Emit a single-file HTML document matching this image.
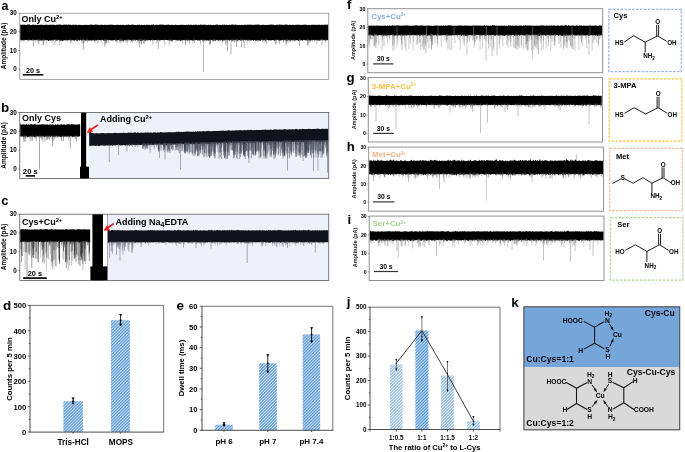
<!DOCTYPE html>
<html lang="en"><head><meta charset="utf-8"><title>Figure</title>
<style>html,body{margin:0;padding:0;background:#fff}body{width:685px;height:452px;overflow:hidden}svg{display:block;font-family:"Liberation Sans", Arial, Helvetica, sans-serif;will-change:transform;transform:translateZ(0)}</style></head><body>
<svg width="685" height="452" viewBox="0 0 685 452">
<defs>
</defs>
<rect width="685" height="452" fill="#fff"/>
<path d="M20.2 24.66 L20.7 24.74 L21.2 24.62 L21.7 24.93 L22.2 24.66 L22.7 24.85 L23.2 24.55 L23.7 25.06 L24.2 24.17 L24.7 24.82 L25.2 25.07 L25.7 24.98 L26.2 25 L26.7 24.71 L27.2 24.46 L27.7 24.59 L28.2 24.57 L28.7 24.82 L29.2 23.91 L29.7 24.8 L30.2 25 L30.7 25.07 L31.2 25.06 L31.7 24.9 L32.2 24.43 L32.7 24.85 L33.2 24.76 L33.7 24.74 L34.2 24.65 L34.7 25.05 L35.2 24.82 L35.7 24.51 L36.2 24.9 L36.7 25 L37.2 25.03 L37.7 24.73 L38.2 24.89 L38.7 24.75 L39.2 24.82 L39.7 25.03 L40.2 24.46 L40.7 24.85 L41.2 25.01 L41.7 24.79 L42.2 24.22 L42.7 25.04 L43.2 25.05 L43.7 25.06 L44.2 24.7 L44.7 25.08 L45.2 24.83 L45.7 24.7 L46.2 24.46 L46.7 25.01 L47.2 24.54 L47.7 25.1 L48.2 25.04 L48.7 24.81 L49.2 24.74 L49.7 24.95 L50.2 24.2 L50.7 25.06 L51.2 25.07 L51.7 24.85 L52.2 24.84 L52.7 24.86 L53.2 24.44 L53.7 24.88 L54.2 24.89 L54.7 24.82 L55.2 24.98 L55.7 24.95 L56.2 24.93 L56.7 24.61 L57.2 24.58 L57.7 24.93 L58.2 25.04 L58.7 24.31 L59.2 24.82 L59.7 24.59 L60.2 24.52 L60.7 24.52 L61.2 24.7 L61.7 25.04 L62.2 25.05 L62.7 24.89 L63.2 24.77 L63.7 24.51 L64.2 24.55 L64.7 24.79 L65.2 24.85 L65.7 24.67 L66.2 24.65 L66.7 24.36 L67.2 25.05 L67.7 25.06 L68.2 24.46 L68.7 24.58 L69.2 24.62 L69.7 24.84 L70.2 24.97 L70.7 24.49 L71.2 25.1 L71.7 24.93 L72.2 25.04 L72.7 24.66 L73.2 24.39 L73.7 24.85 L74.2 24.98 L74.7 24.83 L75.2 24.84 L75.7 24.83 L76.2 24.82 L76.7 24.74 L77.2 24.89 L77.7 25.06 L78.2 24.82 L78.7 25.02 L79.2 24.8 L79.7 24.83 L80.2 24.71 L80.7 25.02 L81.2 25.03 L81.7 24.98 L82.2 24.87 L82.7 24.91 L83.2 25.02 L83.7 24.97 L84.2 25.03 L84.7 24.83 L85.2 24.74 L85.7 24.78 L86.2 25 L86.7 24.88 L87.2 24.69 L87.7 25.05 L88.2 25.05 L88.7 24.96 L89.2 24.64 L89.7 24.6 L90.2 24.97 L90.7 24.57 L91.2 24.83 L91.7 24.54 L92.2 24.77 L92.7 24.63 L93.2 24.72 L93.7 24.96 L94.2 24.98 L94.7 24.74 L95.2 24.92 L95.7 24.12 L96.2 24.48 L96.7 24.76 L97.2 24.89 L97.7 24.76 L98.2 24.51 L98.7 25.01 L99.2 25.05 L99.7 25.03 L100.2 24.78 L100.7 24.97 L101.2 24.53 L101.7 24.81 L102.2 24.7 L102.7 24.96 L103.2 25.02 L103.7 24.95 L104.2 24.82 L104.7 24.84 L105.2 24.97 L105.7 24.66 L106.2 24.92 L106.7 24.67 L107.2 24.88 L107.7 24.68 L108.2 25.03 L108.7 24.67 L109.2 24.58 L109.7 24.71 L110.2 25.05 L110.7 24.74 L111.2 24.31 L111.7 25.05 L112.2 24.83 L112.7 24.79 L113.2 24.79 L113.7 24.92 L114.2 24.93 L114.7 25.09 L115.2 25.01 L115.7 24.98 L116.2 24.79 L116.7 24.64 L117.2 24.79 L117.7 25.1 L118.2 24.72 L118.7 24.84 L119.2 24.89 L119.7 24.96 L120.2 24.81 L120.7 24.81 L121.2 24.94 L121.7 25.06 L122.2 24.84 L122.7 24.78 L123.2 24.84 L123.7 24.95 L124.2 25.06 L124.7 25.09 L125.2 24.91 L125.7 25.05 L126.2 24.65 L126.7 24.86 L127.2 24.77 L127.7 24.93 L128.2 24.49 L128.7 24.55 L129.2 25.05 L129.7 25.02 L130.2 24.69 L130.7 24.92 L131.2 25 L131.7 24.51 L132.2 24.96 L132.7 24.28 L133.2 24.5 L133.7 24.91 L134.2 24.72 L134.7 25.05 L135.2 24.89 L135.7 24.93 L136.2 25.08 L136.7 25.03 L137.2 25.04 L137.7 24.59 L138.2 24.9 L138.7 24.85 L139.2 24.75 L139.7 24.45 L140.2 25.06 L140.7 25.08 L141.2 24.95 L141.7 24.51 L142.2 24.89 L142.7 25.06 L143.2 25.08 L143.7 24.88 L144.2 24.76 L144.7 24.78 L145.2 25 L145.7 24.94 L146.2 24.85 L146.7 24.75 L147.2 24.58 L147.7 24.92 L148.2 25.02 L148.7 24.66 L149.2 25.08 L149.7 24.87 L150.2 24.98 L150.7 25.1 L151.2 24.69 L151.7 24.64 L152.2 24.59 L152.7 25.05 L153.2 24.6 L153.7 24.3 L154.2 24.88 L154.7 24.9 L155.2 25 L155.7 24.75 L156.2 24.62 L156.7 24.9 L157.2 24.84 L157.7 24.98 L158.2 25.08 L158.7 25.1 L159.2 24.77 L159.7 24.51 L160.2 25.1 L160.7 24.24 L161.2 24.4 L161.7 24.73 L162.2 24.83 L162.7 24.26 L163.2 25.03 L163.7 24.44 L164.2 24.96 L164.7 24.82 L165.2 25.07 L165.7 24.92 L166.2 24.6 L166.7 24.83 L167.2 24.77 L167.7 25.02 L168.2 24.21 L168.7 25.07 L169.2 24.53 L169.7 24.99 L170.2 24.92 L170.7 24.92 L171.2 24.67 L171.7 25.1 L172.2 25.09 L172.7 24.46 L173.2 24.98 L173.7 25.05 L174.2 24.98 L174.7 24.97 L175.2 24.64 L175.7 24.62 L176.2 24.81 L176.7 25.02 L177.2 25.08 L177.7 24.94 L178.2 24.92 L178.7 25.07 L179.2 24.85 L179.7 24.97 L180.2 24.48 L180.7 24.89 L181.2 25.08 L181.7 24.79 L182.2 24.5 L182.7 24.97 L183.2 24.72 L183.7 24.98 L184.2 25.08 L184.7 24.98 L185.2 24.83 L185.7 25.01 L186.2 25.06 L186.7 24.74 L187.2 24.98 L187.7 24.98 L188.2 24.36 L188.7 24.77 L189.2 25 L189.7 24.95 L190.2 24.4 L190.7 25.1 L191.2 24.87 L191.7 24.82 L192.2 24.94 L192.7 24.97 L193.2 24.86 L193.7 24.83 L194.2 24.89 L194.7 24.67 L195.2 24.65 L195.7 24.59 L196.2 25.06 L196.7 24.49 L197.2 24.97 L197.7 25.04 L198.2 24.66 L198.7 24.73 L199.2 24.94 L199.7 24.99 L200.2 24.49 L200.7 24.84 L201.2 24.57 L201.7 24.65 L202.2 25 L202.7 24.78 L203.2 24.85 L203.7 24.71 L204.2 24.72 L204.7 24.6 L205.2 24.54 L205.7 24.98 L206.2 24.92 L206.7 25.04 L207.2 24.95 L207.7 24.99 L208.2 24.85 L208.7 24.81 L209.2 24.71 L209.7 25.06 L210.2 24.73 L210.7 24.42 L211.2 24.93 L211.7 25 L212.2 25.05 L212.7 24.89 L213.2 24.98 L213.7 24.82 L214.2 24.93 L214.7 24.93 L215.2 25.05 L215.7 24.82 L216.2 24.24 L216.7 24.85 L217.2 24.27 L217.7 24.99 L218.2 24.67 L218.7 24.93 L219.2 24.95 L219.7 24.69 L220.2 24.66 L220.7 24.99 L221.2 24.98 L221.7 24.98 L222.2 24.8 L222.7 24.36 L223.2 25.05 L223.7 24.74 L224.2 24.43 L224.7 24.72 L225.2 24.85 L225.7 25.07 L226.2 24.7 L226.7 24.64 L227.2 24.91 L227.7 25.01 L228.2 24.96 L228.7 24.99 L229.2 24.68 L229.7 24.73 L230.2 24.98 L230.7 24.83 L231.2 24.54 L231.7 24.75 L232.2 24.82 L232.7 24.19 L233.2 24.85 L233.7 24.75 L234.2 25.03 L234.7 24.73 L235.2 23.99 L235.7 25.03 L236.2 24.88 L236.7 24.78 L237.2 25 L237.7 24.68 L238.2 25.09 L238.7 25.06 L239.2 24.66 L239.7 25.05 L240.2 25.03 L240.7 25 L241.2 24.85 L241.7 24.94 L242.2 24.85 L242.7 24.88 L243.2 25 L243.7 24.98 L244.2 24.77 L244.7 24.58 L245.2 25.03 L245.7 24.86 L246.2 25.05 L246.7 24.65 L247.2 24.47 L247.7 24.84 L248.2 24.78 L248.7 24.81 L249.2 24.82 L249.7 24.47 L250.2 24.87 L250.7 24.77 L251.2 24.73 L251.7 24.85 L252.2 24.74 L252.7 24.67 L253.2 24.95 L253.7 24.82 L254.2 24.93 L254.7 24.87 L255.2 24.61 L255.7 24.7 L256.2 24.84 L256.7 24.41 L257.2 24.59 L257.7 24.66 L258.2 24.84 L258.7 24.16 L259.2 24.9 L259.7 24.62 L260.2 24.92 L260.7 25.07 L261.2 24.99 L261.7 24.96 L262.2 24.88 L262.7 24.25 L263.2 24.93 L263.7 24.82 L264.2 24.75 L264.7 25.08 L265.2 24.97 L265.7 24.88 L266.2 24.9 L266.7 24.82 L267.2 24.81 L267.7 25.04 L268.2 25 L268.7 24.63 L269.2 24.74 L269.7 24.71 L270.2 25.07 L270.7 23.94 L271.2 24.73 L271.7 24.78 L272.2 24.38 L272.7 24.67 L273.2 24.39 L273.7 25.05 L274.2 24.98 L274.7 25.05 L275.2 25.1 L275.7 24.99 L276.2 24.82 L276.7 24.74 L277.2 24.57 L277.7 24.84 L278.2 24.97 L278.7 25.09 L279.2 24.3 L279.7 24.73 L280.2 24.53 L280.7 24.99 L281.2 24.39 L281.7 24.58 L282.2 24.78 L282.7 25.09 L283.2 25.09 L283.7 25.04 L284.2 24.58 L284.7 24.83 L285.2 25.01 L285.7 24.34 L286.2 24.95 L286.7 24.19 L287.2 24.86 L287.7 24.87 L288.2 24.91 L288.7 24.92 L289.2 24.88 L289.7 24.24 L290.2 24.95 L290.7 24.83 L291.2 24.94 L291.7 25.05 L292.2 24.51 L292.7 25.06 L293.2 24.82 L293.7 24.96 L294.2 25.05 L294.7 25.04 L295.2 24.99 L295.7 24.77 L296.2 24.73 L296.7 24.74 L297.2 25.06 L297.7 24.62 L298.2 25.01 L298.7 24.23 L299.2 24.69 L299.7 24.99 L300.2 24.86 L300.7 25.1 L301.2 24.85 L301.7 25.09 L302.2 25.02 L302.7 24.8 L303.2 25.01 L303.7 24.52 L304.2 24.48 L304.7 24.87 L305.2 24.61 L305.7 24.76 L306.2 25.01 L306.7 24.4 L307.2 24.92 L307.7 24.89 L308.2 25.06 L308.7 24.89 L309.2 24.52 L309.7 24.95 L310.2 25.06 L310.7 25.01 L311.2 25 L311.7 24.63 L312.2 24.44 L312.7 25.01 L313.2 24.68 L313.7 24.74 L314.2 25.05 L314.7 24.39 L315.2 24.69 L315.7 25.03 L316.2 24.91 L316.7 24.8 L317.2 24.78 L317.7 25.06 L318.2 24.53 L318.7 24.97 L319.2 24.8 L319.7 24.79 L320.2 24.76 L320.7 24.93 L321.2 25 L321.7 24.49 L322.2 24.9 L322.7 24.53 L323.2 24.84 L323.7 24.95 L324.2 24.86 L324.7 24.97 L325.2 23.93 L325.7 25.05 L326.2 25.07 L326.7 24.85 L327.2 24.29 L327.7 24.89 L328.2 24.61 L328.2 39.89 L327.7 40.17 L327.2 40.1 L326.7 39.93 L326.2 40.21 L325.7 40.68 L325.2 40.18 L324.7 39.9 L324.2 40.08 L323.7 39.99 L323.2 39.9 L322.7 40.05 L322.2 39.83 L321.7 39.86 L321.2 39.83 L320.7 40.08 L320.2 40.01 L319.7 40.63 L319.2 40.5 L318.7 40.16 L318.2 40.33 L317.7 40.52 L317.2 40.25 L316.7 39.92 L316.2 40.17 L315.7 40.18 L315.2 40.08 L314.7 40.32 L314.2 40.76 L313.7 40.03 L313.2 39.87 L312.7 40.08 L312.2 40.28 L311.7 40.29 L311.2 39.8 L310.7 40.5 L310.2 40.42 L309.7 40.73 L309.2 40.14 L308.7 40.05 L308.2 40.12 L307.7 39.9 L307.2 40.4 L306.7 39.84 L306.2 40.44 L305.7 40.41 L305.2 40.07 L304.7 39.8 L304.2 40.62 L303.7 40.01 L303.2 39.81 L302.7 40.86 L302.2 40.47 L301.7 40.21 L301.2 40.03 L300.7 40.77 L300.2 40.06 L299.7 39.83 L299.2 40.04 L298.7 40.63 L298.2 40.56 L297.7 40.16 L297.2 40.25 L296.7 40.28 L296.2 40.37 L295.7 40.62 L295.2 40.16 L294.7 40.15 L294.2 40.26 L293.7 39.87 L293.2 41 L292.7 40.08 L292.2 40.44 L291.7 40.26 L291.2 39.88 L290.7 40.84 L290.2 40.53 L289.7 41.02 L289.2 39.86 L288.7 40.23 L288.2 40.02 L287.7 40.97 L287.2 39.86 L286.7 40.4 L286.2 40.39 L285.7 40.02 L285.2 39.88 L284.7 40.11 L284.2 40.41 L283.7 39.97 L283.2 40.26 L282.7 39.81 L282.2 40.27 L281.7 40.36 L281.2 40.28 L280.7 40.68 L280.2 40.26 L279.7 40.74 L279.2 40.54 L278.7 40 L278.2 40.31 L277.7 39.87 L277.2 40.07 L276.7 39.81 L276.2 40.21 L275.7 39.91 L275.2 40.26 L274.7 40.52 L274.2 40.95 L273.7 39.96 L273.2 40.28 L272.7 39.91 L272.2 40.27 L271.7 40.11 L271.2 40.7 L270.7 39.96 L270.2 40.7 L269.7 40.38 L269.2 39.9 L268.7 39.98 L268.2 40.07 L267.7 39.92 L267.2 40 L266.7 39.85 L266.2 39.94 L265.7 40.22 L265.2 40.38 L264.7 39.89 L264.2 40.29 L263.7 40.58 L263.2 40.19 L262.7 39.9 L262.2 39.87 L261.7 39.86 L261.2 40.1 L260.7 40.5 L260.2 40.92 L259.7 40.5 L259.2 40.47 L258.7 40.71 L258.2 39.96 L257.7 39.99 L257.2 40.68 L256.7 40.82 L256.2 40.26 L255.7 40.89 L255.2 40.19 L254.7 40 L254.2 40.06 L253.7 41.03 L253.2 40.8 L252.7 39.85 L252.2 40.46 L251.7 40.31 L251.2 40.19 L250.7 40.57 L250.2 40.46 L249.7 39.86 L249.2 40.13 L248.7 40.46 L248.2 39.86 L247.7 40.43 L247.2 39.91 L246.7 40.29 L246.2 39.85 L245.7 40.12 L245.2 40.8 L244.7 39.86 L244.2 40.07 L243.7 39.92 L243.2 40.03 L242.7 40.01 L242.2 40.42 L241.7 40.3 L241.2 40.56 L240.7 39.99 L240.2 40.01 L239.7 40.28 L239.2 40.04 L238.7 40.28 L238.2 40.16 L237.7 40.3 L237.2 40.27 L236.7 40.27 L236.2 40.1 L235.7 40.15 L235.2 39.91 L234.7 40.03 L234.2 40.19 L233.7 39.84 L233.2 40.49 L232.7 40.14 L232.2 40.13 L231.7 40.44 L231.2 39.97 L230.7 40.01 L230.2 40.23 L229.7 40.65 L229.2 39.98 L228.7 40.13 L228.2 39.92 L227.7 40.34 L227.2 40.16 L226.7 40 L226.2 39.88 L225.7 40.04 L225.2 40.01 L224.7 40.63 L224.2 39.81 L223.7 40.55 L223.2 40.46 L222.7 41.09 L222.2 40.28 L221.7 40.18 L221.2 40.06 L220.7 40.52 L220.2 40.5 L219.7 39.84 L219.2 40.13 L218.7 41.42 L218.2 39.91 L217.7 40.3 L217.2 40.2 L216.7 39.84 L216.2 40.2 L215.7 40.05 L215.2 40.93 L214.7 40.36 L214.2 40.43 L213.7 40.6 L213.2 40.2 L212.7 40.02 L212.2 40.65 L211.7 40.15 L211.2 39.86 L210.7 40.4 L210.2 40.03 L209.7 40.14 L209.2 40.32 L208.7 39.97 L208.2 41.18 L207.7 40.34 L207.2 40.03 L206.7 41.46 L206.2 39.95 L205.7 40.33 L205.2 39.93 L204.7 40 L204.2 40.78 L203.7 40.58 L203.2 40.51 L202.7 40.08 L202.2 40.63 L201.7 39.83 L201.2 39.96 L200.7 40.1 L200.2 39.92 L199.7 40.7 L199.2 40.13 L198.7 40.5 L198.2 40.19 L197.7 40.95 L197.2 39.91 L196.7 40.08 L196.2 39.99 L195.7 39.96 L195.2 39.99 L194.7 39.89 L194.2 40.1 L193.7 40.62 L193.2 40.39 L192.7 40.44 L192.2 40.45 L191.7 40.13 L191.2 40.18 L190.7 40.31 L190.2 40.26 L189.7 40.3 L189.2 40.24 L188.7 40.1 L188.2 40.43 L187.7 40.48 L187.2 40 L186.7 40.48 L186.2 40.09 L185.7 40.62 L185.2 40.03 L184.7 40.57 L184.2 40.01 L183.7 40.22 L183.2 40.04 L182.7 39.91 L182.2 40.43 L181.7 40.03 L181.2 41.02 L180.7 40.41 L180.2 41.14 L179.7 40.28 L179.2 39.99 L178.7 40.17 L178.2 40.5 L177.7 39.92 L177.2 40.83 L176.7 40.28 L176.2 40.24 L175.7 40.04 L175.2 40.22 L174.7 39.85 L174.2 39.98 L173.7 40.36 L173.2 39.85 L172.7 40.36 L172.2 41.31 L171.7 40.15 L171.2 40.22 L170.7 40.44 L170.2 40.13 L169.7 40.54 L169.2 40.55 L168.7 40.2 L168.2 39.82 L167.7 40.45 L167.2 40.08 L166.7 39.92 L166.2 40.08 L165.7 39.85 L165.2 39.97 L164.7 40.22 L164.2 39.96 L163.7 39.93 L163.2 40.4 L162.7 39.99 L162.2 39.87 L161.7 40.06 L161.2 40.32 L160.7 39.89 L160.2 39.97 L159.7 40.54 L159.2 40.55 L158.7 39.96 L158.2 39.89 L157.7 40.64 L157.2 40.37 L156.7 40.13 L156.2 39.92 L155.7 39.99 L155.2 39.92 L154.7 40.35 L154.2 40.31 L153.7 40.15 L153.2 40.32 L152.7 40 L152.2 39.82 L151.7 39.94 L151.2 40 L150.7 40.97 L150.2 39.97 L149.7 39.91 L149.2 40.35 L148.7 40.39 L148.2 39.81 L147.7 40.67 L147.2 39.8 L146.7 39.91 L146.2 40.39 L145.7 40.22 L145.2 41.09 L144.7 40.38 L144.2 39.83 L143.7 40.31 L143.2 40 L142.7 40.35 L142.2 40.67 L141.7 40.47 L141.2 40.31 L140.7 40.74 L140.2 40.99 L139.7 39.91 L139.2 40.17 L138.7 40.2 L138.2 40.83 L137.7 40.4 L137.2 39.81 L136.7 40.11 L136.2 40.35 L135.7 40.34 L135.2 40.79 L134.7 39.85 L134.2 39.85 L133.7 40.34 L133.2 40.02 L132.7 40.3 L132.2 39.91 L131.7 41.19 L131.2 40.13 L130.7 39.93 L130.2 40.01 L129.7 39.89 L129.2 39.99 L128.7 39.81 L128.2 39.83 L127.7 39.85 L127.2 40.88 L126.7 39.84 L126.2 40.27 L125.7 40.07 L125.2 40.29 L124.7 40.04 L124.2 40.67 L123.7 39.99 L123.2 41.69 L122.7 40.92 L122.2 40.07 L121.7 40.78 L121.2 40.11 L120.7 40.4 L120.2 40.31 L119.7 40.53 L119.2 39.86 L118.7 40.19 L118.2 39.91 L117.7 40.16 L117.2 40.25 L116.7 40.34 L116.2 40.39 L115.7 40.24 L115.2 40.16 L114.7 39.91 L114.2 39.93 L113.7 40.5 L113.2 39.87 L112.7 40.86 L112.2 40.21 L111.7 40.41 L111.2 40.13 L110.7 39.93 L110.2 39.99 L109.7 40.04 L109.2 40.37 L108.7 39.92 L108.2 39.88 L107.7 39.94 L107.2 39.96 L106.7 39.93 L106.2 40.82 L105.7 40.76 L105.2 40.29 L104.7 40.38 L104.2 40.3 L103.7 40.64 L103.2 40.45 L102.7 39.87 L102.2 40.01 L101.7 40.5 L101.2 39.89 L100.7 40.04 L100.2 40.62 L99.7 40.12 L99.2 39.98 L98.7 39.81 L98.2 40.09 L97.7 40.09 L97.2 40.19 L96.7 40.87 L96.2 40.02 L95.7 39.98 L95.2 40.93 L94.7 40.47 L94.2 40.78 L93.7 40.1 L93.2 40.01 L92.7 40.46 L92.2 40.29 L91.7 40.64 L91.2 40.23 L90.7 40.16 L90.2 39.93 L89.7 40.39 L89.2 40.4 L88.7 40.42 L88.2 40.29 L87.7 40.13 L87.2 39.84 L86.7 39.85 L86.2 40.13 L85.7 41.07 L85.2 40.37 L84.7 40.23 L84.2 39.93 L83.7 40.15 L83.2 39.83 L82.7 39.83 L82.2 40.69 L81.7 40.48 L81.2 39.91 L80.7 39.86 L80.2 39.87 L79.7 40.75 L79.2 40.25 L78.7 40.34 L78.2 39.93 L77.7 40.12 L77.2 41.08 L76.7 40.7 L76.2 40.28 L75.7 40.03 L75.2 40.16 L74.7 40.92 L74.2 40.34 L73.7 40.51 L73.2 40.21 L72.7 40.24 L72.2 40.11 L71.7 40.57 L71.2 39.88 L70.7 40.6 L70.2 40.4 L69.7 39.85 L69.2 39.94 L68.7 40.25 L68.2 40.18 L67.7 40.51 L67.2 40.33 L66.7 39.85 L66.2 40.17 L65.7 40.17 L65.2 40.17 L64.7 40.33 L64.2 40.27 L63.7 40.44 L63.2 40.46 L62.7 40.95 L62.2 40.64 L61.7 40.96 L61.2 40.11 L60.7 41.68 L60.2 39.9 L59.7 39.9 L59.2 41.12 L58.7 39.93 L58.2 39.91 L57.7 40.47 L57.2 39.9 L56.7 40.67 L56.2 39.93 L55.7 40.26 L55.2 39.86 L54.7 39.84 L54.2 39.98 L53.7 40.09 L53.2 40.18 L52.7 39.96 L52.2 40.57 L51.7 40.06 L51.2 40.81 L50.7 40.64 L50.2 40.13 L49.7 39.92 L49.2 40.3 L48.7 41.05 L48.2 41.08 L47.7 40.15 L47.2 40.34 L46.7 40.09 L46.2 40.29 L45.7 39.96 L45.2 40.23 L44.7 40.53 L44.2 40.18 L43.7 40 L43.2 40.28 L42.7 40.21 L42.2 40.76 L41.7 40.41 L41.2 40.32 L40.7 40.86 L40.2 39.98 L39.7 40.22 L39.2 40.18 L38.7 40.37 L38.2 40.62 L37.7 40.01 L37.2 40.12 L36.7 39.91 L36.2 40.07 L35.7 40 L35.2 40.05 L34.7 40.22 L34.2 40.14 L33.7 39.87 L33.2 40.13 L32.7 39.8 L32.2 40.07 L31.7 40.24 L31.2 40.34 L30.7 40 L30.2 40.16 L29.7 40.51 L29.2 39.83 L28.7 39.92 L28.2 39.8 L27.7 39.89 L27.2 40.18 L26.7 39.91 L26.2 40.17 L25.7 39.83 L25.2 39.88 L24.7 40.41 L24.2 39.96 L23.7 39.95 L23.2 40.33 L22.7 40.06 L22.2 40.5 L21.7 40.39 L21.2 39.84 L20.7 40.08 L20.2 40Z" fill="#000"/>
<path d="M32.98 38.8V41.26M220.29 38.8V40.8M126.16 38.8V42.61M286.18 38.8V42.01M292.92 38.8V41.45M141.43 38.8V43.74M137.81 38.8V43.23M86.93 38.8V41.12M77.17 38.8V41.81M71.11 38.8V40.88M86.64 38.8V41.47M115.52 38.8V41.4M325.75 38.8V42.51M285.66 38.8V40.89M138.37 38.8V40.81M233.05 38.8V41.16M105.08 38.8V40.8M76.69 38.8V40.96M141.44 38.8V44.49M240.36 38.8V40.97M131.66 38.8V40.84M308.35 38.8V41.15M255.87 38.8V42.8M299.27 38.8V40.8M119.68 38.8V41.21M46.33 38.8V44.09M120.65 38.8V43.15M180.23 38.8V40.8M141.75 38.8V40.92M33.33 38.8V40.84M203.59 38.8V40.8M116.67 38.8V41.33M187.8 38.8V40.83M237.73 38.8V40.96M243.52 38.8V42.43M65.99 38.8V40.89M106.87 38.8V42.73M145.23 38.8V41.22M286.65 38.8V40.91M110.47 38.8V41.11M87.04 38.8V40.8M28.33 38.8V42.22M194.54 38.8V43.45M320.31 38.8V41.02M226.64 38.8V44.44M87.18 38.8V42.57M225.44 38.8V44.81M287.39 38.8V40.92M214.98 38.8V40.81M152.11 38.8V41.23M39.25 38.8V41.21M121.55 38.8V41.58M106.7 38.8V40.85M144.35 38.8V41.5M71.98 38.8V42.42M94.42 38.8V40.81M125.74 38.8V41.32M67.09 38.8V41.97M236.12 38.8V41.82M235.76 38.8V40.8M140.95 38.8V41.16M40.12 38.8V41.27M37.57 38.8V41.58M200.67 38.8V41.48M120.74 38.8V40.95M28.02 38.8V41.12M294.57 38.8V41.88M101.2 38.8V42.44M77.9 38.8V41.48M209.68 38.8V44.81M132.13 38.8V41.93M310.11 38.8V43.15M213.39 38.8V42.17M146.96 38.8V41.3M105.59 38.8V43.62M290.88 38.8V41.21M300.05 38.8V40.8M62.51 38.8V41.62M115.54 38.8V41.15M320.73 38.8V40.84M79.88 38.8V40.91M229.61 38.8V40.92M21.09 38.8V41.78M141.73 38.8V40.93M172.34 38.8V42.33M189.08 38.8V42.19M192.95 38.8V43.63M318.23 38.8V41.09M127.23 38.8V44.13M117 38.8V42.75M234.28 38.8V42.56M316.72 38.8V43.58M69.76 38.8V42.17M171.43 38.8V41.87M134.24 38.8V41M250.73 38.8V41.74M93.57 38.8V40.94M120.57 38.8V40.86M178.52 38.8V40.83M40.21 38.8V40.81M52.18 38.8V42.68M55.42 38.8V41.42M257.84 38.8V41.52M70.71 38.8V43.94M287.84 38.8V40.8M98.75 38.8V41.63M265.31 38.8V41.23M240.6 38.8V40.94M240.53 38.8V41.07M123.29 38.8V43.06M279.51 38.8V43.61M195.01 38.8V41.32M237.83 38.8V42.18M275.92 38.8V43.39M59.24 38.8V41.19M226.29 38.8V40.92M77.49 38.8V40.8M200.56 38.8V44.67M318.72 38.8V40.83M231.89 38.8V41.31M214.66 38.8V41.25M307.35 38.8V45.18M35.75 38.8V42.73M57.15 38.8V40.8M108.61 38.8V42.86M325.84 38.8V40.82M122.13 38.8V40.8M187.37 38.8V41.53M135.44 38.8V41.04M266.55 38.8V43.7M107.91 38.8V41.23M210.45 38.8V43.11M321.96 38.8V41.23M233.87 38.8V41.79M266.45 38.8V40.84M74.55 38.8V40.82M307.4 38.8V40.94M170.7 38.8V40.82M120.16 38.8V40.8M194.54 38.8V40.84M212.76 38.8V40.98M90.66 38.8V41.53M133.11 38.8V40.95M36.53 38.8V40.8M294.84 38.8V41.04M44.87 38.8V40.86M169.22 38.8V45.27M82.88 38.8V43.95M169.47 38.8V41.3M268.55 38.8V41.24M38.5 38.8V41.81M222.46 38.8V42.18M105.87 38.8V44.64M286.23 38.8V45.24M156.86 38.8V43.66M243.36 38.8V40.86M29.02 38.8V40.85M57.26 38.8V40.81M130.99 38.8V43.02M115.97 38.8V41.65M24.02 38.8V40.89M315.29 38.8V40.8M182.67 38.8V43.46M264.03 38.8V42.89M143.38 38.8V43.4M274.89 38.8V43.12M323.48 38.8V40.81M312.57 38.8V41.26M237.32 38.8V40.94M300.06 38.8V40.8M197.88 38.8V40.91M140.04 38.8V41.17M222.49 38.8V43.46M132.76 38.8V42.26M129.49 38.8V40.99M298.68 38.8V41.06M49.7 38.8V41.09M248.48 38.8V40.89M248.96 38.8V41.79M229.63 38.8V40.86M53.29 38.8V40.83M128.35 38.8V41.35M23.7 38.8V41.61M144.63 38.8V41.06M185.7 38.8V44.78M83.64 38.8V44.07M119.31 38.8V43.02M54.07 38.8V45.16M152.84 38.8V44.89M88.23 38.8V41.28M237.56 38.8V40.86M104.72 38.8V42.5M311.74 38.8V41.07M77.12 38.8V41.14M324.57 38.8V40.84M215.66 38.8V41.2M218.47 38.8V40.89M210 38.8V44.14M283.7 38.8V42.21M175.79 38.8V41.89M55.84 38.8V43.69M232.58 38.8V41.42M225.09 38.8V41.31M138.89 38.8V40.91M205.2 38.8V41.92M178.98 38.8V40.8M213.39 38.8V41.4M202.96 38.8V42.03M306.8 38.8V40.84M164.69 38.8V45.22M247.36 38.8V41.05M246.98 38.8V45.18M144.24 38.8V43.95M59.69 38.8V45.19M171.56 38.8V40.92M278.75 38.8V42.33M308.67 38.8V43.62M265.69 38.8V41.64M325.86 38.8V40.8M287.92 38.8V42.72M97.77 38.8V43.43M160.2 38.8V41.75M286.52 38.8V40.88M106.64 38.8V42.3M43.38 38.8V41.83M262.45 38.8V41.56M95.03 38.8V43.38M283.3 38.8V43.15M189.43 38.8V44.31M265.41 38.8V40.84M133.12 38.8V40.81M32.1 38.8V41.12M286.31 38.8V43.66M56.84 38.8V40.86M140.11 38.8V43.79M210.24 38.8V44.28M42.87 38.8V45.16M84.27 38.8V42.21M289.91 38.8V42.83M81.3 38.8V42.44" stroke="#444" stroke-width="0.35" fill="none" opacity="1.0"/>
<path d="M33.4 38.8V46.5M38.7 38.8V44.5M43.5 38.8V45M83.4 38.8V49M104.8 38.8V47M139.3 38.8V47.5M158.3 38.8V49M185.5 38.8V45M203.4 38.8V72M227.5 38.8V51M231 38.8V54.5M236.5 38.8V47M241.5 38.8V47.5M244.3 38.8V48M276 38.8V45M299.5 38.8V46M308 38.8V46M322 38.8V45" stroke="#555" stroke-width="0.45" fill="none" opacity="1.0"/>
<rect x="19.8" y="13.2" width="309" height="66.2" fill="none" stroke="#7a7a7a" stroke-width="0.65"/>
<line x1="18.4" y1="13.2" x2="19.8" y2="13.2" stroke="#333" stroke-width="0.6"/>
<text x="16.8" y="15.47" font-size="6.3" font-weight="bold" text-anchor="end" fill="#000" >30</text>
<line x1="18.4" y1="31.8" x2="19.8" y2="31.8" stroke="#333" stroke-width="0.6"/>
<text x="16.8" y="34.07" font-size="6.3" font-weight="bold" text-anchor="end" fill="#000" >20</text>
<line x1="18.4" y1="50.5" x2="19.8" y2="50.5" stroke="#333" stroke-width="0.6"/>
<text x="16.8" y="52.77" font-size="6.3" font-weight="bold" text-anchor="end" fill="#000" >10</text>
<line x1="18.4" y1="69.2" x2="19.8" y2="69.2" stroke="#333" stroke-width="0.6"/>
<text x="16.8" y="71.47" font-size="6.3" font-weight="bold" text-anchor="end" fill="#000" >0</text>
<text transform="translate(6.2,46) rotate(-90)" font-size="6.5" font-weight="bold" text-anchor="middle" fill="#000">Amplitude (pA)</text>
<text x="1.6" y="9.7" font-size="12.4" font-weight="bold" text-anchor="start" fill="#000" >a</text>
<text x="21.5" y="21.9" font-size="9" font-weight="bold" text-anchor="start" fill="#000" >Only Cu<tspan dy="-2.97" font-size="5.85">2+</tspan></text>
<line x1="22.8" y1="74.8" x2="43.4" y2="74.8" stroke="#000" stroke-width="1.5"/>
<text x="33.1" y="72.6" font-size="7.2" font-weight="bold" text-anchor="middle" fill="#000" >20 s</text>
<rect x="88.3" y="112.5" width="240.5" height="66" fill="#eef1fa"/>
<path d="M20.2 124.61 L20.7 123.51 L21.2 124.73 L21.7 124.61 L22.2 124.6 L22.7 124.49 L23.2 124.13 L23.7 124.48 L24.2 124.77 L24.7 124.45 L25.2 124.71 L25.7 124.52 L26.2 124.23 L26.7 124.35 L27.2 124.64 L27.7 124.75 L28.2 124.56 L28.7 124.3 L29.2 124.38 L29.7 124.69 L30.2 124.38 L30.7 124 L31.2 124.37 L31.7 124.35 L32.2 124.53 L32.7 124.47 L33.2 124.66 L33.7 124.43 L34.2 124.6 L34.7 123.77 L35.2 124.56 L35.7 124.12 L36.2 124.39 L36.7 124.67 L37.2 124.63 L37.7 124.48 L38.2 124.64 L38.7 124.76 L39.2 124.17 L39.7 124.65 L40.2 124.76 L40.7 124.23 L41.2 124.45 L41.7 124.56 L42.2 124.33 L42.7 124.21 L43.2 124.23 L43.7 124.59 L44.2 124.66 L44.7 124.13 L45.2 124.38 L45.7 124.58 L46.2 124.54 L46.7 124.54 L47.2 123.89 L47.7 124.69 L48.2 124.74 L48.7 124.65 L49.2 124.77 L49.7 124.56 L50.2 124.47 L50.7 124.19 L51.2 124.46 L51.7 124.75 L52.2 124.68 L52.7 124.36 L53.2 124.72 L53.7 124.8 L54.2 124.79 L54.7 124.69 L55.2 124.4 L55.7 124.4 L56.2 124.72 L56.7 124.71 L57.2 124.8 L57.7 124.09 L58.2 124.65 L58.7 124.61 L59.2 124.41 L59.7 124.78 L60.2 124.43 L60.7 124.51 L61.2 124.44 L61.7 124.35 L62.2 124.57 L62.7 124.76 L63.2 124.57 L63.7 124.58 L64.2 124.57 L64.7 124.19 L65.2 124.77 L65.7 124.67 L66.2 124.74 L66.7 124.61 L67.2 123.85 L67.7 124.54 L68.2 124.48 L68.7 124.19 L69.2 123.93 L69.7 124.55 L70.2 124.73 L70.7 124.59 L71.2 123.95 L71.7 124.49 L72.2 124.38 L72.7 124.33 L73.2 124.26 L73.7 124.27 L74.2 124.62 L74.7 124.75 L75.2 124.03 L75.7 124.78 L76.2 124.73 L76.7 124.5 L77.2 124.62 L77.7 124.51 L78.2 124.68 L78.7 124.09 L79.2 124.46 L79.7 123.95 L80.2 124.55 L80.2 136.23 L79.7 136.53 L79.2 136.33 L78.7 136.48 L78.2 136.63 L77.7 136.46 L77.2 136.75 L76.7 136.36 L76.2 136.43 L75.7 136.31 L75.2 136.63 L74.7 136.59 L74.2 136.59 L73.7 136.76 L73.2 136.51 L72.7 137.45 L72.2 136.82 L71.7 136.5 L71.2 136.24 L70.7 136.34 L70.2 136.42 L69.7 137.1 L69.2 136.38 L68.7 136.36 L68.2 136.75 L67.7 136.77 L67.2 136.36 L66.7 136.47 L66.2 136.35 L65.7 136.5 L65.2 136.73 L64.7 136.81 L64.2 136.26 L63.7 137.14 L63.2 136.75 L62.7 136.51 L62.2 136.23 L61.7 137 L61.2 136.63 L60.7 137.07 L60.2 136.73 L59.7 136.27 L59.2 137.1 L58.7 136.26 L58.2 136.52 L57.7 137.36 L57.2 136.25 L56.7 136.21 L56.2 136.3 L55.7 136.42 L55.2 136.7 L54.7 136.47 L54.2 136.4 L53.7 136.59 L53.2 136.79 L52.7 136.81 L52.2 136.8 L51.7 136.31 L51.2 136.33 L50.7 136.66 L50.2 136.93 L49.7 136.27 L49.2 136.44 L48.7 136.45 L48.2 136.61 L47.7 136.42 L47.2 136.57 L46.7 136.37 L46.2 136.93 L45.7 136.57 L45.2 136.27 L44.7 137.01 L44.2 137.18 L43.7 136.6 L43.2 136.35 L42.7 136.25 L42.2 136.31 L41.7 136.72 L41.2 136.49 L40.7 136.74 L40.2 136.37 L39.7 136.49 L39.2 136.41 L38.7 136.34 L38.2 136.65 L37.7 136.34 L37.2 136.4 L36.7 136.34 L36.2 136.39 L35.7 136.91 L35.2 136.65 L34.7 137.15 L34.2 136.79 L33.7 136.35 L33.2 136.89 L32.7 136.71 L32.2 136.43 L31.7 136.63 L31.2 136.23 L30.7 136.45 L30.2 136.4 L29.7 136.5 L29.2 136.99 L28.7 136.42 L28.2 137.07 L27.7 137.55 L27.2 136.9 L26.7 136.37 L26.2 136.55 L25.7 136.78 L25.2 136.53 L24.7 136.69 L24.2 136.36 L23.7 137.33 L23.2 136.94 L22.7 136.32 L22.2 136.45 L21.7 136.6 L21.2 136.45 L20.7 136.49 L20.2 136.28Z" fill="#000"/>
<path d="M28.39 135.3V137.51M39.18 135.3V137.36M23.7 135.3V142.24M69.36 135.3V137.34M49.26 135.3V140.37M50.67 135.3V137.31M40.91 135.3V137.9M74.94 135.3V138.82M47.97 135.3V139.11M23.68 135.3V139.48M68.63 135.3V139.38M42.16 135.3V137.62M21.4 135.3V137.32M29.95 135.3V138.18M66.87 135.3V137.47M48.76 135.3V139.15M58.07 135.3V137.3M75.3 135.3V138.84M38.75 135.3V137.52M61.59 135.3V141.59M40.77 135.3V137.96M53.78 135.3V137.41M44.83 135.3V141.44M53.74 135.3V140.56M36.3 135.3V140.97M67.13 135.3V137.49M52.18 135.3V139.45M54.71 135.3V138.94M35.01 135.3V138.66M41.79 135.3V140.34M42.86 135.3V142.08M55.17 135.3V137.49M45.41 135.3V137.35M64.39 135.3V137.31M56.61 135.3V137.67M66.8 135.3V137.35M61.08 135.3V139.68M34.6 135.3V137.36M42.85 135.3V139.23M36.25 135.3V137.3M46.93 135.3V140.43M30.14 135.3V141.67M50.89 135.3V137.39M26.72 135.3V137.86M49 135.3V137.41M25.78 135.3V138.39M35.84 135.3V138.14M47.48 135.3V139.56M54.99 135.3V137.49M31.44 135.3V140.88M23.79 135.3V137.35M24.94 135.3V140.59M52.83 135.3V141.5M57.88 135.3V137.75M46.28 135.3V139.82" stroke="#444" stroke-width="0.35" fill="none" opacity="1.0"/>
<path d="M25 135.3V142M32.5 135.3V141M39.5 135.3V169.5M52.6 135.3V146.5M63.5 135.3V141M70.3 135.3V148.5M76.5 135.3V141.5" stroke="#555" stroke-width="0.5" fill="none" opacity="1.0"/>
<path d="M89.2 132.24 L89.7 132.23 L90.2 132.09 L90.7 132.03 L91.2 132.4 L91.7 132.64 L92.2 133.15 L92.7 132.85 L93.2 133.21 L93.7 133.11 L94.2 133.3 L94.7 133.37 L95.2 133.42 L95.7 133.37 L96.2 132.92 L96.7 133.22 L97.2 133.27 L97.7 133.29 L98.2 133.4 L98.7 133.31 L99.2 133.26 L99.7 133.38 L100.2 133.11 L100.7 133.36 L101.2 133.3 L101.7 133.19 L102.2 132.99 L102.7 132.73 L103.2 133.23 L103.7 133.11 L104.2 133.19 L104.7 133.13 L105.2 133.27 L105.7 133.25 L106.2 133.29 L106.7 133.18 L107.2 133.2 L107.7 133.05 L108.2 132.84 L108.7 133.17 L109.2 133.11 L109.7 133.24 L110.2 132.99 L110.7 133.26 L111.2 133.17 L111.7 133.09 L112.2 133.21 L112.7 133.23 L113.2 133.05 L113.7 132.91 L114.2 133.1 L114.7 132.78 L115.2 132.74 L115.7 133 L116.2 132.87 L116.7 133.04 L117.2 132.97 L117.7 133.15 L118.2 133.13 L118.7 132.96 L119.2 132.83 L119.7 133.15 L120.2 132.78 L120.7 133.02 L121.2 133.09 L121.7 132.95 L122.2 133.03 L122.7 132.63 L123.2 133 L123.7 132.5 L124.2 132.93 L124.7 133.09 L125.2 132.98 L125.7 132.74 L126.2 132.97 L126.7 132.98 L127.2 133 L127.7 132.83 L128.2 132.61 L128.7 132.53 L129.2 132.62 L129.7 133.01 L130.2 131.92 L130.7 132.98 L131.2 132.9 L131.7 132.62 L132.2 132.64 L132.7 132.98 L133.2 132.79 L133.7 132.53 L134.2 132.48 L134.7 132.54 L135.2 132.12 L135.7 132.63 L136.2 132.71 L136.7 132.93 L137.2 132.55 L137.7 132.49 L138.2 132.67 L138.7 132.49 L139.2 132.92 L139.7 132.91 L140.2 132.81 L140.7 132.44 L141.2 132.62 L141.7 132.71 L142.2 132.83 L142.7 132.78 L143.2 132.76 L143.7 132.78 L144.2 132.86 L144.7 132.49 L145.2 132.76 L145.7 132.24 L146.2 132.61 L146.7 132.44 L147.2 132.78 L147.7 132.26 L148.2 132.69 L148.7 132.34 L149.2 132.75 L149.7 132.75 L150.2 132.27 L150.7 132.51 L151.2 132.73 L151.7 132.57 L152.2 132.68 L152.7 132.63 L153.2 132.45 L153.7 132.35 L154.2 132.53 L154.7 132.24 L155.2 132.59 L155.7 132.28 L156.2 132.64 L156.7 132.69 L157.2 132.2 L157.7 132.41 L158.2 132.37 L158.7 132.66 L159.2 132.42 L159.7 132.42 L160.2 132.1 L160.7 132.37 L161.2 132.12 L161.7 132.55 L162.2 132.29 L162.7 132.41 L163.2 132.31 L163.7 132.54 L164.2 132.45 L164.7 132.4 L165.2 132.13 L165.7 132.4 L166.2 132.25 L166.7 132.36 L167.2 132.33 L167.7 132.43 L168.2 132.37 L168.7 132.12 L169.2 132.32 L169.7 132.26 L170.2 131.98 L170.7 132.34 L171.2 132.18 L171.7 132.21 L172.2 132.22 L172.7 132.23 L173.2 132.27 L173.7 132.15 L174.2 132.32 L174.7 132.09 L175.2 132.24 L175.7 131.91 L176.2 132.14 L176.7 131.55 L177.2 131.85 L177.7 131.93 L178.2 132 L178.7 131.58 L179.2 131.95 L179.7 131.76 L180.2 131.76 L180.7 132.14 L181.2 131.84 L181.7 131.76 L182.2 131.92 L182.7 131.92 L183.2 131.69 L183.7 132.01 L184.2 131.46 L184.7 131.95 L185.2 131.53 L185.7 131.73 L186.2 131.71 L186.7 131.68 L187.2 131.06 L187.7 131.63 L188.2 131.77 L188.7 131.4 L189.2 131.63 L189.7 131.71 L190.2 131.44 L190.7 131.69 L191.2 131.63 L191.7 131.65 L192.2 131.73 L192.7 131.67 L193.2 131.67 L193.7 131.52 L194.2 131.67 L194.7 131.63 L195.2 131.75 L195.7 131.32 L196.2 131.62 L196.7 131.7 L197.2 131.31 L197.7 131.32 L198.2 131.38 L198.7 131.62 L199.2 131.22 L199.7 131.27 L200.2 131.46 L200.7 131.15 L201.2 131.42 L201.7 131.16 L202.2 131.48 L202.7 131.08 L203.2 131.37 L203.7 131.06 L204.2 131.01 L204.7 131.39 L205.2 131.21 L205.7 131.45 L206.2 131.28 L206.7 131.03 L207.2 131.09 L207.7 131.26 L208.2 130.85 L208.7 131.05 L209.2 131.2 L209.7 131.31 L210.2 131.28 L210.7 131.06 L211.2 131.25 L211.7 131.18 L212.2 131.27 L212.7 131.08 L213.2 131.11 L213.7 131.08 L214.2 130.99 L214.7 131.12 L215.2 130.88 L215.7 131.1 L216.2 130.67 L216.7 130.95 L217.2 130.93 L217.7 131.11 L218.2 131.08 L218.7 130.81 L219.2 130.86 L219.7 130.94 L220.2 130.72 L220.7 130.81 L221.2 130.69 L221.7 130.76 L222.2 130.79 L222.7 130.62 L223.2 130.81 L223.7 130.61 L224.2 130.92 L224.7 130.71 L225.2 130.78 L225.7 130.61 L226.2 130.78 L226.7 130.86 L227.2 130.74 L227.7 130.38 L228.2 130.07 L228.7 130.6 L229.2 130.45 L229.7 130.55 L230.2 130.77 L230.7 130.52 L231.2 130.73 L231.7 130.6 L232.2 130.5 L232.7 130.51 L233.2 130.44 L233.7 130.61 L234.2 130.63 L234.7 130.54 L235.2 130.11 L235.7 130.38 L236.2 130.17 L236.7 130.4 L237.2 130.55 L237.7 130.13 L238.2 130.29 L238.7 130.22 L239.2 130.14 L239.7 130.37 L240.2 130.09 L240.7 130.35 L241.2 130.1 L241.7 130.35 L242.2 130.31 L242.7 130.4 L243.2 130.15 L243.7 130.15 L244.2 129.97 L244.7 130.08 L245.2 130.14 L245.7 130.35 L246.2 130.21 L246.7 130.16 L247.2 130.31 L247.7 129.78 L248.2 130.24 L248.7 129.8 L249.2 129.89 L249.7 130.21 L250.2 129.99 L250.7 129.75 L251.2 129.85 L251.7 129.97 L252.2 129.91 L252.7 130.2 L253.2 130.13 L253.7 130.2 L254.2 129.99 L254.7 129.89 L255.2 130.2 L255.7 129.91 L256.2 129.76 L256.7 130.03 L257.2 130.07 L257.7 129.91 L258.2 129.89 L258.7 129.91 L259.2 130.04 L259.7 129.98 L260.2 130.04 L260.7 130 L261.2 130.01 L261.7 129.9 L262.2 130.08 L262.7 129.4 L263.2 129.78 L263.7 129.89 L264.2 129.97 L264.7 129.45 L265.2 129.63 L265.7 129.6 L266.2 129.72 L266.7 129.71 L267.2 129.91 L267.7 129.69 L268.2 129.81 L268.7 129.66 L269.2 129.93 L269.7 129.83 L270.2 129.48 L270.7 129.57 L271.2 129.64 L271.7 129.87 L272.2 129.9 L272.7 129.87 L273.2 129.55 L273.7 129.72 L274.2 129.38 L274.7 129.3 L275.2 129.58 L275.7 129.44 L276.2 129.29 L276.7 129.77 L277.2 129.2 L277.7 129.77 L278.2 129.7 L278.7 129.77 L279.2 129.33 L279.7 129.47 L280.2 129.55 L280.7 129.47 L281.2 129.56 L281.7 129.51 L282.2 129.65 L282.7 129.44 L283.2 129.37 L283.7 129.46 L284.2 129.36 L284.7 129.27 L285.2 129.29 L285.7 129.12 L286.2 129.63 L286.7 129.55 L287.2 129.58 L287.7 129.58 L288.2 129.29 L288.7 129.52 L289.2 129.33 L289.7 129.24 L290.2 129.36 L290.7 129.39 L291.2 129.56 L291.7 129.24 L292.2 129.04 L292.7 129.45 L293.2 129.1 L293.7 129.42 L294.2 129.38 L294.7 129.45 L295.2 129.01 L295.7 129.09 L296.2 129.37 L296.7 128.82 L297.2 128.92 L297.7 129.33 L298.2 129.39 L298.7 129.4 L299.2 129.34 L299.7 129.11 L300.2 128.9 L300.7 129.29 L301.2 129.28 L301.7 129.19 L302.2 129.04 L302.7 128.82 L303.2 129.1 L303.7 129.07 L304.2 128.97 L304.7 129.09 L305.2 129.29 L305.7 129.07 L306.2 128.94 L306.7 128.98 L307.2 128.96 L307.7 129.22 L308.2 128.85 L308.7 128.76 L309.2 128.96 L309.7 128.86 L310.2 128.92 L310.7 129.1 L311.2 129.19 L311.7 128.94 L312.2 129.09 L312.7 128.97 L313.2 128.76 L313.7 128.95 L314.2 128.97 L314.7 129.05 L315.2 128.75 L315.7 128.9 L316.2 128.87 L316.7 128.7 L317.2 129.09 L317.7 128.27 L318.2 128.61 L318.7 129 L319.2 128.88 L319.7 128.86 L320.2 128.89 L320.7 129 L321.2 128.63 L321.7 128.8 L322.2 128.77 L322.7 128.72 L323.2 128.98 L323.7 128.64 L324.2 128.88 L324.7 128.82 L325.2 128.71 L325.7 128.64 L326.2 128.9 L326.7 128.67 L327.2 128.93 L327.7 128.86 L328.2 128.3 L328.2 141.39 L327.7 142.07 L327.2 141.18 L326.7 141.27 L326.2 141.75 L325.7 141.57 L325.2 141.73 L324.7 141.38 L324.2 141.43 L323.7 141.19 L323.2 141.33 L322.7 141.79 L322.2 141.29 L321.7 141.46 L321.2 141.46 L320.7 141.76 L320.2 141.8 L319.7 141.35 L319.2 141.69 L318.7 141.57 L318.2 141.33 L317.7 141.91 L317.2 141.31 L316.7 141.44 L316.2 142.17 L315.7 141.55 L315.2 141.49 L314.7 141.85 L314.2 141.78 L313.7 141.74 L313.2 141.73 L312.7 141.53 L312.2 141.55 L311.7 141.68 L311.2 141.43 L310.7 142.22 L310.2 141.46 L309.7 142.34 L309.2 141.58 L308.7 141.58 L308.2 141.71 L307.7 141.81 L307.2 141.46 L306.7 141.67 L306.2 141.75 L305.7 141.7 L305.2 142.5 L304.7 142.6 L304.2 141.84 L303.7 141.91 L303.2 142.3 L302.7 141.85 L302.2 142.1 L301.7 142.4 L301.2 142.41 L300.7 141.63 L300.2 141.71 L299.7 141.75 L299.2 141.83 L298.7 141.67 L298.2 141.63 L297.7 141.67 L297.2 141.76 L296.7 142.5 L296.2 141.92 L295.7 141.66 L295.2 141.83 L294.7 141.79 L294.2 142.26 L293.7 141.65 L293.2 142.13 L292.7 141.69 L292.2 141.7 L291.7 141.9 L291.2 141.69 L290.7 142.5 L290.2 142.17 L289.7 142.04 L289.2 141.95 L288.7 142.09 L288.2 142.26 L287.7 141.97 L287.2 141.83 L286.7 142.16 L286.2 142.17 L285.7 142.53 L285.2 142.68 L284.7 141.83 L284.2 141.89 L283.7 141.79 L283.2 142.37 L282.7 141.86 L282.2 141.82 L281.7 142.12 L281.2 141.83 L280.7 142.43 L280.2 142.21 L279.7 142.39 L279.2 141.86 L278.7 142.41 L278.2 142.13 L277.7 141.92 L277.2 142.05 L276.7 142.57 L276.2 142.31 L275.7 142.21 L275.2 142.13 L274.7 142.26 L274.2 142.36 L273.7 142.64 L273.2 142.36 L272.7 142.07 L272.2 142.07 L271.7 142.1 L271.2 142.46 L270.7 142.02 L270.2 142.15 L269.7 142.14 L269.2 142.95 L268.7 143.43 L268.2 142.27 L267.7 142.4 L267.2 142.4 L266.7 142.45 L266.2 142.09 L265.7 142.04 L265.2 142.78 L264.7 142.51 L264.2 142.34 L263.7 142.32 L263.2 142.19 L262.7 142.11 L262.2 142.18 L261.7 142.43 L261.2 142.3 L260.7 142.24 L260.2 143.31 L259.7 142.19 L259.2 142.8 L258.7 142.56 L258.2 143.1 L257.7 142.32 L257.2 142.37 L256.7 142.41 L256.2 142.49 L255.7 142.58 L255.2 142.19 L254.7 143.04 L254.2 142.43 L253.7 142.6 L253.2 142.59 L252.7 142.93 L252.2 142.88 L251.7 142.87 L251.2 142.5 L250.7 142.36 L250.2 142.77 L249.7 142.7 L249.2 143.04 L248.7 142.54 L248.2 142.49 L247.7 142.64 L247.2 142.38 L246.7 142.34 L246.2 142.46 L245.7 142.48 L245.2 143.05 L244.7 142.37 L244.2 142.61 L243.7 143.16 L243.2 142.89 L242.7 142.7 L242.2 142.92 L241.7 142.67 L241.2 142.73 L240.7 142.85 L240.2 142.54 L239.7 142.49 L239.2 142.54 L238.7 142.61 L238.2 142.87 L237.7 143.25 L237.2 142.66 L236.7 142.64 L236.2 142.98 L235.7 142.87 L235.2 142.61 L234.7 143.34 L234.2 142.81 L233.7 142.61 L233.2 142.91 L232.7 142.71 L232.2 142.8 L231.7 142.7 L231.2 143.08 L230.7 143.07 L230.2 142.66 L229.7 142.86 L229.2 142.74 L228.7 143.52 L228.2 143.2 L227.7 142.79 L227.2 143.4 L226.7 142.83 L226.2 142.92 L225.7 143.48 L225.2 143.42 L224.7 142.84 L224.2 143.2 L223.7 142.84 L223.2 143.33 L222.7 142.87 L222.2 143.53 L221.7 143.28 L221.2 143.17 L220.7 143.56 L220.2 143.16 L219.7 143.1 L219.2 143.18 L218.7 143.36 L218.2 143.23 L217.7 143.74 L217.2 144.07 L216.7 143.6 L216.2 143.19 L215.7 143.83 L215.2 143.16 L214.7 143.55 L214.2 143.06 L213.7 143.76 L213.2 143.88 L212.7 143.2 L212.2 143.16 L211.7 143.56 L211.2 143.38 L210.7 143.2 L210.2 143.62 L209.7 143.94 L209.2 143.68 L208.7 143.39 L208.2 144.32 L207.7 143.39 L207.2 144.51 L206.7 143.93 L206.2 143.35 L205.7 143.79 L205.2 143.32 L204.7 143.78 L204.2 143.55 L203.7 143.5 L203.2 144.27 L202.7 143.43 L202.2 143.45 L201.7 144.11 L201.2 143.38 L200.7 143.44 L200.2 143.95 L199.7 143.97 L199.2 144.32 L198.7 143.72 L198.2 144.41 L197.7 144.19 L197.2 143.77 L196.7 143.98 L196.2 143.55 L195.7 144 L195.2 143.55 L194.7 144.34 L194.2 143.78 L193.7 144.24 L193.2 144.07 L192.7 143.86 L192.2 143.78 L191.7 143.95 L191.2 143.65 L190.7 144.19 L190.2 144.02 L189.7 143.68 L189.2 144.05 L188.7 144.32 L188.2 143.96 L187.7 144.26 L187.2 143.87 L186.7 144.63 L186.2 144.27 L185.7 144.13 L185.2 143.8 L184.7 144.05 L184.2 143.85 L183.7 144.31 L183.2 143.92 L182.7 144.18 L182.2 144.06 L181.7 143.9 L181.2 144.37 L180.7 144.04 L180.2 144.09 L179.7 144.38 L179.2 144.31 L178.7 144.05 L178.2 144.1 L177.7 144.78 L177.2 144.63 L176.7 144.79 L176.2 144.47 L175.7 144.42 L175.2 144.24 L174.7 144.38 L174.2 144.18 L173.7 144.53 L173.2 144.55 L172.7 144.13 L172.2 144.18 L171.7 145.09 L171.2 144.58 L170.7 144.65 L170.2 144.22 L169.7 144.19 L169.2 144.32 L168.7 144.5 L168.2 144.24 L167.7 144.25 L167.2 144.29 L166.7 145.27 L166.2 144.92 L165.7 144.93 L165.2 144.43 L164.7 144.9 L164.2 145.06 L163.7 144.87 L163.2 144.7 L162.7 144.67 L162.2 144.75 L161.7 144.59 L161.2 144.71 L160.7 144.63 L160.2 144.45 L159.7 144.69 L159.2 144.45 L158.7 144.61 L158.2 144.76 L157.7 144.79 L157.2 144.44 L156.7 144.55 L156.2 144.95 L155.7 144.55 L155.2 144.49 L154.7 144.58 L154.2 144.83 L153.7 144.81 L153.2 144.96 L152.7 145.18 L152.2 144.82 L151.7 144.74 L151.2 144.97 L150.7 144.67 L150.2 144.8 L149.7 144.84 L149.2 145.17 L148.7 144.77 L148.2 145.11 L147.7 144.66 L147.2 145.54 L146.7 145.68 L146.2 145.49 L145.7 144.67 L145.2 144.75 L144.7 145.23 L144.2 145.21 L143.7 145.9 L143.2 144.75 L142.7 144.67 L142.2 144.98 L141.7 144.76 L141.2 144.98 L140.7 145.31 L140.2 145.05 L139.7 144.83 L139.2 145.48 L138.7 144.8 L138.2 144.92 L137.7 144.94 L137.2 145.18 L136.7 145.21 L136.2 145.06 L135.7 145.13 L135.2 145.11 L134.7 144.98 L134.2 145.12 L133.7 144.82 L133.2 145.24 L132.7 145.01 L132.2 144.87 L131.7 145.45 L131.2 144.92 L130.7 145.19 L130.2 144.93 L129.7 145.65 L129.2 145.28 L128.7 145.05 L128.2 145.23 L127.7 144.94 L127.2 145.71 L126.7 145.09 L126.2 145.25 L125.7 145.69 L125.2 145.55 L124.7 145.15 L124.2 145.17 L123.7 144.96 L123.2 145.1 L122.7 145.4 L122.2 145.13 L121.7 145.79 L121.2 145.04 L120.7 145.53 L120.2 145.42 L119.7 145.26 L119.2 145.22 L118.7 145.12 L118.2 145.17 L117.7 145.18 L117.2 145.09 L116.7 145.09 L116.2 145.11 L115.7 145.85 L115.2 145.09 L114.7 145.5 L114.2 145.22 L113.7 145.28 L113.2 145.26 L112.7 146.35 L112.2 145.41 L111.7 145.31 L111.2 145.6 L110.7 145.34 L110.2 145.76 L109.7 145.95 L109.2 145.46 L108.7 145.49 L108.2 145.55 L107.7 145.56 L107.2 145.51 L106.7 145.36 L106.2 145.67 L105.7 145.43 L105.2 145.46 L104.7 146.13 L104.2 145.3 L103.7 145.63 L103.2 145.82 L102.7 145.35 L102.2 145.76 L101.7 145.53 L101.2 145.43 L100.7 145.62 L100.2 145.59 L99.7 145.79 L99.2 146 L98.7 146 L98.2 146.16 L97.7 145.39 L97.2 145.45 L96.7 146.21 L96.2 145.61 L95.7 146.07 L95.2 145.68 L94.7 146.05 L94.2 145.79 L93.7 145.72 L93.2 145.57 L92.7 145.76 L92.2 145.52 L91.7 145.87 L91.2 145.72 L90.7 146.3 L90.2 145.99 L89.7 145.57 L89.2 146.36Z" fill="#10131b"/>
<path d="M232.61 141.59V144.95M207.55 142.22V143.98M156.05 143.44V145.2M273.87 140.92V141.94M250.19 141.26V142.27M243.79 141.35V144.4M308.19 140.44V143.21M245.63 141.32V144.22M250.83 141.25V144.2M252.6 141.22V144.91M176.19 143.02V146.71M137.41 143.74V144.36M104.14 144.26V145.16M293.99 140.64V141.76M300.74 140.54V142.7M248.51 141.28V142.48M326.11 140.15V142.17M148.58 143.56V145.37M102.73 144.28V145.31M289.82 140.7V141.82M151.64 143.51V144.53M138.01 143.73V145.34M284.1 140.78V142.78M255.93 141.18V145.17M284.93 140.77V142.51M302.93 140.51V141.75M286.1 140.75V141.82M167.37 143.24V144.13M224.95 141.78V142.89M235.27 141.52V142.72M250.56 141.25V143.39M165.54 143.29V144.21M270.6 140.97V142.22M170.32 143.17V146.54M299.62 140.56V143.64M242.3 141.37V145.03M289.14 140.71V144.31M269.44 140.99V142.84M270.61 140.97V142.76M224.81 141.78V142.79M128.94 143.87V145.45M112.1 144.14V144.61M298.18 140.58V144.52M321.46 140.23V143.62M162.85 143.33V145.34M213.79 142.06V143.13M129.51 143.86V145.3M191.94 142.62V145.01M309.51 140.42V141.47M129.25 143.86V146.28" stroke="#6b7080" stroke-width="0.4" fill="none" opacity="0.9"/>
<path d="M165.39 143.29V146.24M253.25 141.21V145.41M222.02 141.86V145.42M297 140.6V144.52M282.4 140.8V146.68M244.51 141.34V144.51M309.57 140.42V143.43M306.4 140.46V143.48M221.64 141.87V147.6M263.42 141.07V145.27M327.32 140.13V144.95M188.86 142.7V149.77M271.5 140.96V148.46M320.43 140.24V151.43M206.6 142.25V152.72M310.5 140.41V143.51M245.81 141.32V152.29M225.46 141.77V146.52M241.01 141.39V152.01M135.73 143.76V146.57M280.02 140.84V153.14M269.53 140.98V145.19M270.12 140.98V150.03M168.45 143.21V149.16M261.48 141.1V148.4M269.95 140.98V148.6M173.17 143.09V145.35M131.7 143.83V145.27M188.52 142.7V148.4M160.54 143.37V145.22M246.89 141.3V151.12M240.71 141.39V144.49M316.35 140.31V147.26M314.17 140.35V149.67M312.58 140.37V150.66M286.81 140.74V151.68M274.12 140.92V153.49M314.63 140.34V143.9M239.74 141.41V153.55M274.79 140.91V148.55M228.25 141.7V144.88M229.76 141.66V144.66M177.05 142.99V147M233.29 141.57V149.39M259.92 141.12V150.61M255.88 141.18V151.09M144.17 143.63V146.08M318.25 140.28V149.52M300.82 140.54V153.07M175.62 143.03V147.18M309.38 140.42V145.05M246.63 141.31V144.99M154.22 143.47V149.22M284.91 140.77V150.47M311 140.4V147.31M302.27 140.52V150.22M235.69 141.51V147.48M185.5 142.78V147.04M302.6 140.52V143.56M319.39 140.26V144.04M244.5 141.34V145.77M143.72 143.64V146.78M180.3 142.91V146.71M300.97 140.54V146.34M214.37 142.05V145.4M137.84 143.73V147.41M240.92 141.39V145.88M288.52 140.72V147.31M190.81 142.65V152.46M226.91 141.73V146.45M324.75 140.17V145.65M237.55 141.46V151.92M269.77 140.98V145.07M147.79 143.57V144.96M172.19 143.12V149.03M220.17 141.9V148.54M202.75 142.34V145.06M325.52 140.16V148.36M276.73 140.88V148.66M147.93 143.57V148.16M307.04 140.46V144.42M305.03 140.48V152.91M178.41 142.96V151M146.42 143.59V147.62M324.04 140.18V143.62M233.8 141.56V144.58M249.67 141.26V144.36M242.14 141.37V145.06M182.41 142.86V148.83M192.82 142.6V145.42M202.91 142.34V146.88M274.36 140.92V148.11M257.82 141.15V149.72M199.64 142.42V149.67M151.67 143.51V145.04M255.48 141.18V149.19M200.81 142.39V153.51M164.91 143.3V149.22M251.55 141.24V148.6M229.98 141.65V144.77M232.49 141.59V150M285.86 140.75V151.01M205.82 142.27V148.14M166.09 143.27V146.6M228.81 141.68V151.58M159.78 143.38V145.05M265.63 141.04V150.93M154.32 143.47V147.67M173.42 143.09V150.1M267.88 141.01V144.79M220.78 141.89V152.4M319.83 140.25V143.3M231.08 141.63V144.94M322.12 140.21V152.42M228.74 141.69V152.38M195.8 142.52V151.35M180.68 142.9V146.11M248.84 141.28V150.49M238.61 141.44V144.72M142.97 143.65V145.08M202.06 142.36V149.45M181.88 142.87V151.22M269.92 140.98V145.51M256.75 141.16V151.81M196.73 142.5V149.39M268.49 141V151.37M272.2 140.95V144.06M305.97 140.47V144.31M263.27 141.07V144.41M293.51 140.65V151.01M296.5 140.6V149.25M313.88 140.35V147M304.37 140.49V144.8M170.08 143.17V145.65M225.16 141.78V151.47M290.91 140.68V145.16M290.84 140.68V152.09M223.75 141.81V150.32M204 142.31V147.02M185.98 142.77V146.24M156.12 143.44V146.11M294.89 140.63V144.29M187.58 142.73V151.54M215.08 142.03V146.05M177.36 142.99V145.07M307.98 140.44V149.43M322.21 140.21V151.4M265.72 141.04V153.21M195.51 142.53V149.99M297.38 140.59V144.08M315.3 140.33V152.91M188.28 142.71V145.46M163.07 143.33V145.43M213.78 142.06V151.84M189.16 142.69V145.76M275.38 140.9V151.01M132.5 143.81V146.97M275.1 140.91V145.46M237.88 141.45V144.56M232.43 141.59V144.59M286.93 140.74V147.22M178.87 142.95V145.62M258.85 141.13V145.52M289.11 140.71V147.97M290.33 140.69V144.02M185.57 142.78V151.85M282.22 140.81V146.35M327.68 140.12V143.23M262.36 141.09V144.46M207.26 142.23V145.75M223.45 141.82V144.91M179.94 142.92V148.82M177.76 142.98V147.24M323.69 140.19V149.91M161.12 143.36V148.39M258.25 141.14V147.88M295.18 140.62V152.95M217.74 141.96V152.29M185.31 142.79V147.93M309.32 140.42V150.22M214.77 142.04V153.14M258.32 141.14V152.46M295.87 140.61V146.39M215.93 142.01V145.38M309.66 140.42V143.79M156.69 143.43V145.75M170.17 143.17V145.65M278.01 140.86V145.51M304.58 140.49V145.67M306.54 140.46V150.83M197.86 142.47V148.43M274.81 140.91V144.51M143.98 143.63V148.18M136.56 143.75V145.06M169.03 143.2V149.7M270.29 140.97V147.37M243.6 141.35V153.76M186.58 142.75V150.63M203.97 142.31V146.07M277.01 140.88V146.32M257.82 141.15V149.71M149.19 143.55V145.92M225.72 141.76V152.08M292.28 140.66V146.33M224.21 141.8V151.5M284.82 140.77V143.84M297.17 140.59V151.48M202.33 142.35V149.68M239.78 141.41V145.57M151.89 143.51V146.73M283.9 140.78V146.2M268.71 141V144.65M300.47 140.55V149.7M242.77 141.36V144.64M131.17 143.83V145.49M194.79 142.55V145.06M208.67 142.19V153.35M246.88 141.3V149.74M230.71 141.64V146.12M176.68 143V147.75M277.23 140.88V147.4M236.97 141.48V148.78M185.17 142.79V151.73M305.89 140.47V144.01M305.23 140.48V149.22M143.28 143.64V147.56M297.8 140.59V145.03M184.12 142.82V147.34M144.56 143.62V145.07M279.2 140.85V145.96M224.81 141.78V153.39M295.11 140.62V145.04M148.23 143.56V144.93M272.57 140.94V147.82M325.95 140.15V146.86M263.61 141.07V151.02M245.63 141.32V147.59M217.22 141.98V148.22M279.39 140.85V147.01M286.75 140.74V145.84M265.23 141.04V146.51M254.79 141.19V150.78M164 143.32V145.06M188.49 142.7V145.77M172.29 143.12V147.62M235.17 141.52V147.33M290.38 140.69V144.02M315.51 140.32V150.09M196.34 142.51V150.33M304.72 140.49V143.49M214.72 142.04V150.71M212.29 142.1V145.57M202.61 142.35V146.23M282.23 140.81V147.15M215.02 142.03V154.58M213.92 142.06V148.74M312.29 140.38V153.12M229.27 141.67V146.84M264.03 141.06V147.67M251.53 141.24V148.08M183.03 142.84V145.45M254.18 141.2V145.16M236.79 141.48V144.53M216.97 141.98V145.53M241.54 141.38V152.88M178.03 142.97V145.6M212.43 142.1V146.32M159.2 143.39V145.1M274.92 140.91V151.67M134.79 143.78V146.99M294.94 140.63V149.84M287.82 140.73V143.96M204.61 142.3V151.99M246.81 141.3V151M196.32 142.51V151.45M310.92 140.4V143.98M284.33 140.78V153.76M147.88 143.57V145.35M312.82 140.37V149.01M216.95 141.98V145.57M311.97 140.38V143.45M327.2 140.13V143.18M211.86 142.11V148.15M259.17 141.13V151.4M227.72 141.71V153.7M210.29 142.15V146.82M326.41 140.14V144.79M242.67 141.36V144.5M295.44 140.62V147.14M305.4 140.48V148.8M227.88 141.71V144.79M215.27 142.03V148.12M221.48 141.87V147.66M192.78 142.6V145.75M315.08 140.33V150.25M219.27 141.93V152.27M156.55 143.43V147.51M201.03 142.39V146.21M243.77 141.35V148.47M204.61 142.3V145.99M223.31 141.82V152.16M315.09 140.33V151.61M283.86 140.78V153.24M145.54 143.61V148.35M218.45 141.95V144.99M186.39 142.76V150.98M272.51 140.94V144.14M208.84 142.19V153.27M327.04 140.13V152.53M310.61 140.41V152.29M308.86 140.43V146.38M196.32 142.51V148.2M145.08 143.61V146.5M201.16 142.38V145.73M230.65 141.64V149.88M240.62 141.39V144.7M324.41 140.18V144.06M257.91 141.15V151.66M275.37 140.9V146.6M309.64 140.42V143.65M249.98 141.26V144.62M244.24 141.34V145.78M300.76 140.54V146.36M181.11 142.89V145.47M168.03 143.22V147.03M305.63 140.48V152.15M287.61 140.73V143.91M267.57 141.01V145.11M167.85 143.23V145.22M291.02 140.68V143.81" stroke="#5a5e6c" stroke-width="0.45" fill="none" opacity="0.95"/>
<path d="M307.48 140.45V153.01M225.33 141.77V159.09M187.29 142.74V152.22M305.48 140.48V155.75M199.69 142.42V150.5M299.92 140.56V155.72M319.87 140.25V151.27M208.51 142.2V156.15M214.78 142.04V158.77M212.36 142.1V151.5M246.59 141.31V151.13M227.25 141.72V159.27M273.99 140.92V154.46M275.46 140.9V157.65M158.74 143.4V151.54M312.91 140.37V153.75M192.65 142.6V154.49M256.37 141.17V151.36M265.3 141.04V155.27M264.23 141.06V149.81M255.52 141.18V154.88M306.89 140.46V156.38M283.93 140.78V155.53M198.28 142.46V155.83M203.91 142.31V157.26M252.95 141.22V154.58M229.45 141.67V155.57M248.65 141.28V152.01M232.54 141.59V150.67M258.34 141.14V151.35M196.91 142.49V149.35M249.34 141.27V150.18M244.4 141.34V156.82M175.4 143.04V150.67M211.62 142.12V154.57M214.07 142.06V154.15M306.78 140.46V149.1M315.96 140.32V157.65M271.02 140.96V157.22M286.24 140.75V154.22M184.61 142.8V149.72M265.41 141.04V156.67M283.19 140.79V158.68M210.45 142.15V155.65M206.9 142.24V157.09M160.97 143.36V150.56M308.03 140.44V152.08M323.98 140.18V153.6M327.16 140.13V152.48M313.48 140.36V153.24M300.7 140.55V157.93M260.63 141.11V157.25M289.61 140.7V158.04M299.23 140.57V155.81M284.41 140.77V155.65M203.01 142.34V149.57M316.5 140.31V150.55M234.25 141.55V152.63M197.95 142.47V151.15M255.23 141.19V151.51M306.72 140.46V155.51M176.55 143.01V149.89M287.8 140.73V158.47M231.69 141.61V150.28M202.46 142.35V154.61M224.43 141.79V157.81M158.51 143.4V151.59M165.93 143.28V151.28M248.7 141.28V158.36M235.38 141.52V154.42M221.47 141.87V159.19M278.72 140.85V153.66M233.54 141.56V154.58M170.01 143.17V153.01M306.1 140.47V158.15M250.66 141.25V150.55M167.99 143.22V149.39M243.86 141.35V153.74M322.32 140.21V157.45M238.01 141.45V153.93M223.72 141.81V155.4M235.73 141.51V151.48M302.86 140.51V156.41M327.65 140.12V152.38M236.58 141.49V157.92M233.55 141.56V158.78M288.02 140.72V152.92M284.23 140.78V154.43M317.93 140.28V151.76M200.44 142.4V152.56M164.51 143.31V148.55M305.14 140.48V155.01M296.22 140.61V156.88M271 140.96V154.18M308.57 140.43V152.89M311.61 140.39V149.93M266.76 141.02V158.79M253.01 141.22V154.12M243.94 141.34V154.91M184.14 142.82V151.94M192.29 142.61V153.08M254.95 141.19V155.91M281.49 140.82V149.36M164.35 143.31V149.9M164.02 143.32V151.52M283.66 140.79V152.12M255.4 141.18V153.29M220.2 141.9V157.02M245.84 141.32V151.14M158.88 143.4V150.24M304.5 140.49V155.65M253.46 141.21V155.62M248.51 141.28V157.49M255.79 141.18V154.6M204.18 142.31V153.41M243.78 141.35V155.78M158.27 143.41V149.44M317.35 140.29V153.77M291.26 140.68V155.98M323 140.2V154.85M169.74 143.18V151.32M321.05 140.23V158.02M273.57 140.93V153.9M272.57 140.94V150.79M295.92 140.61V157.08M214.89 142.04V157.41M313.7 140.35V157.52M303.96 140.5V156.25M247.62 141.29V155.77M240.15 141.4V153.73M242.79 141.36V151.16M240.55 141.39V157.11M209.43 142.17V157.44M311.54 140.39V157.94M260.84 141.11V158.15M171.51 143.14V149.28M172.48 143.11V150.58M146.6 143.59V148.16M310.56 140.41V154.69M169.04 143.2V151.14M266.77 141.02V156.7M182.06 142.87V150.72M228.12 141.7V156.07M301.13 140.54V154.56M278.2 140.86V155.36M227.66 141.71V151.7M318.33 140.28V157.45M284.54 140.77V155.66M298.87 140.57V151.98M158.71 143.4V149.94M220.19 141.9V152.41M209.55 142.17V158.06M290.58 140.69V149.97M205.01 142.29V156.29M276 140.89V152.7M259.08 141.13V158.38M145.05 143.62V149.64M211.1 142.13V152.42M243.61 141.35V155.29M177.68 142.98V150.28M282.04 140.81V152.9M163.29 143.33V150.16M251.34 141.24V158.19M273.97 140.92V156.34M310.16 140.41V155.51M260.71 141.11V156.2M234.28 141.54V157.82M239.61 141.41V159.05M264.02 141.06V158.48M179.34 142.94V153.1M194.44 142.55V153.48M225.57 141.77V150.62M297.9 140.58V155.47M213.75 142.07V155.93M308.35 140.44V150.58M209.66 142.17V157.19M327.07 140.13V157.17M215.05 142.03V153.32M184.5 142.81V149.64M187.12 142.74V152.58M278.14 140.86V149.05M195.39 142.53V155.3M293.34 140.65V152.71M323.24 140.2V151.51M191.06 142.64V152.31M245.3 141.33V159.08M197.91 142.47V155.98M265.42 141.04V158.38M305.33 140.48V157.98M269.89 140.98V156.32M244.61 141.34V154.24M275.8 140.9V151.39M193.87 142.57V156.07M234.6 141.54V155.27M267.61 141.01V153.63M199.31 142.43V155.29M227.07 141.73V158.93M252.63 141.22V154.01M225.61 141.76V157.13M167.99 143.22V152.57M184.69 142.8V153.47M147.27 143.58V148.96M189.06 142.69V154.11M237.23 141.47V159.2M197.66 142.47V156.41M291.34 140.68V154.19M296.03 140.61V154.2M224.58 141.79V157.9M299.18 140.57V153.95M282.44 140.8V151.37M306.03 140.47V158.08M323.12 140.2V153.47M284.98 140.77V156.49M184.81 142.8V149.56M274.09 140.92V158.77M280.62 140.83V155.7M320.17 140.25V151.44M322.14 140.21V150.29M299.87 140.56V152.3M289.85 140.7V153.97M318.91 140.27V154.72M291.81 140.67V151.26M308.45 140.44V152.57M291.67 140.67V152.39M163.79 143.32V148.62M243.57 141.35V149.64M200.39 142.4V149.9M195.36 142.53V153.39M185.17 142.79V153.44M206.11 142.26V153.6M244.93 141.33V156.34M240.73 141.39V150.85M275.8 140.9V155.12M185.3 142.79V152.99M142.57 143.65V148.51M211.4 142.12V156.18M167.62 143.23V151.34M234.16 141.55V149.63M251.51 141.24V151.35M306 140.47V152.8M189.44 142.68V152.3M271.49 140.96V155.37M282.7 140.8V156.16M326.62 140.14V155.32M218.97 141.93V159.01M241.09 141.38V153.54M143.16 143.64V148.84M264.9 141.05V151.49M319.93 140.25V150.91M263.37 141.07V155.95" stroke="#3a3d49" stroke-width="0.5" fill="none" opacity="0.95"/>
<path d="M109.3 144.18V162M118.5 144.03V155M127 143.9V151.5M150 143.54V152.5M159.5 143.39V158M165 143.3V159.5M180.5 142.91V169.5M287.5 140.73V170.5M313.5 140.36V171M318 140.28V171M327.5 140.12V172.5M249 141.27V163M303 140.51V161" stroke="#5a5f6e" stroke-width="0.5" fill="none" opacity="1.0"/>
<rect x="81" y="112.5" width="5.2" height="66" fill="#000"/>
<rect x="80" y="166.6" width="9" height="11.9" fill="#000"/>
<rect x="19.8" y="112.5" width="309" height="66" fill="none" stroke="#444" stroke-width="0.7"/>
<line x1="18.4" y1="112.6" x2="19.8" y2="112.6" stroke="#333" stroke-width="0.6"/>
<text x="16.8" y="114.87" font-size="6.3" font-weight="bold" text-anchor="end" fill="#000" >30</text>
<line x1="18.4" y1="131.4" x2="19.8" y2="131.4" stroke="#333" stroke-width="0.6"/>
<text x="16.8" y="133.67" font-size="6.3" font-weight="bold" text-anchor="end" fill="#000" >20</text>
<line x1="18.4" y1="150.2" x2="19.8" y2="150.2" stroke="#333" stroke-width="0.6"/>
<text x="16.8" y="152.47" font-size="6.3" font-weight="bold" text-anchor="end" fill="#000" >10</text>
<line x1="18.4" y1="169" x2="19.8" y2="169" stroke="#333" stroke-width="0.6"/>
<text x="16.8" y="171.27" font-size="6.3" font-weight="bold" text-anchor="end" fill="#000" >0</text>
<text transform="translate(6.2,145.5) rotate(-90)" font-size="6.5" font-weight="bold" text-anchor="middle" fill="#000">Amplitude (pA)</text>
<text x="0.9" y="112" font-size="13.4" font-weight="bold" text-anchor="start" fill="#000" >b</text>
<text x="22" y="121.1" font-size="9" font-weight="bold" text-anchor="start" fill="#000" >Only Cys</text>
<text x="100" y="122.3" font-size="9" font-weight="bold" text-anchor="start" fill="#000" >Adding Cu<tspan dy="-2.97" font-size="5.85">2+</tspan></text>
<line x1="25.7" y1="175.9" x2="35" y2="175.9" stroke="#000" stroke-width="1.6"/>
<text x="30.35" y="173.7" font-size="7.7" font-weight="bold" text-anchor="middle" fill="#000" >20 s</text>
<path d="M97.5 125.3L90 130.3" stroke="#e8211d" stroke-width="1.7" fill="none" stroke-linecap="round"/><path d="M87.2 132.6L92.6 131.6L89.9 127.7z" fill="#e8211d" stroke="#e8211d" stroke-width="0.6" stroke-linejoin="round"/>
<rect x="107.5" y="214.2" width="221.3" height="66.2" fill="#eef1fa"/>
<path d="M20.2 229.24 L20.7 229.58 L21.2 229.26 L21.7 229.51 L22.2 229.41 L22.7 228.76 L23.2 229.32 L23.7 229.22 L24.2 229.6 L24.7 229.58 L25.2 229.24 L25.7 229.08 L26.2 229.29 L26.7 229.62 L27.2 228.75 L27.7 229.65 L28.2 229.22 L28.7 229.47 L29.2 229.69 L29.7 229.26 L30.2 229.58 L30.7 229.63 L31.2 228.98 L31.7 229.69 L32.2 229.55 L32.7 229.47 L33.2 229.43 L33.7 229.63 L34.2 229.47 L34.7 229.37 L35.2 229.09 L35.7 229.65 L36.2 229.35 L36.7 229.67 L37.2 229.66 L37.7 229.32 L38.2 229.4 L38.7 229.64 L39.2 229.2 L39.7 229.55 L40.2 229.23 L40.7 229.33 L41.2 229.42 L41.7 229.04 L42.2 229.63 L42.7 229.18 L43.2 229.62 L43.7 229.48 L44.2 229.49 L44.7 229.27 L45.2 229.04 L45.7 229.1 L46.2 229.05 L46.7 229.7 L47.2 229 L47.7 229.29 L48.2 229.68 L48.7 229.64 L49.2 229.49 L49.7 229.37 L50.2 228.96 L50.7 229.64 L51.2 229.16 L51.7 228.85 L52.2 229.01 L52.7 229.62 L53.2 229.63 L53.7 229.58 L54.2 229.68 L54.7 229.27 L55.2 229.66 L55.7 229.11 L56.2 229.67 L56.7 228.98 L57.2 229.46 L57.7 229.48 L58.2 229.48 L58.7 229.47 L59.2 229.49 L59.7 229.59 L60.2 229.54 L60.7 229.56 L61.2 229.2 L61.7 229.69 L62.2 229.41 L62.7 229.52 L63.2 229.46 L63.7 229.31 L64.2 229.48 L64.7 229.66 L65.2 229.5 L65.7 229.37 L66.2 228.99 L66.7 229.15 L67.2 229.38 L67.7 229.44 L68.2 229.58 L68.7 229.61 L69.2 229.6 L69.7 229.53 L70.2 229.47 L70.7 229.1 L71.2 229.58 L71.7 229.28 L72.2 229.65 L72.7 229.08 L73.2 229.36 L73.7 229.2 L74.2 229.56 L74.7 229.49 L75.2 229.39 L75.7 229.53 L76.2 229.69 L76.7 229.41 L77.2 229.04 L77.7 229.56 L78.2 228.91 L78.7 229.34 L79.2 229.35 L79.7 229.41 L80.2 229.27 L80.7 229.53 L81.2 229.42 L81.7 228.93 L82.2 229.68 L82.7 229.46 L83.2 229.48 L83.7 229.04 L84.2 229.62 L84.7 229.06 L85.2 229.69 L85.7 229.12 L86.2 229.59 L86.7 229.39 L87.2 229.42 L87.7 229.47 L88.2 229.21 L88.7 229.45 L89.2 229.52 L89.7 229.22 L90.2 229.63 L90.2 241.69 L89.7 242.3 L89.2 242 L88.7 242.37 L88.2 242.38 L87.7 242.38 L87.2 241.74 L86.7 241.7 L86.2 241.84 L85.7 242.61 L85.2 242.41 L84.7 241.94 L84.2 241.97 L83.7 242.13 L83.2 242.66 L82.7 242.72 L82.2 242.06 L81.7 241.95 L81.2 241.73 L80.7 242.29 L80.2 241.63 L79.7 243.47 L79.2 242.14 L78.7 242.04 L78.2 242.94 L77.7 241.71 L77.2 242.36 L76.7 242.15 L76.2 241.87 L75.7 242.16 L75.2 242.06 L74.7 241.67 L74.2 241.95 L73.7 242.2 L73.2 241.81 L72.7 241.93 L72.2 242.49 L71.7 242.06 L71.2 242.55 L70.7 242.07 L70.2 242.78 L69.7 241.87 L69.2 241.77 L68.7 242.17 L68.2 242.29 L67.7 241.71 L67.2 242.55 L66.7 242.79 L66.2 242.67 L65.7 241.67 L65.2 241.69 L64.7 242.02 L64.2 241.93 L63.7 241.64 L63.2 242.67 L62.7 241.95 L62.2 241.86 L61.7 241.73 L61.2 241.81 L60.7 242.32 L60.2 241.76 L59.7 241.8 L59.2 241.8 L58.7 241.72 L58.2 242.19 L57.7 241.99 L57.2 241.96 L56.7 241.65 L56.2 241.69 L55.7 241.8 L55.2 242.8 L54.7 242.4 L54.2 241.89 L53.7 242.64 L53.2 241.63 L52.7 241.9 L52.2 242.29 L51.7 241.66 L51.2 241.63 L50.7 242.38 L50.2 242.2 L49.7 242.96 L49.2 241.78 L48.7 242.39 L48.2 241.86 L47.7 242.28 L47.2 241.68 L46.7 242.4 L46.2 242.15 L45.7 242.04 L45.2 241.84 L44.7 242.31 L44.2 241.94 L43.7 242.47 L43.2 241.85 L42.7 242.25 L42.2 241.61 L41.7 242.67 L41.2 241.62 L40.7 241.75 L40.2 242.18 L39.7 241.65 L39.2 241.63 L38.7 241.94 L38.2 242.75 L37.7 241.77 L37.2 241.67 L36.7 241.89 L36.2 241.67 L35.7 241.81 L35.2 241.86 L34.7 241.69 L34.2 242.15 L33.7 241.98 L33.2 241.77 L32.7 241.96 L32.2 241.84 L31.7 242.37 L31.2 241.85 L30.7 241.87 L30.2 242.17 L29.7 241.63 L29.2 242.08 L28.7 241.97 L28.2 242.2 L27.7 242.01 L27.2 242.18 L26.7 241.87 L26.2 241.93 L25.7 242.12 L25.2 242.21 L24.7 241.6 L24.2 242.09 L23.7 241.9 L23.2 241.72 L22.7 241.63 L22.2 242.28 L21.7 241.81 L21.2 242.63 L20.7 242.04 L20.2 241.96Z" fill="#000"/>
<path d="M70.33 241V243.97M49.58 241V245.5M83.25 241V246.2M56.05 241V245.74M38.27 241V245.06M24.92 241V243.69M58.78 241V248.03M67.13 241V245.16M89.19 241V244.07M50.56 241V245.6M33.05 241V249.37M70.23 241V244.39M32.88 241V248.46M46.45 241V245.41M41.19 241V245.55M61.47 241V245.47M61.68 241V243.98M57.75 241V247.1M42.79 241V248.81M85.02 241V247.54M49.17 241V244.6M64.02 241V245.33M32.05 241V246.79M34.49 241V247.44M73.32 241V243.67M64.5 241V244.75M43.99 241V247.94M87.59 241V245.48M72.96 241V245.68M85.88 241V244.64M66.75 241V244.1M59.46 241V248.06M83.98 241V248.19M58.74 241V246M64.32 241V247.49" stroke="#333" stroke-width="0.45" fill="none"/>
<path d="M63.02 241V258.17M72.32 241V260.84M63.67 241V260.11M71.98 241V254.16M76.29 241V253.98M78.11 241V260.15M82.84 241V260.52M68.65 241V255.58M40.63 241V257.27M82.55 241V253.9M35.21 241V258.69M83.72 241V252.07M30.25 241V250.95M58.9 241V259.58M37.79 241V259.09M23.82 241V252.11M58.55 241V258.7M54.87 241V257.85M45.55 241V254.13M56.75 241V249.62M34.51 241V253.81M66.15 241V251.96M37.5 241V261.49M65.77 241V254.53M74.94 241V258.18M77.29 241V256.3M63.25 241V250.76M50.35 241V254.31M38.37 241V253.98M82.09 241V252.27M28.49 241V253.62M32.35 241V249.88M83.95 241V256.17M22.44 241V255.97M32.69 241V255.4M86.18 241V261.34M48.19 241V258.99M54.8 241V250.56M48.39 241V259.32M74.58 241V258.28" stroke="#888" stroke-width="0.45" fill="none"/>
<path d="M89.16 241V254.55M69.35 241V260.24M84.75 241V260.92M81.18 241V254.02M46.83 241V257.64M28.92 241V253.6M46.34 241V252.27M33.46 241V258.08M42.09 241V250.34M75.98 241V261.9M36.13 241V258.5M26.38 241V252.47M32.01 241V257.94M59.38 241V260.28M66.38 241V259.42M81.3 241V257.18M36.24 241V251.71M80.05 241V260.27M65.41 241V261.98M76.75 241V254.84M33.5 241V255.15M84.26 241V261.16M21.03 241V249.69M51.6 241V261.43M81.58 241V260.47M25.39 241V252.28M74.31 241V255.33M42.75 241V262.09M21.84 241V255.92M81.83 241V258.71M82.25 241V253.14M59.51 241V262.32M29.79 241V255.19M89.4 241V251.69M74.29 241V259.34M38.49 241V262.47M74.78 241V251.32M89.3 241V261.08M53.87 241V249.98M75.03 241V257.2M72.25 241V250.63M53.89 241V260.1M71.15 241V251.85M43.48 241V255.51M52.47 241V262.46M85.38 241V249.62M63.5 241V251.39M80.6 241V256.46" stroke="#111" stroke-width="0.45" fill="none"/>
<path d="M82.9 241V270.78M85.45 241V264.12M25.05 241V269.56M52.89 241V269.6M51.3 241V266.33M71.55 241V265.92M55.05 241V266.18M67.44 241V263.24M52.69 241V267.82M68.14 241V270.72M46.37 241V271.25M69.38 241V266.05" stroke="#777" stroke-width="0.45" fill="none"/>
<path d="M59.59 241V264.14M65.9 241V261.77M82.88 241V264.12M21.41 241V262.2M44.14 241V263.44M78.73 241V264.23" stroke="#222" stroke-width="0.45" fill="none"/>
<path d="M27 241V277M31.8 241V268M56 241V266M66.3 241V268M80 241V266" stroke="#333" stroke-width="0.5" fill="none" opacity="1.0"/>
<path d="M107.8 230.35 L108.3 230.1 L108.8 230.07 L109.3 230.5 L109.8 230.49 L110.3 230.47 L110.8 230.46 L111.3 230.04 L111.8 230.29 L112.3 230 L112.8 229.8 L113.3 230.2 L113.8 230.55 L114.3 230 L114.8 230.18 L115.3 230.58 L115.8 229.77 L116.3 230.28 L116.8 230.41 L117.3 230.3 L117.8 230.1 L118.3 230.12 L118.8 230.27 L119.3 230.43 L119.8 230.03 L120.3 230.36 L120.8 230.54 L121.3 230.31 L121.8 230.58 L122.3 230.55 L122.8 229.83 L123.3 230.56 L123.8 230.53 L124.3 229.9 L124.8 230.44 L125.3 230.55 L125.8 230.25 L126.3 230.44 L126.8 230.49 L127.3 230.22 L127.8 230.57 L128.3 230.57 L128.8 230.52 L129.3 230.59 L129.8 230.11 L130.3 230.51 L130.8 230.32 L131.3 229.91 L131.8 230.55 L132.3 230.21 L132.8 230.22 L133.3 230.46 L133.8 230.42 L134.3 230.31 L134.8 230.24 L135.3 230.3 L135.8 229.8 L136.3 230.08 L136.8 230.32 L137.3 230.53 L137.8 230.34 L138.3 230.05 L138.8 230.46 L139.3 230.41 L139.8 230.17 L140.3 230.6 L140.8 230.5 L141.3 230.43 L141.8 230.06 L142.3 230.59 L142.8 230.56 L143.3 230.57 L143.8 230.56 L144.3 230.43 L144.8 230.58 L145.3 230.54 L145.8 230.32 L146.3 230.54 L146.8 230.17 L147.3 230.24 L147.8 230.45 L148.3 229.94 L148.8 229.91 L149.3 230.3 L149.8 230.57 L150.3 230.06 L150.8 229.96 L151.3 229.99 L151.8 230.39 L152.3 230.01 L152.8 230.36 L153.3 230.46 L153.8 230.26 L154.3 230.13 L154.8 230.2 L155.3 230.42 L155.8 230.32 L156.3 230.36 L156.8 230.56 L157.3 230.43 L157.8 230.07 L158.3 230.16 L158.8 230.57 L159.3 230.55 L159.8 230.49 L160.3 230.15 L160.8 230.42 L161.3 230.48 L161.8 230.43 L162.3 230.31 L162.8 230.26 L163.3 230.43 L163.8 230.29 L164.3 230.6 L164.8 230.3 L165.3 230.42 L165.8 230.51 L166.3 230.58 L166.8 230.41 L167.3 230.22 L167.8 230.09 L168.3 230.34 L168.8 230.28 L169.3 230.19 L169.8 230.33 L170.3 230.53 L170.8 230.5 L171.3 230.42 L171.8 230.16 L172.3 230.54 L172.8 230.41 L173.3 230.49 L173.8 230.58 L174.3 230.3 L174.8 229.86 L175.3 230.31 L175.8 230.44 L176.3 230.4 L176.8 230.39 L177.3 229.82 L177.8 230.6 L178.3 230.1 L178.8 229.55 L179.3 230.49 L179.8 230.09 L180.3 230.23 L180.8 230.27 L181.3 230.48 L181.8 230.4 L182.3 230.58 L182.8 230.6 L183.3 230.22 L183.8 230.31 L184.3 230.56 L184.8 230.57 L185.3 230.39 L185.8 230.51 L186.3 230.54 L186.8 230.09 L187.3 230.45 L187.8 230 L188.3 230.52 L188.8 230.02 L189.3 230.55 L189.8 230.55 L190.3 230.42 L190.8 230.4 L191.3 230.45 L191.8 230.22 L192.3 230.57 L192.8 230.38 L193.3 230.1 L193.8 229.98 L194.3 230.45 L194.8 230.55 L195.3 230.16 L195.8 229.65 L196.3 230.33 L196.8 230.17 L197.3 230.29 L197.8 230.16 L198.3 230.42 L198.8 230.52 L199.3 230.25 L199.8 230.38 L200.3 229.94 L200.8 230.43 L201.3 230.44 L201.8 230.52 L202.3 230.48 L202.8 230.45 L203.3 230.03 L203.8 230.57 L204.3 230.54 L204.8 230.36 L205.3 230.5 L205.8 230.47 L206.3 230.43 L206.8 230.53 L207.3 230.42 L207.8 230.5 L208.3 230.16 L208.8 229.78 L209.3 229.78 L209.8 230.42 L210.3 230.41 L210.8 229.71 L211.3 230.26 L211.8 229.84 L212.3 230.35 L212.8 230.48 L213.3 230.51 L213.8 230.6 L214.3 230.5 L214.8 229.99 L215.3 230.46 L215.8 230.4 L216.3 230.29 L216.8 230.08 L217.3 229.91 L217.8 230.1 L218.3 230.57 L218.8 230.29 L219.3 230.12 L219.8 230.17 L220.3 230.32 L220.8 230.4 L221.3 230.43 L221.8 230.46 L222.3 230.52 L222.8 229.97 L223.3 230.55 L223.8 230.17 L224.3 230.12 L224.8 230.33 L225.3 230.29 L225.8 230.49 L226.3 230.52 L226.8 230.04 L227.3 230.31 L227.8 230.07 L228.3 230.52 L228.8 230.26 L229.3 229.82 L229.8 230.14 L230.3 230.57 L230.8 230.25 L231.3 229.76 L231.8 230.32 L232.3 230.31 L232.8 230.36 L233.3 230.37 L233.8 230.1 L234.3 230.55 L234.8 230.3 L235.3 230.42 L235.8 229.9 L236.3 230.1 L236.8 230.16 L237.3 230.15 L237.8 229.83 L238.3 230.23 L238.8 229.77 L239.3 230.57 L239.8 229.89 L240.3 230.4 L240.8 230.25 L241.3 230.3 L241.8 230.34 L242.3 230.47 L242.8 230.28 L243.3 230.51 L243.8 230.06 L244.3 230.39 L244.8 230.44 L245.3 230.49 L245.8 230.04 L246.3 230.42 L246.8 230.57 L247.3 230.6 L247.8 230.55 L248.3 230.46 L248.8 229.87 L249.3 230.47 L249.8 230.41 L250.3 230.41 L250.8 230.45 L251.3 230.45 L251.8 230.25 L252.3 230.3 L252.8 230.55 L253.3 230.6 L253.8 230 L254.3 230.38 L254.8 230.38 L255.3 230.55 L255.8 230.21 L256.3 230.34 L256.8 230.35 L257.3 230.46 L257.8 230.23 L258.3 230.45 L258.8 230.37 L259.3 229.84 L259.8 230.25 L260.3 230.3 L260.8 230.24 L261.3 230.5 L261.8 230.58 L262.3 229.95 L262.8 230.26 L263.3 230.21 L263.8 230.59 L264.3 230.26 L264.8 230.58 L265.3 230.49 L265.8 230.43 L266.3 230.57 L266.8 230.18 L267.3 230.42 L267.8 230.49 L268.3 229.83 L268.8 229.96 L269.3 230.24 L269.8 230.44 L270.3 229.79 L270.8 230.48 L271.3 230.5 L271.8 230.39 L272.3 230.56 L272.8 230.1 L273.3 230.1 L273.8 230.42 L274.3 230.57 L274.8 229.93 L275.3 230.49 L275.8 230.05 L276.3 230.53 L276.8 230.3 L277.3 230.55 L277.8 229.99 L278.3 229.76 L278.8 230.32 L279.3 229.89 L279.8 230.27 L280.3 230.23 L280.8 230.11 L281.3 230.4 L281.8 230.29 L282.3 230.33 L282.8 230.56 L283.3 230.42 L283.8 230.53 L284.3 230.42 L284.8 230.5 L285.3 230.31 L285.8 230.58 L286.3 230.58 L286.8 230.55 L287.3 230.49 L287.8 230.44 L288.3 229.96 L288.8 230.56 L289.3 230.53 L289.8 230.55 L290.3 230.28 L290.8 230.4 L291.3 230.54 L291.8 230.11 L292.3 230.58 L292.8 230.24 L293.3 229.74 L293.8 230.27 L294.3 230.58 L294.8 230.35 L295.3 230.12 L295.8 229.79 L296.3 230.15 L296.8 230.45 L297.3 230.6 L297.8 230.37 L298.3 230.21 L298.8 230.49 L299.3 230.2 L299.8 229.77 L300.3 230.44 L300.8 230.58 L301.3 230.47 L301.8 230.07 L302.3 230.36 L302.8 230.57 L303.3 230.36 L303.8 229.67 L304.3 230.42 L304.8 230 L305.3 230.2 L305.8 230.31 L306.3 230.51 L306.8 230.2 L307.3 230.36 L307.8 230.15 L308.3 229.75 L308.8 229.83 L309.3 230.36 L309.8 230.59 L310.3 230.14 L310.8 230.5 L311.3 230.39 L311.8 230.49 L312.3 230.37 L312.8 230.31 L313.3 230.44 L313.8 230.45 L314.3 230.29 L314.8 230.54 L315.3 230.31 L315.8 229.97 L316.3 230.49 L316.8 230.48 L317.3 230.32 L317.8 230.14 L318.3 230.44 L318.8 230.55 L319.3 230.44 L319.8 229.99 L320.3 230.49 L320.8 230.42 L321.3 230.33 L321.8 230.37 L322.3 230.56 L322.8 230.24 L323.3 230.21 L323.8 230.57 L324.3 230.06 L324.8 230.23 L325.3 230.58 L325.8 230.36 L326.3 230.28 L326.8 230.12 L327.3 230.37 L327.8 230.38 L328.3 230.08 L328.3 242.83 L327.8 242.25 L327.3 242.3 L326.8 242.29 L326.3 242.29 L325.8 242.14 L325.3 242.23 L324.8 242.41 L324.3 242.31 L323.8 242.72 L323.3 242.54 L322.8 242.25 L322.3 242.3 L321.8 242.3 L321.3 242.65 L320.8 242.29 L320.3 242.22 L319.8 242.15 L319.3 242.65 L318.8 242.32 L318.3 242.4 L317.8 242.51 L317.3 242.45 L316.8 242.12 L316.3 242.36 L315.8 242.12 L315.3 242.41 L314.8 242.39 L314.3 242.38 L313.8 242.24 L313.3 242.44 L312.8 242.41 L312.3 242.15 L311.8 242.23 L311.3 242.13 L310.8 242.44 L310.3 242.14 L309.8 242.3 L309.3 242.23 L308.8 242.94 L308.3 242.22 L307.8 242.15 L307.3 242.11 L306.8 242.15 L306.3 242.36 L305.8 242.51 L305.3 242.25 L304.8 242.52 L304.3 242.25 L303.8 242.57 L303.3 242.14 L302.8 242.47 L302.3 242.31 L301.8 242.56 L301.3 242.18 L300.8 242.29 L300.3 242.27 L299.8 242.27 L299.3 242.11 L298.8 242.26 L298.3 242.42 L297.8 242.37 L297.3 242.51 L296.8 243.06 L296.3 242.46 L295.8 242.44 L295.3 242.59 L294.8 242.31 L294.3 242.75 L293.8 242.17 L293.3 242.32 L292.8 242.16 L292.3 242.37 L291.8 242.16 L291.3 242.38 L290.8 242.24 L290.3 242.22 L289.8 242.18 L289.3 242.8 L288.8 242.26 L288.3 242.5 L287.8 242.4 L287.3 242.18 L286.8 242.11 L286.3 242.34 L285.8 242.75 L285.3 242.5 L284.8 242.31 L284.3 242.7 L283.8 242.24 L283.3 242.18 L282.8 242.29 L282.3 242.1 L281.8 242.19 L281.3 242.21 L280.8 242.86 L280.3 242.64 L279.8 242.37 L279.3 242.15 L278.8 242.37 L278.3 242.21 L277.8 242.31 L277.3 242.69 L276.8 242.33 L276.3 242.24 L275.8 242.36 L275.3 242.22 L274.8 242.19 L274.3 242.14 L273.8 242.38 L273.3 242.2 L272.8 242.94 L272.3 242.26 L271.8 242.11 L271.3 242.18 L270.8 242.21 L270.3 243.11 L269.8 243.01 L269.3 242.15 L268.8 242.81 L268.3 242.51 L267.8 242.46 L267.3 242.35 L266.8 242.33 L266.3 242.63 L265.8 242.21 L265.3 242.58 L264.8 242.13 L264.3 242.27 L263.8 242.11 L263.3 242.46 L262.8 242.27 L262.3 242.52 L261.8 242.23 L261.3 242.38 L260.8 242.1 L260.3 242.1 L259.8 242.15 L259.3 242.45 L258.8 242.34 L258.3 242.27 L257.8 242.33 L257.3 242.17 L256.8 242.44 L256.3 242.33 L255.8 242.14 L255.3 242.17 L254.8 242.33 L254.3 242.18 L253.8 242.16 L253.3 242.26 L252.8 242.14 L252.3 242.45 L251.8 242.14 L251.3 242.57 L250.8 242.23 L250.3 242.22 L249.8 242.27 L249.3 242.54 L248.8 242.43 L248.3 242.69 L247.8 242.45 L247.3 242.42 L246.8 242.91 L246.3 242.31 L245.8 242.25 L245.3 242.23 L244.8 242.29 L244.3 242.53 L243.8 242.31 L243.3 242.41 L242.8 242.26 L242.3 242.22 L241.8 242.52 L241.3 242.54 L240.8 242.4 L240.3 242.32 L239.8 242.12 L239.3 242.15 L238.8 242.42 L238.3 242.24 L237.8 242.77 L237.3 242.47 L236.8 242.11 L236.3 242.25 L235.8 242.19 L235.3 242.36 L234.8 242.17 L234.3 242.52 L233.8 242.19 L233.3 242.6 L232.8 242.32 L232.3 242.24 L231.8 242.37 L231.3 242.28 L230.8 242.23 L230.3 242.34 L229.8 242.77 L229.3 242.57 L228.8 242.17 L228.3 242.34 L227.8 242.18 L227.3 242.62 L226.8 242.39 L226.3 242.55 L225.8 242.27 L225.3 242.28 L224.8 242.95 L224.3 242.3 L223.8 242.28 L223.3 242.31 L222.8 242.23 L222.3 242.53 L221.8 242.51 L221.3 242.24 L220.8 242.13 L220.3 242.35 L219.8 242.3 L219.3 242.43 L218.8 242.17 L218.3 242.1 L217.8 242.55 L217.3 242.48 L216.8 242.14 L216.3 242.18 L215.8 242.28 L215.3 242.5 L214.8 242.27 L214.3 242.15 L213.8 242.15 L213.3 242.13 L212.8 242.41 L212.3 242.8 L211.8 242.59 L211.3 242.29 L210.8 242.13 L210.3 242.26 L209.8 242.51 L209.3 242.21 L208.8 242.23 L208.3 242.12 L207.8 242.23 L207.3 242.66 L206.8 242.17 L206.3 242.3 L205.8 242.4 L205.3 242.78 L204.8 242.63 L204.3 242.3 L203.8 242.15 L203.3 242.2 L202.8 242.59 L202.3 242.28 L201.8 242.33 L201.3 242.49 L200.8 242.47 L200.3 242.44 L199.8 242.3 L199.3 242.44 L198.8 242.24 L198.3 242.43 L197.8 242.47 L197.3 242.29 L196.8 242.58 L196.3 242.13 L195.8 242.33 L195.3 242.17 L194.8 242.21 L194.3 242.29 L193.8 242.31 L193.3 242.15 L192.8 242.14 L192.3 242.26 L191.8 242.43 L191.3 242.18 L190.8 242.35 L190.3 242.32 L189.8 242.31 L189.3 242.78 L188.8 242.79 L188.3 242.45 L187.8 242.15 L187.3 242.37 L186.8 242.1 L186.3 242.41 L185.8 242.35 L185.3 242.32 L184.8 242.27 L184.3 242.61 L183.8 242.25 L183.3 242.27 L182.8 242.43 L182.3 242.27 L181.8 242.24 L181.3 242.12 L180.8 242.11 L180.3 242.34 L179.8 242.15 L179.3 242.47 L178.8 242.41 L178.3 242.16 L177.8 242.13 L177.3 242.39 L176.8 242.19 L176.3 242.39 L175.8 242.32 L175.3 242.63 L174.8 242.19 L174.3 242.4 L173.8 242.22 L173.3 242.57 L172.8 242.33 L172.3 242.13 L171.8 242.62 L171.3 242.39 L170.8 242.32 L170.3 242.7 L169.8 242.48 L169.3 242.25 L168.8 242.58 L168.3 242.59 L167.8 242.13 L167.3 242.19 L166.8 242.34 L166.3 242.1 L165.8 242.32 L165.3 242.13 L164.8 242.57 L164.3 242.54 L163.8 242.18 L163.3 242.63 L162.8 242.22 L162.3 242.98 L161.8 242.4 L161.3 242.45 L160.8 242.21 L160.3 242.32 L159.8 242.26 L159.3 242.16 L158.8 242.78 L158.3 242.29 L157.8 242.1 L157.3 242.51 L156.8 242.11 L156.3 242.17 L155.8 242.11 L155.3 242.2 L154.8 242.37 L154.3 242.23 L153.8 242.28 L153.3 242.41 L152.8 242.3 L152.3 242.62 L151.8 242.24 L151.3 242.26 L150.8 242.45 L150.3 242.43 L149.8 242.47 L149.3 242.14 L148.8 242.31 L148.3 242.23 L147.8 242.45 L147.3 242.67 L146.8 242.28 L146.3 242.15 L145.8 242.51 L145.3 242.66 L144.8 242.16 L144.3 242.3 L143.8 242.18 L143.3 242.37 L142.8 242.36 L142.3 242.35 L141.8 242.22 L141.3 242.78 L140.8 242.78 L140.3 242.18 L139.8 242.57 L139.3 242.17 L138.8 242.41 L138.3 242.39 L137.8 242.12 L137.3 242.51 L136.8 242.56 L136.3 242.21 L135.8 242.51 L135.3 242.63 L134.8 242.72 L134.3 242.15 L133.8 242.19 L133.3 242.32 L132.8 242.17 L132.3 242.13 L131.8 242.53 L131.3 242.26 L130.8 242.28 L130.3 242.21 L129.8 242.22 L129.3 242.43 L128.8 242.27 L128.3 242.11 L127.8 242.21 L127.3 242.28 L126.8 242.34 L126.3 242.55 L125.8 242.41 L125.3 242.66 L124.8 242.5 L124.3 242.65 L123.8 242.49 L123.3 242.29 L122.8 242.24 L122.3 242.33 L121.8 242.5 L121.3 242.3 L120.8 242.38 L120.3 242.24 L119.8 242.41 L119.3 242.19 L118.8 242.18 L118.3 242.34 L117.8 242.41 L117.3 242.21 L116.8 242.79 L116.3 242.18 L115.8 242.29 L115.3 242.59 L114.8 242.46 L114.3 242.2 L113.8 242.39 L113.3 242.46 L112.8 242.13 L112.3 242.44 L111.8 242.57 L111.3 242.87 L110.8 242.33 L110.3 242.18 L109.8 242.36 L109.3 242.17 L108.8 242.65 L108.3 242.71 L107.8 242.22Z" fill="#10131b"/>
<path d="M114.8 241.5V244.58M109.5 241.5V245.77M123.89 241.5V245.72M123.21 241.5V248.76M123 241.5V254.43M128.18 241.5V244.1M132.61 241.5V249.75M128.76 241.5V251.97M130.95 241.5V244.79M118.85 241.5V248.93M122.05 241.5V250.52M119.74 241.5V249.49M118.05 241.5V245.49M125.16 241.5V246.47M117.86 241.5V246.37M118.36 241.5V245.42M118.25 241.5V247.73M111.76 241.5V245.78M125.69 241.5V245.73M129.36 241.5V245.11M120.43 241.5V246.54M116.94 241.5V247.01M132.32 241.5V253.17M111.13 241.5V251.07M125.01 241.5V247.02M113.54 241.5V244.98M119.9 241.5V244.29M131.58 241.5V252.52M134.34 241.5V244.1M112.35 241.5V253.86" stroke="#5a5f6e" stroke-width="0.4" fill="none" opacity="1.0"/>
<path d="M246.2 241.5V243.41M274.85 241.5V244.17M274.77 241.5V245.63M180.87 241.5V243.44M262.62 241.5V246.22M237.92 241.5V244.23M230.28 241.5V243.3M307.39 241.5V243.96M173.18 241.5V243.31M219.83 241.5V245.22M295.61 241.5V245.19M319.91 241.5V244.44M188.05 241.5V243.36M244.95 241.5V243.8M176.54 241.5V246.12M147.66 241.5V243.35M172.5 241.5V243.9M273.8 241.5V243.37M175.74 241.5V244.7M309.48 241.5V243.82M309.61 241.5V244.19M227.79 241.5V243.42M180.03 241.5V243.57M311.76 241.5V244.45M279.66 241.5V245.65M298.29 241.5V243.49M170.24 241.5V243.3M263.41 241.5V243.33M285.51 241.5V245.33M165.86 241.5V245.33M196.06 241.5V243.91M298.5 241.5V243.3M178.6 241.5V243.41M295.96 241.5V245.75M221.92 241.5V243.31M294.12 241.5V243.45M252.41 241.5V246.21M282.34 241.5V244.32M252.58 241.5V243.91M238.36 241.5V243.72M272.54 241.5V245.89M140.34 241.5V243.38M262.27 241.5V245.38M245.08 241.5V243.67M180.71 241.5V244.34M145 241.5V243.4M292.69 241.5V243.95M251.03 241.5V243.34M148.62 241.5V245.29M159.04 241.5V243.9M248.58 241.5V243.65M199.7 241.5V244.09M245.74 241.5V243.31M200.62 241.5V244.61M250.28 241.5V243.42M236.74 241.5V243.69M150.42 241.5V243.33M286.74 241.5V244.42M192.07 241.5V243.63M177.15 241.5V243.3M188.09 241.5V243.54M212.22 241.5V243.31M287.32 241.5V243.73M137.68 241.5V244.4M156.13 241.5V244.51M220.91 241.5V243.95M204.18 241.5V245.48M191.88 241.5V243.32M241.06 241.5V244.61M179.26 241.5V243.94M273.97 241.5V243.31M298.06 241.5V243.51M231.73 241.5V243.44M286.27 241.5V244.23M214.32 241.5V243.52M284.42 241.5V243.48M179.84 241.5V243.3M302.98 241.5V245.54M289.77 241.5V246.42M217.83 241.5V245.77M255.51 241.5V243.41M203.33 241.5V243.49M197.35 241.5V243.42M201.4 241.5V246.01M145.39 241.5V243.76M281.99 241.5V245.09M141.75 241.5V245.23M195.94 241.5V244.35M248.87 241.5V245.29M311.65 241.5V244.88M164.74 241.5V243.45M190.5 241.5V243.31M183.25 241.5V243.37M323.24 241.5V244.25M303.75 241.5V246.17M300.68 241.5V244.77M203.43 241.5V243.48M215.06 241.5V245.42M192.89 241.5V243.89M286.66 241.5V243.31M261.01 241.5V243.3M184.13 241.5V244.48M265.84 241.5V246.27M261.41 241.5V245.64M288.05 241.5V243.38M322.53 241.5V243.3M278.02 241.5V243.64M180.63 241.5V243.49M276.25 241.5V245.81M225.97 241.5V245.6" stroke="#5a5f6e" stroke-width="0.35" fill="none" opacity="1.0"/>
<path d="M109.5 241.5V258M112 241.5V252M116.5 241.5V255M120 241.5V260.5M124.5 241.5V251M128 241.5V249.5M133 241.5V247.5M141 241.5V247M183.5 241.5V247.5M196 241.5V248M211 241.5V248.5M247.2 241.5V263M277 241.5V247.5M283 241.5V247M287.5 241.5V248M315.3 241.5V252.5" stroke="#5a5f6e" stroke-width="0.5" fill="none" opacity="1.0"/>
<rect x="92.4" y="214.2" width="10.6" height="66.2" fill="#000"/>
<rect x="90.4" y="266.4" width="17" height="14" fill="#000"/>
<line x1="107.5" y1="214.2" x2="107.5" y2="280.4" stroke="#555" stroke-width="0.5"/>
<rect x="19.8" y="214.2" width="309" height="66.2" fill="none" stroke="#444" stroke-width="0.7"/>
<line x1="18.4" y1="214.2" x2="19.8" y2="214.2" stroke="#333" stroke-width="0.6"/>
<text x="16.8" y="216.47" font-size="6.3" font-weight="bold" text-anchor="end" fill="#000" >30</text>
<line x1="18.4" y1="232.9" x2="19.8" y2="232.9" stroke="#333" stroke-width="0.6"/>
<text x="16.8" y="235.17" font-size="6.3" font-weight="bold" text-anchor="end" fill="#000" >20</text>
<line x1="18.4" y1="251.7" x2="19.8" y2="251.7" stroke="#333" stroke-width="0.6"/>
<text x="16.8" y="253.97" font-size="6.3" font-weight="bold" text-anchor="end" fill="#000" >10</text>
<line x1="18.4" y1="270.5" x2="19.8" y2="270.5" stroke="#333" stroke-width="0.6"/>
<text x="16.8" y="272.77" font-size="6.3" font-weight="bold" text-anchor="end" fill="#000" >0</text>
<text transform="translate(6.2,247) rotate(-90)" font-size="6.5" font-weight="bold" text-anchor="middle" fill="#000">Amplitude (pA)</text>
<text x="1.2" y="204.9" font-size="13" font-weight="bold" text-anchor="start" fill="#000" >c</text>
<text x="22" y="225" font-size="9" font-weight="bold" text-anchor="start" fill="#000" >Cys+Cu<tspan dy="-2.97" font-size="5.85">2+</tspan></text>
<text x="115.5" y="224.8" font-size="9" font-weight="bold" text-anchor="start" fill="#000" >Adding Na<tspan dy="1.9" font-size="7">4</tspan><tspan dy="-1.9">EDTA</tspan></text>
<line x1="23.2" y1="278.1" x2="46.7" y2="278.1" stroke="#000" stroke-width="1.7"/>
<text x="34.95" y="275.8" font-size="7.4" font-weight="bold" text-anchor="middle" fill="#000" >20 s</text>
<path d="M113.2 224L107.2 228.2" stroke="#e8211d" stroke-width="1.7" fill="none" stroke-linecap="round"/><path d="M104 230.6L109.6 229.8L106.9 225.8z" fill="#e8211d" stroke="#e8211d" stroke-width="0.6" stroke-linejoin="round"/>
<path d="M368.2 25.44 L368.7 25.78 L369.2 25.66 L369.7 25.56 L370.2 25.63 L370.7 25.65 L371.2 25.47 L371.7 25.68 L372.2 25.72 L372.7 25.86 L373.2 25.64 L373.7 25.36 L374.2 25.45 L374.7 25.74 L375.2 25.84 L375.7 25.74 L376.2 25.58 L376.7 25.55 L377.2 25.14 L377.7 25.75 L378.2 25.83 L378.7 25.8 L379.2 25.83 L379.7 25.52 L380.2 25.74 L380.7 25.77 L381.2 25.7 L381.7 25.65 L382.2 25.57 L382.7 25.8 L383.2 25.72 L383.7 25.83 L384.2 25.66 L384.7 25.21 L385.2 25.74 L385.7 25.69 L386.2 25.88 L386.7 25.72 L387.2 25.56 L387.7 25.62 L388.2 25.9 L388.7 25.73 L389.2 25.18 L389.7 25.77 L390.2 25.73 L390.7 25.77 L391.2 25.76 L391.7 25.85 L392.2 25.09 L392.7 25.35 L393.2 25.83 L393.7 25.79 L394.2 25.61 L394.7 25.46 L395.2 25.84 L395.7 25.59 L396.2 25.59 L396.7 25.27 L397.2 25.77 L397.7 25.07 L398.2 25.61 L398.7 25.47 L399.2 25.61 L399.7 25.4 L400.2 25.7 L400.7 25.7 L401.2 25.55 L401.7 25.58 L402.2 25.82 L402.7 25.83 L403.2 25.47 L403.7 25.58 L404.2 25.61 L404.7 25.72 L405.2 25.62 L405.7 25.39 L406.2 25.56 L406.7 25.55 L407.2 25.25 L407.7 25.5 L408.2 25.62 L408.7 25.69 L409.2 25.6 L409.7 25.66 L410.2 25.43 L410.7 25.9 L411.2 25.68 L411.7 25.7 L412.2 25.44 L412.7 25.66 L413.2 25.79 L413.7 25.61 L414.2 25.68 L414.7 25.63 L415.2 25.59 L415.7 24.96 L416.2 25.28 L416.7 25.15 L417.2 25.59 L417.7 25.58 L418.2 25.83 L418.7 25.83 L419.2 25.8 L419.7 25.53 L420.2 25.47 L420.7 25.69 L421.2 24.65 L421.7 25.46 L422.2 25.83 L422.7 25.48 L423.2 25.66 L423.7 25.54 L424.2 25.73 L424.7 25.85 L425.2 25.73 L425.7 25.86 L426.2 25.89 L426.7 25.73 L427.2 25.77 L427.7 25.3 L428.2 25.68 L428.7 25.21 L429.2 25.79 L429.7 25.44 L430.2 25.43 L430.7 25.9 L431.2 25.66 L431.7 25.69 L432.2 25.65 L432.7 25.9 L433.2 25.74 L433.7 25.72 L434.2 25.9 L434.7 25.82 L435.2 25.65 L435.7 25.4 L436.2 25.56 L436.7 25.45 L437.2 25.87 L437.7 25.5 L438.2 25.79 L438.7 25.46 L439.2 25.84 L439.7 25.81 L440.2 25.52 L440.7 25.81 L441.2 25.81 L441.7 25.49 L442.2 25.89 L442.7 25.78 L443.2 25.04 L443.7 25.69 L444.2 25.67 L444.7 25.84 L445.2 25.14 L445.7 25.72 L446.2 25.5 L446.7 25.48 L447.2 25.89 L447.7 25.39 L448.2 25.32 L448.7 25.43 L449.2 24.72 L449.7 25.74 L450.2 24.99 L450.7 25.85 L451.2 24.99 L451.7 25.7 L452.2 25.66 L452.7 25.85 L453.2 25.89 L453.7 25.77 L454.2 25.56 L454.7 25.76 L455.2 25.85 L455.7 25.65 L456.2 25.89 L456.7 25.6 L457.2 25.35 L457.7 25.63 L458.2 25.86 L458.7 25.64 L459.2 25.08 L459.7 25.86 L460.2 25.69 L460.7 25.25 L461.2 25.61 L461.7 25.56 L462.2 25.65 L462.7 25.78 L463.2 25.41 L463.7 25.63 L464.2 25.61 L464.7 25.27 L465.2 25.86 L465.7 25.63 L466.2 25.34 L466.7 25.9 L467.2 25.49 L467.7 25.71 L468.2 25.75 L468.7 25.59 L469.2 25.74 L469.7 25.67 L470.2 25.54 L470.7 25.63 L471.2 25.66 L471.7 25.86 L472.2 25.78 L472.7 25.86 L473.2 25.49 L473.7 25.61 L474.2 25.14 L474.7 25.67 L475.2 25.54 L475.7 25.73 L476.2 25.43 L476.7 25.49 L477.2 25.68 L477.7 25.6 L478.2 25.85 L478.7 25.19 L479.2 25.7 L479.7 25.41 L480.2 25.76 L480.7 25.54 L481.2 25.72 L481.7 25.76 L482.2 25.78 L482.7 25.72 L483.2 25.63 L483.7 25.48 L484.2 25.03 L484.7 25.6 L485.2 25.9 L485.7 25.8 L486.2 25.86 L486.7 25.36 L487.2 25.7 L487.7 25.7 L488.2 25.87 L488.7 25.71 L489.2 25.8 L489.7 25.79 L490.2 25.64 L490.7 25.27 L491.2 25.85 L491.7 25.73 L492.2 25.59 L492.7 25.12 L493.2 25.07 L493.7 25.84 L494.2 25.26 L494.7 25.04 L495.2 25.77 L495.7 25.83 L496.2 25.24 L496.7 25.88 L497.2 25.66 L497.7 25.81 L498.2 25.66 L498.7 25.79 L499.2 25.36 L499.7 25.89 L500.2 25.68 L500.7 25.39 L501.2 25.73 L501.7 25.76 L502.2 25.39 L502.7 25.77 L503.2 25.39 L503.7 25.9 L504.2 25.81 L504.7 25.52 L505.2 25.81 L505.7 25.88 L506.2 25.86 L506.7 25.33 L507.2 25.88 L507.7 25.73 L508.2 25.87 L508.7 25.32 L509.2 25.36 L509.7 25.41 L510.2 25.67 L510.7 25.22 L511.2 25.86 L511.7 25.75 L512.2 25.78 L512.7 25.42 L513.2 25.72 L513.7 25.53 L514.2 25.77 L514.7 25.88 L515.2 25.47 L515.7 25.56 L516.2 25.54 L516.7 25.47 L517.2 25.75 L517.7 25.73 L518.2 25.67 L518.7 25.81 L519.2 25.72 L519.7 25.61 L520.2 25.46 L520.7 25.51 L521.2 25.5 L521.7 25.83 L522.2 25.72 L522.7 25.9 L523.2 25.4 L523.7 25.39 L524.2 25.79 L524.7 25.56 L525.2 25.42 L525.7 25.25 L526.2 25.34 L526.7 25.8 L527.2 25.86 L527.7 25.31 L528.2 25.39 L528.7 25.54 L529.2 25.82 L529.7 25.31 L530.2 25.66 L530.7 25.61 L531.2 25.54 L531.7 25.76 L532.2 25.65 L532.7 25.69 L533.2 25.87 L533.7 25.78 L534.2 25.76 L534.7 25.78 L535.2 25.67 L535.7 25.75 L536.2 25.82 L536.7 25.49 L537.2 25.63 L537.7 25.71 L538.2 25.7 L538.7 25.67 L539.2 25.61 L539.7 25.63 L540.2 25.64 L540.7 25.74 L541.2 25.08 L541.7 25.52 L542.2 25.2 L542.7 25.75 L543.2 25.24 L543.7 25.48 L544.2 25.74 L544.7 25.87 L545.2 25.82 L545.7 25.83 L546.2 25.57 L546.7 25.29 L547.2 25.82 L547.7 25.73 L548.2 25.35 L548.7 25.84 L549.2 25.16 L549.7 25.67 L550.2 25.87 L550.7 25.76 L551.2 25.25 L551.7 25.49 L552.2 25.87 L552.7 25.61 L553.2 25.24 L553.7 25.46 L554.2 25.21 L554.7 25.74 L555.2 25.83 L555.7 25.65 L556.2 25.75 L556.7 25.64 L557.2 25.31 L557.7 25.56 L558.2 25.49 L558.7 25.66 L559.2 25.44 L559.7 25.9 L560.2 25.44 L560.7 25.53 L561.2 25.25 L561.7 25.71 L562.2 25.39 L562.7 25.25 L563.2 25.74 L563.7 25.81 L564.2 25.61 L564.7 25.54 L565.2 24.84 L565.7 25.55 L566.2 24.72 L566.7 25.46 L567.2 25.88 L567.7 25.85 L568.2 25.57 L568.7 25.02 L569.2 25.66 L569.7 25.38 L570.2 25.53 L570.7 25.87 L571.2 25.68 L571.7 25.76 L572.2 25.55 L572.7 25.49 L573.2 25.47 L573.7 25.56 L574.2 25.9 L574.7 25.69 L575.2 25.69 L575.7 25.57 L576.2 25.56 L576.7 25.52 L577.2 25.48 L577.7 25.7 L578.2 25.84 L578.7 25.88 L579.2 25.65 L579.7 25.62 L580.2 25.78 L580.7 25.59 L581.2 25.03 L581.7 25.78 L582.2 25.83 L582.7 25.89 L583.2 25.78 L583.7 25.23 L584.2 25.84 L584.7 25.55 L585.2 25.8 L585.7 25.67 L586.2 25.82 L586.7 25.81 L587.2 25.86 L587.7 25.54 L588.2 25.9 L588.7 25.75 L589.2 25.52 L589.7 25.46 L590.2 25.59 L590.7 25.42 L591.2 25.78 L591.7 25.65 L592.2 25.49 L592.7 25.46 L593.2 25.8 L593.7 25.81 L594.2 25.69 L594.7 25.58 L595.2 25.37 L595.7 25.81 L596.2 25.81 L596.7 25.6 L597.2 25.89 L597.7 25.87 L598.2 25.87 L598.7 25.68 L599.2 25.78 L599.7 25.19 L600.2 25.41 L600.7 25.71 L601.2 25.72 L601.7 25.58 L602.2 25.71 L602.2 35.66 L601.7 35.14 L601.2 35.1 L600.7 35.59 L600.2 35.18 L599.7 36.01 L599.2 35.21 L598.7 35 L598.2 35.94 L597.7 35.41 L597.2 36.15 L596.7 35.47 L596.2 35.3 L595.7 35.8 L595.2 35.38 L594.7 35.22 L594.2 35.17 L593.7 35.33 L593.2 35.47 L592.7 35.34 L592.2 35.41 L591.7 35.18 L591.2 35.12 L590.7 35.32 L590.2 35.44 L589.7 35.13 L589.2 35.92 L588.7 36.08 L588.2 35.21 L587.7 35.34 L587.2 35.39 L586.7 35.29 L586.2 35.55 L585.7 35.92 L585.2 35.32 L584.7 35.51 L584.2 35.18 L583.7 35.18 L583.2 35.81 L582.7 35.28 L582.2 35.32 L581.7 35.4 L581.2 35.53 L580.7 35.23 L580.2 35.38 L579.7 35.49 L579.2 35.21 L578.7 35.08 L578.2 35.71 L577.7 35.03 L577.2 35.52 L576.7 35.39 L576.2 35.46 L575.7 35.6 L575.2 35.56 L574.7 35.59 L574.2 35.37 L573.7 35.05 L573.2 35.23 L572.7 35.42 L572.2 35.35 L571.7 35.09 L571.2 35.13 L570.7 35.84 L570.2 35.18 L569.7 35.02 L569.2 35.72 L568.7 35.3 L568.2 35.79 L567.7 35.16 L567.2 35.6 L566.7 35.3 L566.2 35.87 L565.7 35.37 L565.2 36.07 L564.7 35.83 L564.2 35.27 L563.7 35.8 L563.2 35.01 L562.7 35.93 L562.2 35.76 L561.7 35.74 L561.2 35.65 L560.7 35.17 L560.2 35.15 L559.7 35.34 L559.2 35.07 L558.7 35.71 L558.2 35.99 L557.7 35.01 L557.2 35.08 L556.7 35.11 L556.2 35.18 L555.7 35.18 L555.2 35.67 L554.7 35.18 L554.2 35.1 L553.7 35.38 L553.2 35.29 L552.7 35.01 L552.2 35.75 L551.7 35.49 L551.2 35.07 L550.7 36.03 L550.2 35.23 L549.7 35.45 L549.2 35.16 L548.7 35.05 L548.2 35.28 L547.7 35.07 L547.2 35.22 L546.7 35.22 L546.2 35.63 L545.7 35.51 L545.2 35.67 L544.7 35.15 L544.2 35.17 L543.7 35.02 L543.2 35.58 L542.7 35.16 L542.2 35.49 L541.7 35.14 L541.2 35.52 L540.7 35.18 L540.2 35.12 L539.7 35.88 L539.2 35.63 L538.7 35.91 L538.2 35.62 L537.7 35.54 L537.2 35.27 L536.7 35.5 L536.2 35.3 L535.7 35.09 L535.2 35.53 L534.7 35.13 L534.2 35.3 L533.7 35.29 L533.2 35.31 L532.7 35.06 L532.2 35.08 L531.7 35.31 L531.2 35.26 L530.7 35.64 L530.2 35.35 L529.7 35.11 L529.2 35.53 L528.7 35.01 L528.2 35.14 L527.7 35.47 L527.2 35.41 L526.7 35.12 L526.2 35.56 L525.7 35.14 L525.2 35.45 L524.7 35.25 L524.2 35.95 L523.7 35.05 L523.2 35.45 L522.7 35.48 L522.2 35.09 L521.7 35.12 L521.2 35.26 L520.7 35.17 L520.2 35.27 L519.7 35.95 L519.2 35.26 L518.7 35.11 L518.2 35.07 L517.7 35.52 L517.2 35.61 L516.7 35.39 L516.2 35.47 L515.7 35.6 L515.2 35.03 L514.7 35.95 L514.2 35.61 L513.7 35.35 L513.2 35.12 L512.7 35.06 L512.2 35.1 L511.7 35.37 L511.2 35.39 L510.7 35.75 L510.2 35.12 L509.7 35.48 L509.2 35.15 L508.7 35.56 L508.2 35.62 L507.7 35.86 L507.2 35.26 L506.7 35.05 L506.2 35.15 L505.7 35.62 L505.2 35.59 L504.7 36.17 L504.2 35.66 L503.7 35.87 L503.2 35.35 L502.7 35.57 L502.2 35.63 L501.7 35.28 L501.2 35.17 L500.7 35.52 L500.2 35.1 L499.7 35.47 L499.2 35.76 L498.7 35.33 L498.2 35.72 L497.7 35.48 L497.2 35.12 L496.7 35.3 L496.2 35.04 L495.7 35.8 L495.2 35.45 L494.7 35.79 L494.2 35.56 L493.7 35.05 L493.2 35.13 L492.7 35.14 L492.2 35.05 L491.7 35.04 L491.2 35.48 L490.7 35.57 L490.2 35.02 L489.7 35.17 L489.2 35 L488.7 35.48 L488.2 35.49 L487.7 35.11 L487.2 35.21 L486.7 35.51 L486.2 35.12 L485.7 35.73 L485.2 35.57 L484.7 35.77 L484.2 35.04 L483.7 35.1 L483.2 35.4 L482.7 35.19 L482.2 35.32 L481.7 35.44 L481.2 35.4 L480.7 35.61 L480.2 35.33 L479.7 35 L479.2 35.9 L478.7 35.03 L478.2 35.02 L477.7 35.12 L477.2 35.03 L476.7 35.05 L476.2 35.06 L475.7 35.2 L475.2 35.4 L474.7 35.17 L474.2 35.98 L473.7 35.16 L473.2 35.21 L472.7 35.31 L472.2 35.16 L471.7 35.47 L471.2 35.03 L470.7 35.22 L470.2 35.01 L469.7 35.11 L469.2 35.17 L468.7 35.33 L468.2 35.52 L467.7 35.13 L467.2 36.17 L466.7 35.46 L466.2 36.37 L465.7 36.03 L465.2 35.25 L464.7 35.62 L464.2 35.35 L463.7 35.98 L463.2 35.11 L462.7 35.06 L462.2 35.15 L461.7 35.97 L461.2 35.63 L460.7 35.17 L460.2 35.34 L459.7 35.02 L459.2 35.08 L458.7 35.05 L458.2 35.13 L457.7 35.62 L457.2 35.53 L456.7 35.32 L456.2 35.27 L455.7 35.04 L455.2 35.36 L454.7 35.18 L454.2 35.2 L453.7 35.84 L453.2 35.01 L452.7 35.26 L452.2 35.01 L451.7 36.07 L451.2 35.01 L450.7 35.03 L450.2 36.11 L449.7 35.21 L449.2 35.49 L448.7 35.63 L448.2 35.29 L447.7 35.37 L447.2 36.05 L446.7 35.3 L446.2 35.17 L445.7 35.4 L445.2 35.28 L444.7 35.16 L444.2 35.1 L443.7 35.24 L443.2 35.42 L442.7 35.11 L442.2 35.41 L441.7 35.32 L441.2 35.46 L440.7 35.75 L440.2 35.09 L439.7 35.61 L439.2 35.82 L438.7 35.11 L438.2 35.43 L437.7 35.23 L437.2 35.1 L436.7 35.79 L436.2 35.51 L435.7 35.06 L435.2 35.27 L434.7 35.15 L434.2 35.45 L433.7 35.27 L433.2 35.16 L432.7 35.22 L432.2 35.04 L431.7 35.87 L431.2 35.96 L430.7 35.9 L430.2 35.28 L429.7 35.5 L429.2 35.22 L428.7 35.45 L428.2 35.19 L427.7 36.18 L427.2 35.54 L426.7 35.54 L426.2 35.33 L425.7 35.14 L425.2 35.01 L424.7 35.11 L424.2 35.61 L423.7 35.49 L423.2 35.14 L422.7 36.02 L422.2 35.03 L421.7 35.18 L421.2 35.28 L420.7 35.21 L420.2 35.63 L419.7 36.16 L419.2 35.15 L418.7 35.29 L418.2 35.06 L417.7 35.23 L417.2 35.16 L416.7 35.51 L416.2 35.26 L415.7 35.5 L415.2 35.08 L414.7 35.32 L414.2 35.36 L413.7 35.09 L413.2 35.08 L412.7 35.02 L412.2 35.24 L411.7 35.58 L411.2 35 L410.7 35.04 L410.2 35.56 L409.7 35.27 L409.2 35.51 L408.7 35.09 L408.2 35.09 L407.7 35.21 L407.2 35.26 L406.7 35.67 L406.2 35.28 L405.7 35.45 L405.2 35.1 L404.7 35.85 L404.2 35.02 L403.7 35.5 L403.2 35.43 L402.7 35.81 L402.2 35.55 L401.7 35.37 L401.2 35.17 L400.7 35.14 L400.2 35.69 L399.7 35.09 L399.2 35.54 L398.7 35.7 L398.2 35.07 L397.7 35.25 L397.2 35.96 L396.7 35.31 L396.2 35.14 L395.7 35.51 L395.2 35.24 L394.7 35.94 L394.2 35.43 L393.7 35.07 L393.2 35.58 L392.7 35.4 L392.2 35.23 L391.7 35.34 L391.2 35 L390.7 35.18 L390.2 35.16 L389.7 35.11 L389.2 35.72 L388.7 35.16 L388.2 35.23 L387.7 35.03 L387.2 35.2 L386.7 35.89 L386.2 35.35 L385.7 35.59 L385.2 35.84 L384.7 35.3 L384.2 35.43 L383.7 36.13 L383.2 35.15 L382.7 35.44 L382.2 35.12 L381.7 35.36 L381.2 35.64 L380.7 35.14 L380.2 35.15 L379.7 35.04 L379.2 35.08 L378.7 35.66 L378.2 35.14 L377.7 35.11 L377.2 36.4 L376.7 35.04 L376.2 35.16 L375.7 35.14 L375.2 35.36 L374.7 35.22 L374.2 35.55 L373.7 36.12 L373.2 36.3 L372.7 35.4 L372.2 35.11 L371.7 35.33 L371.2 35.45 L370.7 35.59 L370.2 35.24 L369.7 35.04 L369.2 35.67 L368.7 35.39 L368.2 35.02Z" fill="#000"/>
<path d="M554.02 34V41.36M425.2 34V43.82M571.01 34V45.88M594.13 34V39.96M426.36 34V38.56M463.9 34V43.09M499.07 34V44.29M531.5 34V50.57M394.25 34V48.99M474.11 34V47.96M459.21 34V40.39M516.27 34V49.55M389.17 34V38.53M581.51 34V43.2M368.92 34V44.18M588.57 34V43.52M510.03 34V38.99M526.16 34V44.29M529.24 34V38.19M401.66 34V43.56M490.29 34V46.7M413.77 34V42.11M586.64 34V48.19M432.61 34V44.95M393.89 34V44.64M528 34V49.46M526.91 34V40.93M547.18 34V38.38M578.97 34V49.63M568.7 34V40.09M531.37 34V40.07M424.46 34V49.98M373.05 34V39.01M554.24 34V46.14M543.36 34V40.83M460.16 34V49.8M523.67 34V48.96M393.87 34V39.54M464.35 34V46.33M566.83 34V47.45M400.84 34V39.59M566.86 34V48.5M546.19 34V48.19M431.04 34V39.32M397.77 34V43.36M479.77 34V40.94M507.73 34V47.35M572.74 34V38.39M446.4 34V42.98M598.38 34V46.55M488.41 34V44.2M430.4 34V39M482.57 34V48.58M382.14 34V50.48M370.65 34V38.72M404.93 34V47.17M422.25 34V47.04M580.55 34V39.27M480.41 34V38.57M541.37 34V50.15M404.33 34V39.51M501 34V39.66M378.82 34V45.32M370.42 34V39.28M457.39 34V38.27M462.7 34V39.28M572.27 34V46.83M543.51 34V48.88M473.18 34V40.66M374.19 34V45.4M552 34V41.68M566.51 34V41.36M525.85 34V47.7M420.67 34V50.21M441.22 34V46.96M474.52 34V44.52M472.87 34V39.76M567.24 34V42.64M563.93 34V42.6M564.89 34V45.52M550.78 34V50.78M425.81 34V46M434.89 34V42.97M431.51 34V42.11M376.55 34V42.58M397.15 34V38.33M437.69 34V46.36M480.07 34V49.57M554.99 34V45.35M369.71 34V47.31M405.89 34V50.86M374.92 34V46.23M570.59 34V45.89M537.41 34V49.8M548.42 34V42.33M431.97 34V40.1M517 34V45.03M534.4 34V46.11M592.13 34V50.94M416.94 34V45.35M563.54 34V49.5M593.17 34V43.07M413.08 34V50.51M386.57 34V38.04M389.64 34V39.71M533.85 34V49.96M527.69 34V41.67M529.16 34V41.49M428.88 34V48.09M518.28 34V46.69M476.65 34V39.44M596.8 34V42.75M437.29 34V39.43M536.81 34V39.03M449.93 34V50.11M493.79 34V50.64M535.28 34V38.21M507.65 34V39.93M517.68 34V49.69M491.67 34V39.69M554.97 34V41.17M369.04 34V42.34M564.89 34V38.18M418.96 34V42.54M423.35 34V50.2M574.68 34V39.12M600.95 34V38.41M475.84 34V40.73M475.06 34V42.92M374.15 34V46.95M408.87 34V48.96M519.33 34V48.13M510.98 34V42.05M401.84 34V45.25M430.47 34V41.24M582.28 34V46.39M510.67 34V46.93M534.72 34V44.6M423.6 34V44.47M558.98 34V44.01M526 34V38.37M410.37 34V43.85M499.67 34V48.44M484.62 34V39.53M506.71 34V44.28M550.66 34V38.59M382.61 34V38.08M540.96 34V42.77M427.51 34V42.57M569.72 34V41.69M397.03 34V47.54M515.06 34V48.18M574.91 34V50.76M444.87 34V40.03M437.18 34V43.93M467.64 34V41.28M585.58 34V39.26M467.7 34V38.36M508.94 34V41.61M537.8 34V40.28M540.81 34V38.01M431.46 34V48.78M489.84 34V38.51M382.53 34V40.31M599.52 34V38.97M484.75 34V38.54M451.73 34V50.28M446.38 34V40.56M371.99 34V39.85M594.92 34V39.76M513.38 34V47.5M560.16 34V41.62M526.54 34V44.13M432.53 34V44.29M548.25 34V46.47M560.86 34V47.67M535.58 34V47.04M526.78 34V50.82M477.28 34V38.85M447.14 34V39.94M387.48 34V42.83M536.99 34V44.08M521.31 34V45.59M515.3 34V47.95M488.46 34V48.68M417.41 34V43.87M573.17 34V49.1M392.47 34V45.56M454.96 34V43.29M486.24 34V40.84M541.23 34V39.06M419.71 34V42.71M502.89 34V45.79M598.82 34V44.2M469.29 34V42.15M563.92 34V47.5M409.51 34V38.05M531.44 34V38.49M527.83 34V50.53M581.84 34V41.42M521.59 34V47.96M517.89 34V40.63M375.64 34V43.58M536.33 34V48.44M370.63 34V39.52M538.95 34V40.15M493.41 34V47.55M578.1 34V38.27M479.42 34V38.54M470.56 34V38.25" stroke="#5c5c5c" stroke-width="0.32" fill="none" opacity="1.0"/>
<path d="M376 34V48M384 34V46M393 34V51M402 34V50M426 34V53.5M431.5 34V50M448 34V49M467 34V55M486 34V60.5M492 34V56M497 34V55.5M532.5 34V57.5M538.5 34V54M589 34V55M572 34V49" stroke="#707070" stroke-width="0.42" fill="none" opacity="1.0"/>
<path d="M397 26.5V35M426.5 26.5V35M438 26.5V35M454 26.5V35M473.5 26.5V35M486.5 26.5V35M497 26.5V35M532.7 26.5V35M572 26.5V35M590 26.5V35" stroke="#bbb" stroke-width="0.4" fill="none"/>
<rect x="367.8" y="8.7" width="234.9" height="64" fill="none" stroke="#8c8c8c" stroke-width="0.95"/>
<line x1="366.5" y1="9.1" x2="367.8" y2="9.1" stroke="#666" stroke-width="0.6"/>
<text x="365.3" y="10.97" font-size="5.2" font-weight="bold" text-anchor="end" fill="#000" >30</text>
<line x1="366.5" y1="27.4" x2="367.8" y2="27.4" stroke="#666" stroke-width="0.6"/>
<text x="365.3" y="29.27" font-size="5.2" font-weight="bold" text-anchor="end" fill="#000" >20</text>
<line x1="366.5" y1="45.7" x2="367.8" y2="45.7" stroke="#666" stroke-width="0.6"/>
<text x="365.3" y="47.57" font-size="5.2" font-weight="bold" text-anchor="end" fill="#000" >10</text>
<line x1="366.5" y1="64.1" x2="367.8" y2="64.1" stroke="#666" stroke-width="0.6"/>
<text x="365.3" y="65.97" font-size="5.2" font-weight="bold" text-anchor="end" fill="#000" >0</text>
<text transform="translate(355.4,40.3) rotate(-90)" font-size="5.5" font-weight="bold" text-anchor="middle" fill="#222">Amplitude (pA)</text>
<text x="347" y="9.4" font-size="13.2" font-weight="bold" text-anchor="start" fill="#000" >f</text>
<text x="371.2" y="18.5" font-size="7.9" font-weight="bold" text-anchor="start" fill="#8faadc" >Cys+Cu<tspan dy="-2.61" font-size="4.58">2+</tspan></text>
<line x1="373.1" y1="63.9" x2="393.5" y2="63.9" stroke="#333" stroke-width="1.2"/>
<text x="383.3" y="61.3" font-size="6.8" font-weight="bold" text-anchor="middle" fill="#000" >30 s</text>
<path d="M368.7 95.9 L369.2 95.84 L369.7 95.35 L370.2 95.84 L370.7 95.62 L371.2 95.88 L371.7 95.81 L372.2 95.48 L372.7 95.84 L373.2 95.97 L373.7 95.7 L374.2 95.64 L374.7 95.82 L375.2 95.88 L375.7 95.81 L376.2 96 L376.7 95.99 L377.2 95.83 L377.7 95.68 L378.2 95.83 L378.7 95.82 L379.2 95.2 L379.7 95.9 L380.2 95.4 L380.7 95.9 L381.2 96.03 L381.7 95.76 L382.2 95.91 L382.7 96.05 L383.2 95.99 L383.7 95.98 L384.2 95.78 L384.7 95.99 L385.2 95.66 L385.7 96.03 L386.2 95.16 L386.7 95.32 L387.2 95.48 L387.7 95.99 L388.2 95.38 L388.7 96.08 L389.2 96.04 L389.7 95.78 L390.2 95.74 L390.7 96.02 L391.2 96.04 L391.7 96.04 L392.2 96 L392.7 96.06 L393.2 95.94 L393.7 95.97 L394.2 95.18 L394.7 95.82 L395.2 95.79 L395.7 95.89 L396.2 95.75 L396.7 95.69 L397.2 95.89 L397.7 96.03 L398.2 95.96 L398.7 95.91 L399.2 96.02 L399.7 95.75 L400.2 95.77 L400.7 95.72 L401.2 95.65 L401.7 95.49 L402.2 95.68 L402.7 96.06 L403.2 96.07 L403.7 96.09 L404.2 95.85 L404.7 95.87 L405.2 95.95 L405.7 96.09 L406.2 95.83 L406.7 95.79 L407.2 96.06 L407.7 95.76 L408.2 95.73 L408.7 95.94 L409.2 95.84 L409.7 95.65 L410.2 94.77 L410.7 96.04 L411.2 95.69 L411.7 95.79 L412.2 95.56 L412.7 96.09 L413.2 95.93 L413.7 95.69 L414.2 95.9 L414.7 96.08 L415.2 95.78 L415.7 96.01 L416.2 95.95 L416.7 95.86 L417.2 95.91 L417.7 96.03 L418.2 95.82 L418.7 96.03 L419.2 95.79 L419.7 95.98 L420.2 96.05 L420.7 95.63 L421.2 96.04 L421.7 96.04 L422.2 95.86 L422.7 95.61 L423.2 95.7 L423.7 95.96 L424.2 95.87 L424.7 96.03 L425.2 96.02 L425.7 95.97 L426.2 96.05 L426.7 95.82 L427.2 95.95 L427.7 95.92 L428.2 95.93 L428.7 95.87 L429.2 95.92 L429.7 95.82 L430.2 95.96 L430.7 95.73 L431.2 95.47 L431.7 95.76 L432.2 95.85 L432.7 95.89 L433.2 95.75 L433.7 96.09 L434.2 95.97 L434.7 95.73 L435.2 95.73 L435.7 95.8 L436.2 96.01 L436.7 96.1 L437.2 96.08 L437.7 95.88 L438.2 95.66 L438.7 95.75 L439.2 95.83 L439.7 95.36 L440.2 95.72 L440.7 95.56 L441.2 95.51 L441.7 95.83 L442.2 96.05 L442.7 95.77 L443.2 96.08 L443.7 96.06 L444.2 95.77 L444.7 95.9 L445.2 95.66 L445.7 96.07 L446.2 95.53 L446.7 96 L447.2 95.55 L447.7 95.59 L448.2 95.94 L448.7 95.85 L449.2 95.82 L449.7 95.81 L450.2 95.44 L450.7 95.74 L451.2 96 L451.7 96 L452.2 95.98 L452.7 96.1 L453.2 96 L453.7 96 L454.2 96.01 L454.7 95.98 L455.2 95.68 L455.7 95.43 L456.2 96.04 L456.7 95.93 L457.2 95.93 L457.7 95.65 L458.2 96.07 L458.7 95.83 L459.2 95.92 L459.7 95.92 L460.2 95.98 L460.7 96.07 L461.2 95.48 L461.7 95.66 L462.2 95.43 L462.7 95.99 L463.2 95.93 L463.7 95.93 L464.2 95.89 L464.7 95.51 L465.2 95.84 L465.7 96.09 L466.2 95.98 L466.7 95.86 L467.2 95.77 L467.7 95.99 L468.2 95.3 L468.7 95.88 L469.2 96.02 L469.7 95.94 L470.2 95.34 L470.7 95.97 L471.2 96.07 L471.7 95.94 L472.2 96.06 L472.7 96.07 L473.2 95.78 L473.7 95.93 L474.2 95.75 L474.7 96 L475.2 95.69 L475.7 95.91 L476.2 95.86 L476.7 95.3 L477.2 96.09 L477.7 96 L478.2 95.98 L478.7 95.83 L479.2 95.97 L479.7 96.09 L480.2 95.86 L480.7 96 L481.2 95.82 L481.7 95.37 L482.2 95.56 L482.7 95.85 L483.2 95.87 L483.7 95.87 L484.2 95.91 L484.7 95.73 L485.2 96.03 L485.7 95.81 L486.2 95.39 L486.7 95.87 L487.2 95.83 L487.7 96 L488.2 95.12 L488.7 95.94 L489.2 95.96 L489.7 95.94 L490.2 96 L490.7 95.91 L491.2 96.04 L491.7 95.51 L492.2 95.8 L492.7 95.72 L493.2 95.27 L493.7 96.05 L494.2 95.57 L494.7 95.48 L495.2 95.66 L495.7 96.05 L496.2 95.88 L496.7 95.91 L497.2 95.97 L497.7 96.03 L498.2 95.92 L498.7 96.08 L499.2 95.91 L499.7 95.78 L500.2 95.95 L500.7 95.59 L501.2 95.78 L501.7 96.04 L502.2 95.86 L502.7 95.88 L503.2 96.04 L503.7 95.1 L504.2 96 L504.7 95.62 L505.2 95.89 L505.7 95.96 L506.2 96.02 L506.7 96.02 L507.2 96.03 L507.7 95.33 L508.2 95.6 L508.7 95.99 L509.2 95.81 L509.7 96.01 L510.2 95.81 L510.7 96.03 L511.2 96.07 L511.7 95.82 L512.2 96.02 L512.7 95.99 L513.2 95.65 L513.7 95.77 L514.2 95.95 L514.7 95.85 L515.2 95.94 L515.7 95.94 L516.2 95.73 L516.7 95.83 L517.2 95.83 L517.7 95.96 L518.2 95.92 L518.7 95.76 L519.2 95.65 L519.7 95.22 L520.2 95.46 L520.7 95.9 L521.2 95.32 L521.7 95.64 L522.2 95.23 L522.7 95.96 L523.2 95.96 L523.7 95.68 L524.2 96.01 L524.7 96.01 L525.2 96 L525.7 95.98 L526.2 95.94 L526.7 95.55 L527.2 96.04 L527.7 95.99 L528.2 96.07 L528.7 95.9 L529.2 95.73 L529.7 96.06 L530.2 96.04 L530.7 95.58 L531.2 95.68 L531.7 96.01 L532.2 95.62 L532.7 96.08 L533.2 95.5 L533.7 95.19 L534.2 95.78 L534.7 95.98 L535.2 95.91 L535.7 95.7 L536.2 96.09 L536.7 95.98 L537.2 96.02 L537.7 95.58 L538.2 96 L538.7 95.99 L539.2 95.47 L539.7 95.97 L540.2 95.66 L540.7 95.92 L541.2 95.43 L541.7 95.75 L542.2 95.77 L542.7 95.59 L543.2 96.06 L543.7 95.71 L544.2 95.99 L544.7 95.67 L545.2 96 L545.7 96.05 L546.2 96.05 L546.7 95.69 L547.2 95.71 L547.7 95.93 L548.2 96.06 L548.7 95.83 L549.2 95.93 L549.7 95.8 L550.2 95.93 L550.7 95.46 L551.2 96.08 L551.7 95.87 L552.2 95.42 L552.7 95.89 L553.2 96.04 L553.7 96.01 L554.2 96.02 L554.7 95.98 L555.2 95.84 L555.7 95.87 L556.2 95.8 L556.7 95.3 L557.2 95.83 L557.7 96.03 L558.2 95.92 L558.7 95.57 L559.2 95.9 L559.7 95.92 L560.2 95.92 L560.7 95.62 L561.2 95.92 L561.7 95.56 L562.2 95.85 L562.7 95.98 L563.2 95.39 L563.7 95.9 L564.2 95.5 L564.7 95.9 L565.2 95.95 L565.7 95.93 L566.2 95.48 L566.7 95.66 L567.2 95.58 L567.7 95.63 L568.2 95.79 L568.7 95.69 L569.2 95.93 L569.7 95.8 L570.2 95.6 L570.7 96 L571.2 95.74 L571.7 95.97 L572.2 95.96 L572.7 96.04 L573.2 95.72 L573.7 95.99 L574.2 95.72 L574.7 95.8 L575.2 95.64 L575.7 95.82 L576.2 95.88 L576.7 95.88 L577.2 95.71 L577.7 96.02 L578.2 95.71 L578.7 95.63 L579.2 95.32 L579.7 95.94 L580.2 95.54 L580.7 95.84 L581.2 96.03 L581.7 95.94 L582.2 95.62 L582.7 95.69 L583.2 95.53 L583.7 96.01 L584.2 95.48 L584.7 95.54 L585.2 96.02 L585.7 95.71 L586.2 95.86 L586.7 95.54 L587.2 95.75 L587.7 95.15 L588.2 96.05 L588.7 95.68 L589.2 95.96 L589.7 95.98 L590.2 96.07 L590.7 95.8 L591.2 96.03 L591.7 95.78 L592.2 96.1 L592.7 95.76 L593.2 95.29 L593.7 95.46 L594.2 95.6 L594.7 95.53 L595.2 95.57 L595.7 95.51 L596.2 96.02 L596.7 95.55 L597.2 96.02 L597.7 95.92 L598.2 95.55 L598.7 95.42 L599.2 95.69 L599.7 96.09 L600.2 95.75 L600.7 95.8 L601.2 95.97 L601.7 95.78 L601.7 105.39 L601.2 105.31 L600.7 105.36 L600.2 105.29 L599.7 104.89 L599.2 104.8 L598.7 105.04 L598.2 105.11 L597.7 104.96 L597.2 104.96 L596.7 105.28 L596.2 105.19 L595.7 104.7 L595.2 104.76 L594.7 105.31 L594.2 105.03 L593.7 104.7 L593.2 105.19 L592.7 104.96 L592.2 104.89 L591.7 105.01 L591.2 104.64 L590.7 104.84 L590.2 105.03 L589.7 105.22 L589.2 104.85 L588.7 104.67 L588.2 104.83 L587.7 104.84 L587.2 104.84 L586.7 105.37 L586.2 105.41 L585.7 105.04 L585.2 105.14 L584.7 104.82 L584.2 104.73 L583.7 105.59 L583.2 105.84 L582.7 105.1 L582.2 105.72 L581.7 104.65 L581.2 105.49 L580.7 105.28 L580.2 105.05 L579.7 105.15 L579.2 104.9 L578.7 105.15 L578.2 105.77 L577.7 105.07 L577.2 104.91 L576.7 104.96 L576.2 104.79 L575.7 105.54 L575.2 105.54 L574.7 105.04 L574.2 105.56 L573.7 104.6 L573.2 104.99 L572.7 105.29 L572.2 104.71 L571.7 104.87 L571.2 105.1 L570.7 104.61 L570.2 104.87 L569.7 105.03 L569.2 105.6 L568.7 104.72 L568.2 104.84 L567.7 104.99 L567.2 104.88 L566.7 105.14 L566.2 104.86 L565.7 104.71 L565.2 105.62 L564.7 105.5 L564.2 104.7 L563.7 104.62 L563.2 104.75 L562.7 105.21 L562.2 105.25 L561.7 104.6 L561.2 105.44 L560.7 105.09 L560.2 104.84 L559.7 105.75 L559.2 104.82 L558.7 104.72 L558.2 105.51 L557.7 104.66 L557.2 105.68 L556.7 104.95 L556.2 105.16 L555.7 104.65 L555.2 104.78 L554.7 104.66 L554.2 104.86 L553.7 104.93 L553.2 104.84 L552.7 104.84 L552.2 104.96 L551.7 104.66 L551.2 104.64 L550.7 105.54 L550.2 104.81 L549.7 105.27 L549.2 104.77 L548.7 104.88 L548.2 104.97 L547.7 104.81 L547.2 105.08 L546.7 104.91 L546.2 104.96 L545.7 105.08 L545.2 105.3 L544.7 104.95 L544.2 105.11 L543.7 104.93 L543.2 105 L542.7 105 L542.2 104.8 L541.7 105.08 L541.2 105.52 L540.7 105.22 L540.2 105.24 L539.7 104.76 L539.2 104.89 L538.7 104.82 L538.2 105.63 L537.7 104.7 L537.2 104.69 L536.7 104.62 L536.2 105.14 L535.7 105.25 L535.2 104.7 L534.7 104.93 L534.2 105.03 L533.7 104.74 L533.2 105.01 L532.7 104.94 L532.2 105.32 L531.7 104.72 L531.2 104.62 L530.7 105.11 L530.2 104.76 L529.7 104.88 L529.2 105.34 L528.7 105.69 L528.2 104.63 L527.7 104.97 L527.2 105.43 L526.7 105.06 L526.2 105.18 L525.7 104.9 L525.2 105.71 L524.7 105.26 L524.2 105 L523.7 104.65 L523.2 105.01 L522.7 104.93 L522.2 105.09 L521.7 104.96 L521.2 105.32 L520.7 104.86 L520.2 104.75 L519.7 104.73 L519.2 104.92 L518.7 104.97 L518.2 105 L517.7 105.07 L517.2 105.11 L516.7 104.77 L516.2 104.9 L515.7 104.62 L515.2 104.82 L514.7 104.9 L514.2 104.78 L513.7 105.24 L513.2 104.88 L512.7 104.67 L512.2 104.95 L511.7 105.38 L511.2 104.9 L510.7 104.95 L510.2 104.95 L509.7 104.8 L509.2 104.98 L508.7 104.79 L508.2 105.18 L507.7 105.18 L507.2 104.93 L506.7 104.94 L506.2 105.42 L505.7 104.82 L505.2 104.96 L504.7 104.61 L504.2 104.79 L503.7 104.67 L503.2 104.98 L502.7 104.81 L502.2 104.88 L501.7 105.52 L501.2 104.92 L500.7 105.38 L500.2 104.65 L499.7 104.75 L499.2 104.9 L498.7 104.75 L498.2 104.7 L497.7 105.9 L497.2 105.3 L496.7 104.66 L496.2 105.12 L495.7 105.3 L495.2 105.22 L494.7 104.66 L494.2 104.77 L493.7 104.7 L493.2 104.7 L492.7 105.07 L492.2 105.24 L491.7 104.69 L491.2 104.64 L490.7 104.91 L490.2 105.28 L489.7 105.24 L489.2 104.6 L488.7 105.27 L488.2 104.64 L487.7 105.57 L487.2 104.63 L486.7 104.72 L486.2 104.63 L485.7 104.86 L485.2 105.27 L484.7 104.63 L484.2 104.61 L483.7 104.71 L483.2 104.61 L482.7 105.47 L482.2 104.8 L481.7 106.12 L481.2 104.75 L480.7 104.9 L480.2 105.21 L479.7 104.76 L479.2 105.19 L478.7 105.36 L478.2 104.84 L477.7 105.24 L477.2 105.32 L476.7 104.6 L476.2 105.56 L475.7 104.73 L475.2 104.86 L474.7 104.87 L474.2 105.74 L473.7 104.87 L473.2 104.67 L472.7 104.8 L472.2 105.64 L471.7 104.85 L471.2 105.08 L470.7 105.29 L470.2 104.61 L469.7 105.06 L469.2 104.69 L468.7 104.66 L468.2 104.63 L467.7 105.1 L467.2 105.23 L466.7 104.89 L466.2 105.43 L465.7 104.66 L465.2 104.78 L464.7 105.2 L464.2 105.83 L463.7 104.6 L463.2 105.81 L462.7 105.15 L462.2 105.48 L461.7 104.63 L461.2 104.95 L460.7 105.11 L460.2 104.7 L459.7 105.7 L459.2 104.85 L458.7 104.61 L458.2 104.77 L457.7 104.71 L457.2 104.89 L456.7 104.75 L456.2 104.99 L455.7 105.25 L455.2 104.69 L454.7 104.95 L454.2 104.85 L453.7 104.78 L453.2 105.93 L452.7 104.78 L452.2 105.38 L451.7 104.72 L451.2 105.36 L450.7 104.83 L450.2 104.64 L449.7 104.98 L449.2 104.7 L448.7 104.92 L448.2 104.91 L447.7 105.14 L447.2 105.64 L446.7 105.42 L446.2 104.73 L445.7 104.73 L445.2 105.13 L444.7 104.7 L444.2 104.81 L443.7 104.77 L443.2 104.84 L442.7 104.67 L442.2 105.04 L441.7 104.83 L441.2 104.73 L440.7 104.68 L440.2 105.41 L439.7 104.87 L439.2 105.09 L438.7 105.09 L438.2 104.9 L437.7 105.1 L437.2 104.64 L436.7 105.52 L436.2 105.03 L435.7 105.22 L435.2 104.63 L434.7 105.16 L434.2 105.2 L433.7 104.8 L433.2 104.64 L432.7 105.01 L432.2 104.87 L431.7 104.77 L431.2 104.66 L430.7 105.04 L430.2 104.73 L429.7 104.65 L429.2 105.33 L428.7 104.81 L428.2 104.96 L427.7 104.8 L427.2 104.6 L426.7 105.75 L426.2 104.75 L425.7 105.24 L425.2 104.94 L424.7 104.92 L424.2 104.89 L423.7 105.06 L423.2 105.01 L422.7 104.81 L422.2 104.68 L421.7 105.69 L421.2 105.02 L420.7 104.62 L420.2 104.69 L419.7 105.29 L419.2 105.05 L418.7 105.55 L418.2 105.45 L417.7 104.74 L417.2 104.8 L416.7 105.7 L416.2 104.62 L415.7 104.77 L415.2 104.61 L414.7 105 L414.2 104.84 L413.7 104.74 L413.2 104.97 L412.7 105.09 L412.2 104.75 L411.7 104.62 L411.2 104.81 L410.7 104.72 L410.2 105.13 L409.7 105.05 L409.2 104.65 L408.7 104.7 L408.2 105.18 L407.7 104.61 L407.2 104.85 L406.7 104.7 L406.2 104.81 L405.7 105.02 L405.2 104.86 L404.7 104.76 L404.2 105.21 L403.7 104.77 L403.2 105.33 L402.7 105.4 L402.2 105.08 L401.7 105.09 L401.2 104.82 L400.7 104.93 L400.2 104.65 L399.7 105.18 L399.2 105.03 L398.7 104.65 L398.2 105.38 L397.7 104.61 L397.2 105.05 L396.7 104.71 L396.2 105.15 L395.7 104.64 L395.2 104.77 L394.7 104.63 L394.2 104.72 L393.7 104.74 L393.2 105.34 L392.7 104.72 L392.2 105.24 L391.7 104.77 L391.2 104.69 L390.7 105.14 L390.2 104.71 L389.7 105.37 L389.2 105.35 L388.7 105.07 L388.2 105.09 L387.7 104.7 L387.2 104.99 L386.7 105.08 L386.2 104.67 L385.7 106.08 L385.2 104.98 L384.7 104.81 L384.2 104.69 L383.7 104.9 L383.2 104.79 L382.7 104.65 L382.2 105.12 L381.7 104.67 L381.2 105.03 L380.7 105 L380.2 105.01 L379.7 104.98 L379.2 105.41 L378.7 104.87 L378.2 104.63 L377.7 104.89 L377.2 105.29 L376.7 104.96 L376.2 105.09 L375.7 104.74 L375.2 105.05 L374.7 104.76 L374.2 104.86 L373.7 104.89 L373.2 104.88 L372.7 105.14 L372.2 104.7 L371.7 104.98 L371.2 104.63 L370.7 105.64 L370.2 105.05 L369.7 104.83 L369.2 104.66 L368.7 104.73Z" fill="#000"/>
<path d="M438.85 103.6V105.4M565.96 103.6V105.65M475.56 103.6V105.54M589.55 103.6V105.84M539.44 103.6V105.41M474.36 103.6V106.1M590.18 103.6V105.59M573.93 103.6V107.43M520.94 103.6V106.92M519.77 103.6V107.27M398.88 103.6V107.45M496.98 103.6V107.22M404.54 103.6V105.46M466 103.6V107.7M597.02 103.6V105.44M411.59 103.6V107.63M533.72 103.6V106.48M431.67 103.6V105.42M417.54 103.6V107.74M595.1 103.6V106.3M517.34 103.6V106.29M411.19 103.6V108.18M471.09 103.6V108.78M480.48 103.6V105.4M392.39 103.6V105.46M434.57 103.6V107.97M414.22 103.6V106.91M522.37 103.6V105.52M540.46 103.6V105.53M569.56 103.6V105.9M501.15 103.6V107.88M475.6 103.6V105.61M426.18 103.6V108.12M532.33 103.6V105.47M440.71 103.6V105.4M430.91 103.6V105.74M385.64 103.6V105.49M379.77 103.6V106.88M570.23 103.6V105.4M555.21 103.6V106.16M584.05 103.6V105.41M433.86 103.6V108.79M453.29 103.6V106.81M438.75 103.6V108.3M507.73 103.6V106.35M586.85 103.6V107.23M528.89 103.6V108.41M596.92 103.6V105.4M552.07 103.6V105.4M427.72 103.6V105.48M401.67 103.6V105.61M539.76 103.6V107.21M472.43 103.6V107.71M462.78 103.6V108.48M468.65 103.6V106.46M471.29 103.6V105.4M417.85 103.6V105.4M569.4 103.6V105.56M455.3 103.6V106.84M539.61 103.6V106.83M389.26 103.6V107.72M543.67 103.6V106.78M441.22 103.6V106.07M516.47 103.6V105.6M485.63 103.6V105.4M585.54 103.6V106.09M454.92 103.6V107.64M395.45 103.6V106.68M528.99 103.6V107.12M395.78 103.6V106.44M405.72 103.6V108.72M582.26 103.6V108.09M532.75 103.6V107.9M419.59 103.6V105.4M582.71 103.6V105.41M370.84 103.6V105.51M601.14 103.6V107.12M370.86 103.6V107.05M515.32 103.6V106.18M439.6 103.6V107.98M597.89 103.6V105.4M393.11 103.6V107.85M399.11 103.6V105.61M460.86 103.6V107.94M544.18 103.6V105.62M498 103.6V105.4M457.59 103.6V105.74M437.92 103.6V106.65M554.91 103.6V106.27M574.74 103.6V105.42M374.81 103.6V106.81M558.22 103.6V108.74M413.37 103.6V108.01M538.64 103.6V105.47M425.78 103.6V105.42M452.92 103.6V108.05M444.91 103.6V105.85M554.58 103.6V106.93M459.31 103.6V108.04M557.88 103.6V105.5M387.21 103.6V106.83M534.95 103.6V106.81M558.59 103.6V105.45M590.06 103.6V106.49M559.14 103.6V106.27M391.99 103.6V105.42M509.76 103.6V105.58M446.92 103.6V105.56M463.78 103.6V105.81M494.93 103.6V107.45M581.74 103.6V105.75M371.55 103.6V107.56M470.8 103.6V106.86M460.12 103.6V106.86M561.34 103.6V105.86M591.96 103.6V106.03M455.62 103.6V107.45M580.26 103.6V105.96M426.55 103.6V105.57M558.91 103.6V105.88M530.81 103.6V107.72M517.95 103.6V105.83M414.51 103.6V105.9M466.37 103.6V105.49M561.55 103.6V106.31M469.98 103.6V105.96M598.38 103.6V105.91M451.25 103.6V105.88M478.72 103.6V107.24M600.61 103.6V105.47M499.9 103.6V105.41M534.39 103.6V106.31M506.71 103.6V107.98M470 103.6V105.5M550.09 103.6V105.73M526.12 103.6V107.03M584.8 103.6V105.43M486.45 103.6V106.11M432.84 103.6V105.68M465.44 103.6V107.65M594.78 103.6V107.3M600.38 103.6V107.74M473.78 103.6V105.71M502.4 103.6V107.57M494.54 103.6V108.18M495.34 103.6V105.52M596.09 103.6V106.81M388.75 103.6V108.34M566.52 103.6V105.41M528.38 103.6V107.18" stroke="#555" stroke-width="0.35" fill="none" opacity="1.0"/>
<path d="M376 103.6V121.5M396 103.6V129M409 103.6V108.5M450 103.6V112.5M472.5 103.6V111.5M480.5 103.6V133M487.5 103.6V123M505 103.6V112M507.5 103.6V110M518 103.6V116M589 103.6V124.5M545 103.6V110M560 103.6V111" stroke="#707070" stroke-width="0.42" fill="none" opacity="1.0"/>
<rect x="368.3" y="77.6" width="234.2" height="64.4" fill="none" stroke="#8c8c8c" stroke-width="0.95"/>
<line x1="367" y1="78" x2="368.3" y2="78" stroke="#666" stroke-width="0.6"/>
<text x="365.8" y="79.87" font-size="5.2" font-weight="bold" text-anchor="end" fill="#000" >30</text>
<line x1="367" y1="96.5" x2="368.3" y2="96.5" stroke="#666" stroke-width="0.6"/>
<text x="365.8" y="98.37" font-size="5.2" font-weight="bold" text-anchor="end" fill="#000" >20</text>
<line x1="367" y1="115.1" x2="368.3" y2="115.1" stroke="#666" stroke-width="0.6"/>
<text x="365.8" y="116.97" font-size="5.2" font-weight="bold" text-anchor="end" fill="#000" >10</text>
<line x1="367" y1="133.6" x2="368.3" y2="133.6" stroke="#666" stroke-width="0.6"/>
<text x="365.8" y="135.47" font-size="5.2" font-weight="bold" text-anchor="end" fill="#000" >0</text>
<text transform="translate(355.9,109.5) rotate(-90)" font-size="5.5" font-weight="bold" text-anchor="middle" fill="#222">Amplitude (pA)</text>
<text x="346.6" y="82.4" font-size="13.2" font-weight="bold" text-anchor="start" fill="#000" >g</text>
<text x="371.7" y="88.9" font-size="7.9" font-weight="bold" text-anchor="start" fill="#f6c142" >3-MPA+Cu<tspan dy="-2.61" font-size="4.58">2+</tspan></text>
<line x1="373.1" y1="133.4" x2="393.8" y2="133.4" stroke="#333" stroke-width="1.2"/>
<text x="383.45" y="130.8" font-size="6.8" font-weight="bold" text-anchor="middle" fill="#000" >30 s</text>
<path d="M369.1 160.59 L369.6 160.44 L370.1 160.09 L370.6 160.73 L371.1 160.22 L371.6 160.61 L372.1 160.94 L372.6 160.72 L373.1 161.03 L373.6 159.5 L374.1 160.32 L374.6 161.05 L375.1 160.2 L375.6 160.67 L376.1 161.03 L376.6 160.82 L377.1 160.82 L377.6 159.55 L378.1 159.83 L378.6 160.54 L379.1 160.69 L379.6 161.02 L380.1 159.94 L380.6 160.78 L381.1 161.03 L381.6 159.78 L382.1 159.96 L382.6 160.98 L383.1 160.67 L383.6 160.67 L384.1 161.09 L384.6 160.64 L385.1 161.07 L385.6 160.88 L386.1 160.41 L386.6 160.86 L387.1 160.84 L387.6 160.61 L388.1 160.45 L388.6 160.97 L389.1 161.09 L389.6 160.44 L390.1 159.42 L390.6 159.41 L391.1 160.37 L391.6 160.56 L392.1 160.71 L392.6 160.64 L393.1 159.33 L393.6 159.66 L394.1 160.98 L394.6 160.44 L395.1 161.02 L395.6 160.65 L396.1 159.94 L396.6 160.95 L397.1 161.12 L397.6 160.74 L398.1 160.71 L398.6 160.9 L399.1 161 L399.6 161.17 L400.1 161.03 L400.6 160.12 L401.1 160.15 L401.6 160.4 L402.1 160.75 L402.6 161.13 L403.1 161.02 L403.6 160.91 L404.1 160.75 L404.6 160.43 L405.1 160.03 L405.6 160.95 L406.1 160.67 L406.6 161.08 L407.1 161.15 L407.6 160.99 L408.1 161.16 L408.6 161.12 L409.1 161 L409.6 161.1 L410.1 160.35 L410.6 160.88 L411.1 159.76 L411.6 160.09 L412.1 160.67 L412.6 160.97 L413.1 160.61 L413.6 160.21 L414.1 161.15 L414.6 160.26 L415.1 160.53 L415.6 160.99 L416.1 160.77 L416.6 160.82 L417.1 161.12 L417.6 160.26 L418.1 161.11 L418.6 160.54 L419.1 160.72 L419.6 160.82 L420.1 160.6 L420.6 159.74 L421.1 160.6 L421.6 161.09 L422.1 160.23 L422.6 160.52 L423.1 160.56 L423.6 160.22 L424.1 160.2 L424.6 160.74 L425.1 160.95 L425.6 159.75 L426.1 161.19 L426.6 160.59 L427.1 160.83 L427.6 161.14 L428.1 161.12 L428.6 160.38 L429.1 161.15 L429.6 160.76 L430.1 159.45 L430.6 160.26 L431.1 160.1 L431.6 160.07 L432.1 160.92 L432.6 160.34 L433.1 160.28 L433.6 161.07 L434.1 160.02 L434.6 160.09 L435.1 159.8 L435.6 160.36 L436.1 161.15 L436.6 160.11 L437.1 160.09 L437.6 160.9 L438.1 161.15 L438.6 160.9 L439.1 161.05 L439.6 160.1 L440.1 160.94 L440.6 160.93 L441.1 160.69 L441.6 160.84 L442.1 160.65 L442.6 160.52 L443.1 160.67 L443.6 161.01 L444.1 161.14 L444.6 160.18 L445.1 161.17 L445.6 160.53 L446.1 161.02 L446.6 160.83 L447.1 160.67 L447.6 160.52 L448.1 159.56 L448.6 160.34 L449.1 160.63 L449.6 160.76 L450.1 160.52 L450.6 159.89 L451.1 161.01 L451.6 161.08 L452.1 160.36 L452.6 160.86 L453.1 160.52 L453.6 160.22 L454.1 160.37 L454.6 159.7 L455.1 160.09 L455.6 161.11 L456.1 160.23 L456.6 161.18 L457.1 161.03 L457.6 160.28 L458.1 160.61 L458.6 160.21 L459.1 161.1 L459.6 160.26 L460.1 161.2 L460.6 161.19 L461.1 159.34 L461.6 160.71 L462.1 160.52 L462.6 160.86 L463.1 161.03 L463.6 160.12 L464.1 160.55 L464.6 160.95 L465.1 161.14 L465.6 160.58 L466.1 161.15 L466.6 161.03 L467.1 160.82 L467.6 161.11 L468.1 160.44 L468.6 160.56 L469.1 160.85 L469.6 160.89 L470.1 159.39 L470.6 159.93 L471.1 161.08 L471.6 160.87 L472.1 161.01 L472.6 160.93 L473.1 160.55 L473.6 161.08 L474.1 160.28 L474.6 160.35 L475.1 160.48 L475.6 160.24 L476.1 160.08 L476.6 161.11 L477.1 161.01 L477.6 161.11 L478.1 160.95 L478.6 160.38 L479.1 160.76 L479.6 159.58 L480.1 160.97 L480.6 160.75 L481.1 160.15 L481.6 159.9 L482.1 160.51 L482.6 160.45 L483.1 160.03 L483.6 160.9 L484.1 160.42 L484.6 160.01 L485.1 160.92 L485.6 161.19 L486.1 160.21 L486.6 160.32 L487.1 160.04 L487.6 160.35 L488.1 159.93 L488.6 160.38 L489.1 161.13 L489.6 160.08 L490.1 160.33 L490.6 160.5 L491.1 160.6 L491.6 160.67 L492.1 160.16 L492.6 160.62 L493.1 160.53 L493.6 161.18 L494.1 160.87 L494.6 160.87 L495.1 159.44 L495.6 160.57 L496.1 159.49 L496.6 159.31 L497.1 161.06 L497.6 160.78 L498.1 161.05 L498.6 160.98 L499.1 160.84 L499.6 159.87 L500.1 160.51 L500.6 160.47 L501.1 160.05 L501.6 160.89 L502.1 161.12 L502.6 160.09 L503.1 160.23 L503.6 160.88 L504.1 161.18 L504.6 161.15 L505.1 160.62 L505.6 161 L506.1 160.58 L506.6 161.15 L507.1 160.74 L507.6 160.8 L508.1 161.17 L508.6 161.14 L509.1 160.81 L509.6 161.01 L510.1 160.3 L510.6 160.5 L511.1 160 L511.6 161.17 L512.1 160.28 L512.6 160.84 L513.1 160.63 L513.6 160.49 L514.1 160.09 L514.6 159.61 L515.1 160.98 L515.6 159.92 L516.1 161.05 L516.6 160.45 L517.1 161.18 L517.6 160.51 L518.1 161.14 L518.6 160.02 L519.1 160.86 L519.6 160.79 L520.1 160 L520.6 160.05 L521.1 160.32 L521.6 161.1 L522.1 160.44 L522.6 159.66 L523.1 160.29 L523.6 160.75 L524.1 160.97 L524.6 160.26 L525.1 159.97 L525.6 160.67 L526.1 160 L526.6 160.56 L527.1 161.01 L527.6 161.11 L528.1 160.71 L528.6 160.23 L529.1 160.16 L529.6 160.83 L530.1 160.03 L530.6 158.68 L531.1 161 L531.6 160.91 L532.1 160.89 L532.6 160.66 L533.1 160.03 L533.6 160.14 L534.1 161.12 L534.6 160.93 L535.1 160.27 L535.6 159.91 L536.1 160.14 L536.6 161 L537.1 160.91 L537.6 159.87 L538.1 160.92 L538.6 161.1 L539.1 160.95 L539.6 159.29 L540.1 159.62 L540.6 160.78 L541.1 161.15 L541.6 160.74 L542.1 160.17 L542.6 160.16 L543.1 161.1 L543.6 160.76 L544.1 160.77 L544.6 160.15 L545.1 160.66 L545.6 160.06 L546.1 160.5 L546.6 160 L547.1 161.13 L547.6 160.22 L548.1 160.94 L548.6 160.97 L549.1 161.19 L549.6 161.2 L550.1 159.96 L550.6 160.69 L551.1 160.1 L551.6 160.96 L552.1 160.69 L552.6 160.45 L553.1 161.06 L553.6 161.19 L554.1 161.05 L554.6 160.34 L555.1 160.92 L555.6 160.09 L556.1 160.41 L556.6 161.17 L557.1 160.99 L557.6 160.85 L558.1 160.06 L558.6 160.95 L559.1 160.48 L559.6 161.06 L560.1 159.88 L560.6 161.12 L561.1 160.62 L561.6 160.57 L562.1 161.06 L562.6 160.41 L563.1 160.82 L563.6 160.15 L564.1 160.55 L564.6 159.8 L565.1 160.75 L565.6 160.66 L566.1 159.72 L566.6 158.57 L567.1 159.8 L567.6 160.14 L568.1 159.97 L568.6 160.98 L569.1 160.7 L569.6 161.15 L570.1 160.5 L570.6 160.35 L571.1 158.81 L571.6 160.98 L572.1 160.16 L572.6 160.57 L573.1 160 L573.6 160.89 L574.1 161.16 L574.6 160.62 L575.1 160.11 L575.6 159.13 L576.1 160.57 L576.6 160.38 L577.1 160.81 L577.6 161.18 L578.1 160.97 L578.6 160.79 L579.1 160.49 L579.6 160.29 L580.1 161 L580.6 160.91 L581.1 160.89 L581.6 160.86 L582.1 161.2 L582.6 160.33 L583.1 159.73 L583.6 161.16 L584.1 160.14 L584.6 161.14 L585.1 160.56 L585.6 160.23 L586.1 160.9 L586.6 161.05 L587.1 161.07 L587.6 159.94 L588.1 160.55 L588.6 160.08 L589.1 160.02 L589.6 160.69 L590.1 160.66 L590.6 160.49 L591.1 160.43 L591.6 161.16 L592.1 160.09 L592.6 161.13 L593.1 160.93 L593.6 161.04 L594.1 161.03 L594.6 160.42 L595.1 160.54 L595.6 160.21 L596.1 160.11 L596.6 160.45 L597.1 160.67 L597.6 160.55 L598.1 160.84 L598.6 161.03 L599.1 161.14 L599.6 160.48 L600.1 160.21 L600.6 161.12 L601.1 160.82 L601.6 160.89 L602.1 161.13 L602.6 160.67 L603.1 160.32 L603.1 173.94 L602.6 173.99 L602.1 174.38 L601.6 174.06 L601.1 173.81 L600.6 174.01 L600.1 173.86 L599.6 175.02 L599.1 174.11 L598.6 174.63 L598.1 174.03 L597.6 174.91 L597.1 174.06 L596.6 174.29 L596.1 174.51 L595.6 174.62 L595.1 173.89 L594.6 173.9 L594.1 174.35 L593.6 174.47 L593.1 174.39 L592.6 175.03 L592.1 174.3 L591.6 173.86 L591.1 173.91 L590.6 174.57 L590.1 174.04 L589.6 174.15 L589.1 173.96 L588.6 174.12 L588.1 173.87 L587.6 174.34 L587.1 174.43 L586.6 174.08 L586.1 174.25 L585.6 174.06 L585.1 174.07 L584.6 174.86 L584.1 174.58 L583.6 175.39 L583.1 174.83 L582.6 174.54 L582.1 174.1 L581.6 174.01 L581.1 174.35 L580.6 174.52 L580.1 173.91 L579.6 174.12 L579.1 175.14 L578.6 174.07 L578.1 174.57 L577.6 174.08 L577.1 174.08 L576.6 174.09 L576.1 174.59 L575.6 174.09 L575.1 174.68 L574.6 174.38 L574.1 174.11 L573.6 174.33 L573.1 174.09 L572.6 174.09 L572.1 173.89 L571.6 174.33 L571.1 174.69 L570.6 174.31 L570.1 174.01 L569.6 173.83 L569.1 173.88 L568.6 174.55 L568.1 174.85 L567.6 174.42 L567.1 174.25 L566.6 174.03 L566.1 174.61 L565.6 174.86 L565.1 173.98 L564.6 174.48 L564.1 174.15 L563.6 174.57 L563.1 173.96 L562.6 175.19 L562.1 174.73 L561.6 174.36 L561.1 174.11 L560.6 174.13 L560.1 175.16 L559.6 174.03 L559.1 174 L558.6 175.85 L558.1 174.39 L557.6 174.2 L557.1 174.24 L556.6 174.55 L556.1 173.85 L555.6 173.91 L555.1 175.14 L554.6 174.76 L554.1 174.34 L553.6 174.19 L553.1 174.44 L552.6 174.75 L552.1 174.08 L551.6 173.96 L551.1 174.3 L550.6 174.72 L550.1 174.53 L549.6 173.84 L549.1 174.46 L548.6 175.04 L548.1 174.41 L547.6 174.19 L547.1 173.91 L546.6 174.41 L546.1 174.98 L545.6 174.54 L545.1 174.34 L544.6 174.18 L544.1 174.26 L543.6 174.55 L543.1 173.96 L542.6 173.86 L542.1 174.62 L541.6 174 L541.1 174.25 L540.6 174.09 L540.1 174.19 L539.6 174.43 L539.1 174.86 L538.6 173.82 L538.1 173.81 L537.6 174.41 L537.1 174.4 L536.6 174.25 L536.1 174.32 L535.6 175 L535.1 174.13 L534.6 174.8 L534.1 174.98 L533.6 174.7 L533.1 173.96 L532.6 174.01 L532.1 174.55 L531.6 174.2 L531.1 174.76 L530.6 174.52 L530.1 174.81 L529.6 175.99 L529.1 173.86 L528.6 175.01 L528.1 173.83 L527.6 173.95 L527.1 173.89 L526.6 174.1 L526.1 174.88 L525.6 174.84 L525.1 174.04 L524.6 175.23 L524.1 173.89 L523.6 174.22 L523.1 174.33 L522.6 174.34 L522.1 174.57 L521.6 173.92 L521.1 175.87 L520.6 174.07 L520.1 174.1 L519.6 174.05 L519.1 174.82 L518.6 173.84 L518.1 174.31 L517.6 174.31 L517.1 174.11 L516.6 174.31 L516.1 174.08 L515.6 174.16 L515.1 175.8 L514.6 174.24 L514.1 174.08 L513.6 174.83 L513.1 174.02 L512.6 174.88 L512.1 175.5 L511.6 174.27 L511.1 174.16 L510.6 174.22 L510.1 174.31 L509.6 174.55 L509.1 174.34 L508.6 175.32 L508.1 174.22 L507.6 174.91 L507.1 173.92 L506.6 175.53 L506.1 174.14 L505.6 174.09 L505.1 174.02 L504.6 174.07 L504.1 174.2 L503.6 173.97 L503.1 174.05 L502.6 174.77 L502.1 173.87 L501.6 174.33 L501.1 175.01 L500.6 173.81 L500.1 174.79 L499.6 174 L499.1 174.26 L498.6 174.07 L498.1 174.87 L497.6 173.91 L497.1 174.27 L496.6 174.23 L496.1 174.46 L495.6 174.53 L495.1 174.64 L494.6 173.87 L494.1 174.21 L493.6 174.26 L493.1 174.07 L492.6 173.97 L492.1 173.8 L491.6 174.69 L491.1 174.06 L490.6 174.91 L490.1 174.42 L489.6 174.14 L489.1 174.41 L488.6 173.92 L488.1 174.39 L487.6 173.82 L487.1 174.06 L486.6 173.96 L486.1 175.52 L485.6 174.23 L485.1 174.04 L484.6 174.8 L484.1 174.95 L483.6 174.49 L483.1 174.07 L482.6 174.23 L482.1 174.06 L481.6 173.85 L481.1 174.24 L480.6 173.81 L480.1 174.17 L479.6 174.68 L479.1 174.47 L478.6 174.06 L478.1 174.41 L477.6 174.41 L477.1 173.82 L476.6 174.38 L476.1 174.56 L475.6 174.2 L475.1 175.28 L474.6 175.16 L474.1 174.21 L473.6 174.43 L473.1 175.56 L472.6 174.26 L472.1 174.33 L471.6 174.09 L471.1 174.43 L470.6 174.27 L470.1 173.89 L469.6 174.54 L469.1 174.92 L468.6 174.07 L468.1 175.02 L467.6 173.91 L467.1 174.36 L466.6 173.88 L466.1 174.51 L465.6 174.67 L465.1 173.87 L464.6 174.52 L464.1 175.03 L463.6 175.28 L463.1 174.18 L462.6 174.62 L462.1 173.94 L461.6 174.66 L461.1 174.19 L460.6 174.51 L460.1 175.11 L459.6 174.39 L459.1 174.01 L458.6 173.93 L458.1 174.75 L457.6 174.13 L457.1 173.9 L456.6 175.45 L456.1 175.18 L455.6 174.29 L455.1 174.49 L454.6 174.72 L454.1 175.27 L453.6 174.74 L453.1 174.29 L452.6 175.01 L452.1 174.7 L451.6 174.14 L451.1 174.22 L450.6 174.83 L450.1 174.08 L449.6 174.64 L449.1 174.37 L448.6 174.03 L448.1 173.85 L447.6 174.06 L447.1 175.16 L446.6 174.19 L446.1 173.96 L445.6 174.32 L445.1 174.48 L444.6 174.11 L444.1 174.39 L443.6 174.37 L443.1 173.99 L442.6 173.88 L442.1 174.14 L441.6 173.98 L441.1 174.57 L440.6 174.06 L440.1 174.18 L439.6 174.99 L439.1 174.62 L438.6 174.5 L438.1 173.91 L437.6 173.93 L437.1 173.97 L436.6 174.23 L436.1 174.52 L435.6 174.49 L435.1 174.08 L434.6 174.48 L434.1 174.52 L433.6 174.2 L433.1 174.34 L432.6 173.83 L432.1 173.85 L431.6 174.38 L431.1 173.88 L430.6 175.01 L430.1 174.59 L429.6 173.94 L429.1 173.9 L428.6 174.22 L428.1 174.14 L427.6 173.86 L427.1 173.88 L426.6 174.3 L426.1 174.37 L425.6 174.83 L425.1 174.66 L424.6 174.43 L424.1 174.31 L423.6 175.52 L423.1 174.41 L422.6 174.15 L422.1 174.28 L421.6 174.27 L421.1 174.72 L420.6 173.9 L420.1 173.95 L419.6 174.35 L419.1 174.33 L418.6 174.77 L418.1 174.15 L417.6 174.2 L417.1 175.57 L416.6 173.82 L416.1 174.5 L415.6 174.16 L415.1 173.92 L414.6 174.36 L414.1 174.78 L413.6 174.29 L413.1 174.07 L412.6 174.03 L412.1 174.15 L411.6 174.37 L411.1 174.02 L410.6 174.72 L410.1 173.94 L409.6 174.62 L409.1 174.54 L408.6 174.15 L408.1 174.46 L407.6 174.32 L407.1 174.02 L406.6 174.37 L406.1 174.64 L405.6 174.32 L405.1 174.38 L404.6 174.07 L404.1 174.05 L403.6 174.4 L403.1 174.81 L402.6 174.1 L402.1 175.06 L401.6 174.48 L401.1 173.99 L400.6 173.83 L400.1 174.57 L399.6 174.54 L399.1 174.11 L398.6 173.87 L398.1 174.41 L397.6 174.11 L397.1 173.89 L396.6 174.49 L396.1 173.93 L395.6 174.34 L395.1 174.63 L394.6 174.02 L394.1 173.93 L393.6 174.6 L393.1 174.83 L392.6 174.61 L392.1 173.85 L391.6 174.69 L391.1 173.91 L390.6 175.36 L390.1 174.79 L389.6 173.98 L389.1 173.86 L388.6 175.03 L388.1 174.24 L387.6 173.83 L387.1 175.01 L386.6 174.45 L386.1 173.97 L385.6 174.59 L385.1 174.16 L384.6 174.35 L384.1 174.15 L383.6 174.55 L383.1 174.35 L382.6 173.85 L382.1 174.13 L381.6 174.07 L381.1 174.29 L380.6 174.6 L380.1 173.91 L379.6 174.03 L379.1 174.3 L378.6 174.28 L378.1 174.86 L377.6 174.61 L377.1 173.88 L376.6 174.34 L376.1 173.92 L375.6 173.84 L375.1 174.25 L374.6 174.78 L374.1 174.6 L373.6 174.07 L373.1 174.87 L372.6 174.26 L372.1 175.17 L371.6 174.63 L371.1 174.25 L370.6 174.02 L370.1 174.42 L369.6 174.25 L369.1 174Z" fill="#000"/>
<path d="M549.09 172.8V174.66M433.11 172.8V176.72M582.61 172.8V174.67M466.31 172.8V175.01M574.81 172.8V175.9M372.33 172.8V175.62M434.24 172.8V175.86M542.33 172.8V174.61M559.26 172.8V174.96M532.06 172.8V176.86M573.15 172.8V175.08M524 172.8V174.6M589.95 172.8V176.3M463.84 172.8V177.1M488.16 172.8V177.72M473.89 172.8V176.17M429.13 172.8V175.98M377.71 172.8V175.61M480.67 172.8V174.64M443.31 172.8V178.49M552.23 172.8V175.6M460.15 172.8V174.6M543.9 172.8V174.6M416.06 172.8V174.61M504.13 172.8V174.65M601.96 172.8V177.32M481.64 172.8V176.11M375.86 172.8V174.71M421.81 172.8V175.56M533.74 172.8V174.61M379.37 172.8V175.06M545.58 172.8V175.64M518.37 172.8V175.91M584.61 172.8V175.54M379.83 172.8V177.87M505.22 172.8V174.6M559.94 172.8V174.6M550.65 172.8V178.71M403.56 172.8V175.79M514.46 172.8V175.09M418.77 172.8V174.78M496.36 172.8V175.78M574.17 172.8V178.7M582.98 172.8V176.65M522.2 172.8V174.76M428.47 172.8V175.07M393.4 172.8V175.23M514.4 172.8V176.02M508.3 172.8V177.47M390.48 172.8V175.04M545.41 172.8V175.21M456.36 172.8V176.23M562.61 172.8V174.61M373.09 172.8V174.61M496.84 172.8V174.74M466.06 172.8V178.21M471.65 172.8V174.88M463.55 172.8V175.57M417.72 172.8V174.65M384.17 172.8V175.21M464.42 172.8V175.42M470.26 172.8V177.97M529.74 172.8V177.24M470.02 172.8V175.19M530.93 172.8V176.13M478.19 172.8V177.76M519.19 172.8V174.6M578.94 172.8V175.33M566.13 172.8V174.91M418.24 172.8V177.56M428.24 172.8V174.8M414.11 172.8V176.81M510.73 172.8V177.34M591.49 172.8V177.98M399.1 172.8V176.75M563.76 172.8V174.69M589.28 172.8V174.65M415.86 172.8V177.55M435.63 172.8V175.24M405.87 172.8V176.67M420.43 172.8V174.65M500.18 172.8V174.83M438.02 172.8V174.84M402.42 172.8V177.28M579.07 172.8V177.29M501.89 172.8V175.66M549.44 172.8V175.13M512.36 172.8V175.6M508.31 172.8V176.57M451.78 172.8V174.6M452.38 172.8V174.66M477.52 172.8V174.6M550.2 172.8V174.63M575.06 172.8V174.61M460.37 172.8V175.07M525.82 172.8V174.66M601.25 172.8V176.06M502.77 172.8V175.96M442.75 172.8V174.73M510.39 172.8V178.54M537.92 172.8V175.53M437.03 172.8V177.65M417.86 172.8V175.4M499.28 172.8V174.76M403.33 172.8V175.4M426.31 172.8V175.94M385.56 172.8V174.65M582.5 172.8V175.88M594.81 172.8V175.15M408.97 172.8V178.34M452.99 172.8V175.18M411.66 172.8V176.07M384.25 172.8V176.58M530.36 172.8V175.05M565.42 172.8V178.19M562.77 172.8V176.52M521.43 172.8V175.16M593.72 172.8V174.65M541.7 172.8V177.73M552.11 172.8V178.63M433.25 172.8V175.49M542.89 172.8V176.33M385.06 172.8V176.79M384.43 172.8V176.87M513.71 172.8V175.56M374.26 172.8V177.32M549.33 172.8V178.3M526.87 172.8V174.6M569.72 172.8V175.67M496.68 172.8V174.97M432.92 172.8V178.18M407.63 172.8V177.12M587.63 172.8V174.83M427.38 172.8V178.33M502.68 172.8V175.43M554.74 172.8V176.7M451.96 172.8V176.56M543.17 172.8V175.36M462.72 172.8V174.76M522.05 172.8V174.62M564.01 172.8V174.6M432.55 172.8V176.32M521.05 172.8V175.04M580.54 172.8V176.04M568.52 172.8V177.27M417.99 172.8V175.32M474.24 172.8V174.91M415.88 172.8V177.86M459.3 172.8V176.96M568.75 172.8V177.05M503.31 172.8V174.9M595.8 172.8V176.27M473.16 172.8V174.6M474.88 172.8V177.83M564.21 172.8V175.12M436.33 172.8V176.86M384.7 172.8V177.59M580.75 172.8V178.77M393.68 172.8V176.95M508.2 172.8V175.02M563.12 172.8V174.72M524.65 172.8V174.9M596.15 172.8V176.46M401.1 172.8V174.69M523.23 172.8V175.1M458.22 172.8V174.62M397.94 172.8V174.6M443.61 172.8V174.72M563.34 172.8V178.5M525.85 172.8V174.61M429.97 172.8V174.6M409.93 172.8V175.02M459.26 172.8V174.62M500.41 172.8V175.68M597.03 172.8V177.04M476.45 172.8V174.6M488.26 172.8V176.77M460.11 172.8V175.08M475.69 172.8V176.37M535.15 172.8V174.66M463.11 172.8V175.69M502.5 172.8V178.77M575.07 172.8V174.76M449.02 172.8V177.82M432.09 172.8V175.29M446.29 172.8V177.35M569.35 172.8V174.97M563.51 172.8V178.23M439.15 172.8V177.12M395.01 172.8V175.43M469.8 172.8V177.82M477.17 172.8V176.25M578.15 172.8V175M498.25 172.8V174.91M393.78 172.8V175.75M461.19 172.8V174.6M427.51 172.8V175.72M467.97 172.8V176.82M421.86 172.8V175.06M472.4 172.8V176.99" stroke="#555" stroke-width="0.35" fill="none" opacity="1.0"/>
<path d="M373.5 172.8V181M408.5 172.8V182M439.5 172.8V189M444 172.8V183M486.3 172.8V200.5M415 172.8V179.5M470 172.8V179M532 172.8V182M546 172.8V179" stroke="#707070" stroke-width="0.42" fill="none" opacity="1.0"/>
<rect x="368.7" y="147.1" width="234.8" height="64.1" fill="none" stroke="#8c8c8c" stroke-width="0.95"/>
<line x1="367.4" y1="147.5" x2="368.7" y2="147.5" stroke="#666" stroke-width="0.6"/>
<text x="366.2" y="149.37" font-size="5.2" font-weight="bold" text-anchor="end" fill="#000" >30</text>
<line x1="367.4" y1="165.7" x2="368.7" y2="165.7" stroke="#666" stroke-width="0.6"/>
<text x="366.2" y="167.57" font-size="5.2" font-weight="bold" text-anchor="end" fill="#000" >20</text>
<line x1="367.4" y1="183.9" x2="368.7" y2="183.9" stroke="#666" stroke-width="0.6"/>
<text x="366.2" y="185.77" font-size="5.2" font-weight="bold" text-anchor="end" fill="#000" >10</text>
<line x1="367.4" y1="202.1" x2="368.7" y2="202.1" stroke="#666" stroke-width="0.6"/>
<text x="366.2" y="203.97" font-size="5.2" font-weight="bold" text-anchor="end" fill="#000" >0</text>
<text transform="translate(356.3,178.8) rotate(-90)" font-size="5.5" font-weight="bold" text-anchor="middle" fill="#222">Amplitude (pA)</text>
<text x="346.7" y="151.2" font-size="13.2" font-weight="bold" text-anchor="start" fill="#000" >h</text>
<text x="372.1" y="157.3" font-size="7.9" font-weight="bold" text-anchor="start" fill="#f4b183" >Met+Cu<tspan dy="-2.61" font-size="4.58">2+</tspan></text>
<line x1="373.1" y1="201.9" x2="394.4" y2="201.9" stroke="#333" stroke-width="1.2"/>
<text x="383.75" y="199.3" font-size="6.8" font-weight="bold" text-anchor="middle" fill="#000" >30 s</text>
<path d="M576.3 161V154.5" stroke="#777" stroke-width="0.5"/>
<path d="M369.6 231.2 L370.1 231.03 L370.6 230.64 L371.1 231.52 L371.6 231.62 L372.1 231.48 L372.6 231.27 L373.1 231.16 L373.6 231.23 L374.1 231.57 L374.6 231.61 L375.1 231.49 L375.6 231.48 L376.1 231.66 L376.6 231.57 L377.1 231.38 L377.6 231.58 L378.1 231.47 L378.6 231.3 L379.1 231.67 L379.6 231.6 L380.1 231.66 L380.6 231.59 L381.1 231.23 L381.6 231.54 L382.1 231.46 L382.6 231.19 L383.1 231.51 L383.6 231.66 L384.1 231.59 L384.6 231.6 L385.1 231.64 L385.6 231.08 L386.1 231.49 L386.6 231.47 L387.1 231.22 L387.6 231.17 L388.1 231.52 L388.6 231.12 L389.1 231.18 L389.6 231.33 L390.1 231.12 L390.6 231.45 L391.1 231.57 L391.6 231.42 L392.1 231.45 L392.6 231.34 L393.1 231.43 L393.6 231.21 L394.1 231.64 L394.6 231.24 L395.1 231.44 L395.6 230.64 L396.1 231.36 L396.6 231.69 L397.1 230.69 L397.6 231.59 L398.1 231.61 L398.6 231.13 L399.1 230.92 L399.6 231.4 L400.1 231.54 L400.6 231.64 L401.1 231.43 L401.6 231.69 L402.1 231.67 L402.6 231.63 L403.1 231.6 L403.6 231.45 L404.1 231.47 L404.6 230.92 L405.1 231.41 L405.6 231.31 L406.1 231.05 L406.6 231.58 L407.1 231.63 L407.6 231.51 L408.1 231.66 L408.6 231.68 L409.1 231.43 L409.6 231.56 L410.1 231.36 L410.6 231.46 L411.1 231.48 L411.6 230.92 L412.1 231.12 L412.6 231.39 L413.1 231.67 L413.6 231.7 L414.1 231.57 L414.6 231.36 L415.1 231.28 L415.6 231.36 L416.1 231.32 L416.6 231.35 L417.1 231.67 L417.6 231.46 L418.1 231.68 L418.6 231.5 L419.1 231.15 L419.6 231.25 L420.1 231.23 L420.6 231.14 L421.1 231.65 L421.6 231.69 L422.1 231.23 L422.6 231.14 L423.1 231.51 L423.6 231.58 L424.1 231.34 L424.6 231.59 L425.1 231.53 L425.6 231.39 L426.1 231.57 L426.6 231.18 L427.1 230.72 L427.6 231.29 L428.1 231.24 L428.6 231.55 L429.1 231.47 L429.6 230.91 L430.1 231.09 L430.6 231.62 L431.1 231.29 L431.6 231.32 L432.1 231.19 L432.6 231.56 L433.1 231.01 L433.6 231.4 L434.1 231.45 L434.6 231.53 L435.1 231.5 L435.6 231.11 L436.1 231.63 L436.6 231.34 L437.1 231.38 L437.6 231.28 L438.1 231.52 L438.6 231.27 L439.1 231.58 L439.6 231.39 L440.1 231.53 L440.6 231.19 L441.1 231.21 L441.6 231.53 L442.1 230.71 L442.6 231.16 L443.1 231.36 L443.6 231.21 L444.1 231.19 L444.6 231.66 L445.1 231.53 L445.6 231.7 L446.1 231.5 L446.6 231.55 L447.1 230.76 L447.6 231.49 L448.1 231.13 L448.6 231.06 L449.1 231.65 L449.6 231.59 L450.1 231.66 L450.6 231.7 L451.1 231.69 L451.6 231.65 L452.1 231.59 L452.6 231.55 L453.1 231.41 L453.6 231.55 L454.1 231.62 L454.6 231.66 L455.1 230.81 L455.6 231.11 L456.1 231.09 L456.6 231.53 L457.1 231.67 L457.6 230.9 L458.1 231.64 L458.6 231.67 L459.1 230.97 L459.6 231.65 L460.1 231.12 L460.6 231.52 L461.1 231.43 L461.6 231.44 L462.1 231.67 L462.6 230.63 L463.1 231.57 L463.6 231.2 L464.1 231.16 L464.6 231.26 L465.1 231.33 L465.6 231.55 L466.1 231.56 L466.6 231.49 L467.1 231.64 L467.6 231.33 L468.1 231.3 L468.6 231.22 L469.1 231.45 L469.6 231.63 L470.1 231.55 L470.6 231.58 L471.1 231.5 L471.6 231.43 L472.1 231.36 L472.6 231.57 L473.1 230.86 L473.6 231.62 L474.1 231.57 L474.6 231.37 L475.1 231.58 L475.6 231.63 L476.1 231.34 L476.6 231.27 L477.1 231.5 L477.6 231.14 L478.1 231.21 L478.6 231.16 L479.1 231.17 L479.6 231.39 L480.1 231.45 L480.6 231.38 L481.1 231.42 L481.6 231.32 L482.1 231.52 L482.6 231.42 L483.1 231.12 L483.6 231.63 L484.1 231.05 L484.6 231.34 L485.1 231.46 L485.6 231.55 L486.1 231.1 L486.6 231.57 L487.1 231.39 L487.6 231.1 L488.1 231.38 L488.6 231.66 L489.1 231.43 L489.6 231.57 L490.1 230.97 L490.6 231.17 L491.1 231.28 L491.6 231.67 L492.1 231.46 L492.6 231.64 L493.1 231.63 L493.6 230.99 L494.1 231.41 L494.6 231.46 L495.1 231.43 L495.6 231.14 L496.1 231.49 L496.6 231.37 L497.1 231.17 L497.6 231.56 L498.1 231.2 L498.6 231.18 L499.1 231.53 L499.6 231.53 L500.1 231.42 L500.6 231.27 L501.1 231.4 L501.6 231.29 L502.1 231.62 L502.6 231.4 L503.1 231.31 L503.6 231.53 L504.1 231.11 L504.6 231.45 L505.1 231.56 L505.6 231.64 L506.1 231.61 L506.6 231.45 L507.1 231.28 L507.6 231.28 L508.1 231.4 L508.6 231.68 L509.1 231.56 L509.6 231.61 L510.1 231.3 L510.6 231.16 L511.1 231.3 L511.6 231.64 L512.1 231.44 L512.6 231.35 L513.1 231.26 L513.6 231.6 L514.1 231.37 L514.6 231.46 L515.1 231.39 L515.6 231.52 L516.1 231.4 L516.6 231.64 L517.1 231.32 L517.6 231.41 L518.1 231.61 L518.6 231.51 L519.1 231.08 L519.6 231.13 L520.1 231.62 L520.6 231.06 L521.1 231.55 L521.6 231.64 L522.1 231.27 L522.6 231.68 L523.1 231.31 L523.6 231.38 L524.1 231.61 L524.6 231.65 L525.1 231.44 L525.6 231.32 L526.1 230.9 L526.6 231.11 L527.1 231.63 L527.6 231.29 L528.1 231.4 L528.6 231.61 L529.1 230.82 L529.6 231.49 L530.1 231.08 L530.6 231.57 L531.1 231.67 L531.6 231.4 L532.1 231.48 L532.6 231.06 L533.1 231.03 L533.6 231.67 L534.1 231.43 L534.6 231.64 L535.1 231.3 L535.6 231.44 L536.1 231.36 L536.6 231.58 L537.1 231.51 L537.6 231.21 L538.1 231.57 L538.6 231.65 L539.1 231.23 L539.6 231.4 L540.1 231.26 L540.6 231.47 L541.1 231.02 L541.6 231.59 L542.1 231.26 L542.6 231.65 L543.1 231.6 L543.6 231.64 L544.1 231.46 L544.6 231.69 L545.1 231.25 L545.6 231.29 L546.1 231.4 L546.6 231.21 L547.1 231.49 L547.6 231.34 L548.1 231.68 L548.6 231.48 L549.1 231.6 L549.6 231.65 L550.1 231.65 L550.6 230.92 L551.1 231.22 L551.6 230.89 L552.1 231.23 L552.6 231.4 L553.1 231.65 L553.6 231.65 L554.1 231.68 L554.6 231.45 L555.1 231.08 L555.6 231.56 L556.1 231.09 L556.6 231.62 L557.1 231.44 L557.6 231.32 L558.1 231.49 L558.6 231.31 L559.1 231.61 L559.6 231.67 L560.1 231.41 L560.6 231.14 L561.1 231.55 L561.6 231.38 L562.1 231.62 L562.6 231.43 L563.1 231.39 L563.6 231.68 L564.1 231.48 L564.6 231.02 L565.1 231.64 L565.6 231.38 L566.1 231.4 L566.6 231.14 L567.1 231.07 L567.6 230.85 L568.1 230.59 L568.6 231.09 L569.1 231.38 L569.6 231.44 L570.1 231.42 L570.6 231.66 L571.1 231.08 L571.6 231.59 L572.1 231.65 L572.6 231.34 L573.1 231.28 L573.6 231.4 L574.1 231.14 L574.6 231.68 L575.1 231.63 L575.6 230.69 L576.1 230.99 L576.6 231.62 L577.1 231.38 L577.6 230.88 L578.1 231.4 L578.6 231.54 L579.1 231.54 L579.6 230.99 L580.1 231.69 L580.6 231.37 L581.1 231.24 L581.6 231.47 L582.1 231.66 L582.6 231.39 L583.1 231.57 L583.6 231.55 L584.1 231.28 L584.6 231.7 L585.1 231.46 L585.6 231.57 L586.1 231.67 L586.6 230.79 L587.1 231.47 L587.6 231.31 L588.1 231.27 L588.6 231.28 L589.1 231.36 L589.6 231.4 L590.1 231.66 L590.6 231 L591.1 231.09 L591.6 231.47 L592.1 231.4 L592.6 231.69 L593.1 231.68 L593.6 231.15 L594.1 231.57 L594.6 230.81 L595.1 231.38 L595.6 231.19 L596.1 231.37 L596.6 230.98 L597.1 231.4 L597.6 231.22 L598.1 231.64 L598.6 231.34 L599.1 231.3 L599.6 231.63 L600.1 231.55 L600.6 231.68 L601.1 231.64 L601.6 231.26 L602.1 231.48 L602.6 231.41 L603.1 231.53 L603.6 231.55 L603.6 240.93 L603.1 240.11 L602.6 240.15 L602.1 240.36 L601.6 240.25 L601.1 240.44 L600.6 240.45 L600.1 240.37 L599.6 240.02 L599.1 240.38 L598.6 240.13 L598.1 240.17 L597.6 240.27 L597.1 240.43 L596.6 240.32 L596.1 240.45 L595.6 240.11 L595.1 240.6 L594.6 240.08 L594.1 240.04 L593.6 240.71 L593.1 240.01 L592.6 240.04 L592.1 240.15 L591.6 240.13 L591.1 240.18 L590.6 240.16 L590.1 240.77 L589.6 240.57 L589.1 241.46 L588.6 240.13 L588.1 240.14 L587.6 240.66 L587.1 240.24 L586.6 240.04 L586.1 240.27 L585.6 240.8 L585.1 240.32 L584.6 240.23 L584.1 240.28 L583.6 240.19 L583.1 240.01 L582.6 240.63 L582.1 240.32 L581.6 240.74 L581.1 240.3 L580.6 240.03 L580.1 240.2 L579.6 240.47 L579.1 241.2 L578.6 240.6 L578.1 240.7 L577.6 240.32 L577.1 240.08 L576.6 240.18 L576.1 240.17 L575.6 240.24 L575.1 240.53 L574.6 240.2 L574.1 240.05 L573.6 240.24 L573.1 241.02 L572.6 241.28 L572.1 240.18 L571.6 240.38 L571.1 240.56 L570.6 240.23 L570.1 240.81 L569.6 240.67 L569.1 240.08 L568.6 240.14 L568.1 240.16 L567.6 241.23 L567.1 240.32 L566.6 240.55 L566.1 240.5 L565.6 240.77 L565.1 240.21 L564.6 240.08 L564.1 240.65 L563.6 240.36 L563.1 240.53 L562.6 240.4 L562.1 241.1 L561.6 240.46 L561.1 240.92 L560.6 240.04 L560.1 240.45 L559.6 240.37 L559.1 240.65 L558.6 240.24 L558.1 240.47 L557.6 240.02 L557.1 240.21 L556.6 240.2 L556.1 240.72 L555.6 240.51 L555.1 240.14 L554.6 240.21 L554.1 240.89 L553.6 240.06 L553.1 240.11 L552.6 240.76 L552.1 240.38 L551.6 240.61 L551.1 241.08 L550.6 240.23 L550.1 240.47 L549.6 240 L549.1 241.29 L548.6 240.37 L548.1 240.2 L547.6 240.29 L547.1 240.46 L546.6 240.24 L546.1 240.84 L545.6 240.11 L545.1 240.2 L544.6 240.81 L544.1 240.15 L543.6 240.71 L543.1 240.37 L542.6 240.1 L542.1 240.36 L541.6 240.26 L541.1 240.91 L540.6 240.56 L540.1 240.24 L539.6 240.3 L539.1 240.34 L538.6 240.4 L538.1 240.58 L537.6 240.17 L537.1 240.03 L536.6 240.73 L536.1 240.56 L535.6 240.49 L535.1 240.33 L534.6 240.06 L534.1 241.75 L533.6 240.61 L533.1 240.28 L532.6 240.44 L532.1 240.08 L531.6 240.35 L531.1 240.22 L530.6 240.58 L530.1 240.77 L529.6 240.49 L529.1 240.25 L528.6 240.33 L528.1 240.32 L527.6 240.62 L527.1 240.54 L526.6 240.7 L526.1 240.25 L525.6 240.05 L525.1 240.48 L524.6 240.33 L524.1 240.05 L523.6 240.32 L523.1 240.47 L522.6 240.15 L522.1 240.35 L521.6 241.11 L521.1 240.33 L520.6 240.07 L520.1 240.14 L519.6 240.41 L519.1 240.48 L518.6 240.16 L518.1 240.52 L517.6 240.53 L517.1 240.17 L516.6 240.52 L516.1 240.07 L515.6 240.17 L515.1 240.07 L514.6 240.03 L514.1 240.54 L513.6 240.33 L513.1 240.12 L512.6 240.33 L512.1 240.68 L511.6 240.2 L511.1 240.03 L510.6 240.88 L510.1 241.1 L509.6 240.19 L509.1 240.14 L508.6 240.71 L508.1 240.19 L507.6 240.37 L507.1 240.37 L506.6 240.42 L506.1 240.27 L505.6 240.52 L505.1 240.14 L504.6 240.63 L504.1 240.04 L503.6 240.63 L503.1 240.57 L502.6 240.75 L502.1 240.17 L501.6 240.11 L501.1 240.17 L500.6 240.14 L500.1 240.01 L499.6 240.07 L499.1 240.6 L498.6 240.32 L498.1 240.16 L497.6 240.15 L497.1 240.6 L496.6 240.38 L496.1 240.2 L495.6 240.13 L495.1 240.33 L494.6 240.15 L494.1 240.88 L493.6 240.3 L493.1 240.65 L492.6 240.07 L492.1 240.29 L491.6 240.27 L491.1 240.1 L490.6 240.35 L490.1 240.31 L489.6 240.45 L489.1 240.2 L488.6 240.57 L488.1 240.18 L487.6 240.72 L487.1 240.28 L486.6 240.34 L486.1 240.07 L485.6 241.23 L485.1 240.36 L484.6 240.17 L484.1 240.25 L483.6 240.1 L483.1 240.42 L482.6 240.1 L482.1 240.48 L481.6 240.65 L481.1 240.49 L480.6 240.04 L480.1 240.94 L479.6 240.2 L479.1 240.26 L478.6 240.2 L478.1 240.28 L477.6 240.66 L477.1 240.13 L476.6 240.23 L476.1 240 L475.6 240.09 L475.1 240.23 L474.6 240.52 L474.1 240.04 L473.6 240.45 L473.1 240.03 L472.6 240.96 L472.1 240.12 L471.6 240.61 L471.1 240.04 L470.6 240.22 L470.1 240.04 L469.6 240.13 L469.1 240.12 L468.6 240.65 L468.1 241.38 L467.6 240.56 L467.1 240.25 L466.6 240.44 L466.1 240.01 L465.6 240.17 L465.1 240.04 L464.6 240.19 L464.1 240.31 L463.6 240.62 L463.1 240.25 L462.6 240.02 L462.1 240.07 L461.6 240.65 L461.1 240.24 L460.6 240.55 L460.1 240.16 L459.6 240.68 L459.1 240.09 L458.6 240.24 L458.1 240.14 L457.6 240.39 L457.1 240.3 L456.6 240.02 L456.1 240.33 L455.6 240.42 L455.1 240.01 L454.6 240.61 L454.1 240.22 L453.6 240.08 L453.1 240.27 L452.6 240.18 L452.1 240.42 L451.6 240.54 L451.1 240.86 L450.6 240.63 L450.1 240.58 L449.6 240.06 L449.1 240.13 L448.6 240.37 L448.1 240.22 L447.6 241.65 L447.1 240.17 L446.6 241.21 L446.1 240.35 L445.6 240.33 L445.1 240.27 L444.6 240.23 L444.1 240.15 L443.6 241.29 L443.1 240.2 L442.6 240.12 L442.1 240.1 L441.6 240.29 L441.1 240.24 L440.6 240.11 L440.1 240.24 L439.6 240.07 L439.1 240.04 L438.6 240.16 L438.1 240.18 L437.6 240.09 L437.1 240.05 L436.6 240.09 L436.1 240.08 L435.6 240.39 L435.1 240.13 L434.6 241.07 L434.1 240.32 L433.6 240.33 L433.1 240.39 L432.6 240.5 L432.1 240.14 L431.6 240.52 L431.1 240.57 L430.6 240.01 L430.1 240.05 L429.6 240.56 L429.1 240.01 L428.6 240.11 L428.1 240.46 L427.6 240.58 L427.1 240.39 L426.6 240.7 L426.1 240.42 L425.6 240.08 L425.1 240.51 L424.6 240.84 L424.1 240.19 L423.6 240.06 L423.1 240.44 L422.6 240.06 L422.1 240.41 L421.6 240.7 L421.1 240.58 L420.6 240.38 L420.1 240.82 L419.6 240.11 L419.1 240.29 L418.6 240.23 L418.1 240.1 L417.6 240.02 L417.1 240.58 L416.6 240.08 L416.1 240.12 L415.6 240.16 L415.1 240.13 L414.6 240.22 L414.1 240.78 L413.6 241.01 L413.1 240.44 L412.6 240.19 L412.1 240.41 L411.6 240.12 L411.1 241.53 L410.6 241.25 L410.1 240.67 L409.6 240.22 L409.1 240.23 L408.6 240.06 L408.1 240.11 L407.6 240.84 L407.1 240.36 L406.6 240.28 L406.1 240.25 L405.6 240.4 L405.1 240.03 L404.6 240.19 L404.1 240.75 L403.6 240.2 L403.1 240.48 L402.6 240.18 L402.1 240.27 L401.6 240.03 L401.1 240.5 L400.6 240.91 L400.1 240.19 L399.6 240.28 L399.1 240.81 L398.6 240.11 L398.1 240.56 L397.6 240.01 L397.1 240.18 L396.6 240.54 L396.1 240.53 L395.6 240.23 L395.1 240.2 L394.6 240.09 L394.1 240.73 L393.6 241.21 L393.1 240.56 L392.6 241 L392.1 240.38 L391.6 240.3 L391.1 240.18 L390.6 240.27 L390.1 240.09 L389.6 240.75 L389.1 240.16 L388.6 240.19 L388.1 240.53 L387.6 240.12 L387.1 241.11 L386.6 240.53 L386.1 240.1 L385.6 240.69 L385.1 240.24 L384.6 240.89 L384.1 240.44 L383.6 241.08 L383.1 240.09 L382.6 240.16 L382.1 240.15 L381.6 240.66 L381.1 240.78 L380.6 240.38 L380.1 240.1 L379.6 240.7 L379.1 240.16 L378.6 240.01 L378.1 240.03 L377.6 240.43 L377.1 240.14 L376.6 240.77 L376.1 240.48 L375.6 240.83 L375.1 240.18 L374.6 240.09 L374.1 240.01 L373.6 240.36 L373.1 240.28 L372.6 240.76 L372.1 240.63 L371.6 240.3 L371.1 240.83 L370.6 240.15 L370.1 240.61 L369.6 240.1Z" fill="#000"/>
<path d="M423.52 239V241.97M560.02 239V241.93M388.35 239V241M500.41 239V243.76M453.14 239V241.33M514.16 239V243.49M490.44 239V241.68M405.08 239V244.94M492.79 239V243.49M573.48 239V244.93M562.7 239V243.59M531.98 239V245.59M601.22 239V242.25M535.88 239V246.13M401.35 239V245.41M527.23 239V243.82M497.64 239V241.38M402.6 239V245.86M374.36 239V241.05M484.02 239V242.41M482.96 239V246.29M480.78 239V245.04M418.25 239V242.55M550.85 239V245.29M477.15 239V246.14M385.74 239V246.2M425.2 239V243.02M388.71 239V241.23M453.04 239V243.52M572.22 239V246.93M452.68 239V246.93M384.42 239V245.08M417.55 239V241.55M500.76 239V241.13M564.09 239V247.14M454.29 239V246.55M589.07 239V241.04M561.73 239V244.48M500.23 239V243.94M500.97 239V246.02M508.7 239V243.34M526.31 239V241.02M478.35 239V242.31M443.7 239V241.51M552.23 239V241.97M413.4 239V242M521.55 239V242.12M418.59 239V247.04M449.49 239V241.06M479.32 239V242.43M439.95 239V243.9M405.69 239V244.21M581.36 239V241.86M439.34 239V246.06M561.26 239V247M499.78 239V243.29M546.88 239V244.25M429.39 239V245.29M465.58 239V242.11M536.94 239V243.68M534.68 239V241.05M503.75 239V243.28M594.62 239V241.19M420.07 239V246.23M453.9 239V241.46M378.25 239V242.88M520.97 239V242.39M381.25 239V243.38M523.93 239V245.47M515.61 239V243.69M379.5 239V242.51M387.49 239V245.94M382.3 239V243.27M469.82 239V242.4M443.05 239V246.26M443.4 239V241.14M419.06 239V243.5M493.43 239V241.16M575.56 239V242.9M543.93 239V242.37M503.96 239V242.89M477.95 239V242.05M407.47 239V241.47M554.4 239V242.8M434.06 239V241.5M405.31 239V246.9M544.36 239V243.91M564.56 239V243.27M384.37 239V242.02M401.18 239V241.09M555.93 239V243.43M470.13 239V245.74M541.52 239V241.33M379.5 239V241.73M526.08 239V241.01M515.91 239V244.35M385.1 239V241.52M531.57 239V242.75M378.62 239V241.19M417.59 239V244.06M548.79 239V241.16M443.52 239V241.21M393.2 239V244.76M423.06 239V246.46M474.94 239V242.32M518.58 239V241.34M392.1 239V243.82M517.66 239V246.02M530.77 239V241.18M514.36 239V243.13M390.15 239V243.13M543.82 239V246.58M401.14 239V247.04M458.39 239V244.78M379.91 239V246.18M571.13 239V241.89M526.42 239V246.26M465.53 239V241.99M505.22 239V242.85M566.82 239V243.64M597.95 239V244.74M478.74 239V242.12M483.72 239V241M412.86 239V241.46M379 239V244.15M387 239V241.71M473.23 239V241.5M574.55 239V246.15M428.44 239V244.33M534.25 239V241.04M525.07 239V241.91M393.95 239V241.72M378.6 239V242.9M381.95 239V241.92M553.09 239V242.4M478.76 239V242.62M541.74 239V241.55M488.26 239V243.37M373.58 239V241.31M477.1 239V241.06M583.74 239V246.87M474.87 239V241.32M471.85 239V245.57M486.9 239V245.1M424.53 239V247.11M581.94 239V242.66M388.07 239V245.79M403.09 239V241.85M575.98 239V243.94M435.06 239V242.62M558.89 239V241.15M503.64 239V241.33M444.76 239V242.09M455.28 239V241.76M496.36 239V242.04M482.52 239V242.37M559.97 239V241.12M521.61 239V242.15M371.19 239V242.79M536.45 239V242.73M553.34 239V241.01M594.99 239V241.62M585.32 239V241.16M507.72 239V247.11M419.88 239V247.48M508.74 239V241.96M582.43 239V241.22M548.5 239V242.23M537.36 239V241.45M524.85 239V241.3M495.53 239V243.2M552.16 239V242.9M530.36 239V241.04M517.04 239V242.32M378.36 239V246.57M540.57 239V242.3M516.59 239V245.42M518.05 239V243.03M478.02 239V244.99M514.41 239V244.2M400.71 239V241.84M546.33 239V244.34M542.84 239V243.42M440.98 239V243.95M504.4 239V245.52M492.84 239V242.15M370.88 239V242.81M569.34 239V243.63M518.51 239V241.44M584.1 239V241.32M408.3 239V245.75M396.45 239V241.39M480.64 239V241.01M557.43 239V241.9M464.53 239V243.39M548.18 239V243.16M547.67 239V245.74M391.92 239V241.24M447.19 239V241M569.44 239V242.99" stroke="#777" stroke-width="0.35" fill="none" opacity="1.0"/>
<path d="M397 239V251M398.3 239V257.5M412.5 239V248.5M436.5 239V256M512 239V249.5M543.5 239V260.5M570.5 239V261.5M575 239V251M590 239V250M593 239V256" stroke="#707070" stroke-width="0.42" fill="none" opacity="1.0"/>
<rect x="369.2" y="216.1" width="234.8" height="64.4" fill="none" stroke="#8c8c8c" stroke-width="0.95"/>
<line x1="367.9" y1="216.5" x2="369.2" y2="216.5" stroke="#666" stroke-width="0.6"/>
<text x="366.7" y="218.37" font-size="5.2" font-weight="bold" text-anchor="end" fill="#000" >30</text>
<line x1="367.9" y1="234.9" x2="369.2" y2="234.9" stroke="#666" stroke-width="0.6"/>
<text x="366.7" y="236.77" font-size="5.2" font-weight="bold" text-anchor="end" fill="#000" >20</text>
<line x1="367.9" y1="253.4" x2="369.2" y2="253.4" stroke="#666" stroke-width="0.6"/>
<text x="366.7" y="255.27" font-size="5.2" font-weight="bold" text-anchor="end" fill="#000" >10</text>
<line x1="367.9" y1="271.8" x2="369.2" y2="271.8" stroke="#666" stroke-width="0.6"/>
<text x="366.7" y="273.67" font-size="5.2" font-weight="bold" text-anchor="end" fill="#000" >0</text>
<text transform="translate(356.8,247.5) rotate(-90)" font-size="5.5" font-weight="bold" text-anchor="middle" fill="#222">Amplitude (pA)</text>
<text x="347.6" y="223.6" font-size="13.2" font-weight="bold" text-anchor="start" fill="#000" >i</text>
<text x="372.6" y="226.4" font-size="7.9" font-weight="bold" text-anchor="start" fill="#a9d18e" >Ser+Cu<tspan dy="-2.61" font-size="4.58">2+</tspan></text>
<line x1="374" y1="271.5" x2="398.1" y2="271.5" stroke="#333" stroke-width="1.2"/>
<text x="386.05" y="268.9" font-size="6.8" font-weight="bold" text-anchor="middle" fill="#000" >30 s</text>
<rect x="608.8" y="9.4" width="72.5" height="62.2" fill="none" stroke="#9bb3e3" stroke-width="1.25" stroke-dasharray="2.6 1.3"/>
<text x="613.5" y="18" font-size="7.6" font-weight="bold" text-anchor="start" fill="#000" >Cys</text>
<path d="M624.6 41.8L633.6 35.7L645.2 42.1L657.5 35.9L666.4 41.1M645.2 42.1V52.2M656.7 35.9V25.4M658.6 35.4V25.4" stroke="#111" stroke-width="0.95" fill="none" stroke-linecap="round" stroke-linejoin="round"/>
<text x="614.9" y="45.1" font-size="6.3" font-weight="bold" text-anchor="start" fill="#000" >HS</text>
<text x="667.2" y="45.1" font-size="6.3" font-weight="bold" text-anchor="start" fill="#000" >OH</text>
<text x="657.6" y="24.2" font-size="6.3" font-weight="bold" text-anchor="middle" fill="#000" >O</text>
<text x="643.2" y="58.4" font-size="6.3" font-weight="bold" text-anchor="start" fill="#000" >NH<tspan dy="1.39" font-size="4.54">2</tspan></text>
<rect x="609.2" y="78.8" width="72.6" height="62.4" fill="none" stroke="#f7c84e" stroke-width="1.25" stroke-dasharray="2.6 1.3"/>
<text x="613.5" y="87.6" font-size="7.6" font-weight="bold" text-anchor="start" fill="#000" >3-MPA</text>
<path d="M624.8 113.2L634.1 107.7L645.7 114L658 107.7L666.8 113M657.1 107.7V97.1M659 107.3V97.1" stroke="#111" stroke-width="0.95" fill="none" stroke-linecap="round" stroke-linejoin="round"/>
<text x="614.9" y="116.5" font-size="6.3" font-weight="bold" text-anchor="start" fill="#000" >HS</text>
<text x="667.6" y="116.5" font-size="6.3" font-weight="bold" text-anchor="start" fill="#000" >OH</text>
<text x="658.1" y="95.6" font-size="6.3" font-weight="bold" text-anchor="middle" fill="#000" >O</text>
<rect x="609.7" y="148.3" width="72.7" height="62.3" fill="none" stroke="#f6bd98" stroke-width="1.25" stroke-dasharray="2.6 1.3"/>
<text x="616" y="158.8" font-size="7.6" font-weight="bold" text-anchor="start" fill="#000" >Met</text>
<path d="M613 183.2L620.6 179.1M625 179L633.1 183.2L642.9 177.7L651.9 183.2L663 177.7L670.8 182.7M651.9 183.2V192.8M662.1 177.7V167.8M664 177.3V167.8" stroke="#111" stroke-width="0.95" fill="none" stroke-linecap="round" stroke-linejoin="round"/>
<text x="622.8" y="179.9" font-size="6.3" font-weight="bold" text-anchor="middle" fill="#000" >S</text>
<text x="670.7" y="185.4" font-size="6.3" font-weight="bold" text-anchor="start" fill="#000" >OH</text>
<text x="663.1" y="166.7" font-size="6.3" font-weight="bold" text-anchor="middle" fill="#000" >O</text>
<text x="650.4" y="198.4" font-size="6.3" font-weight="bold" text-anchor="start" fill="#000" >NH<tspan dy="1.39" font-size="4.54">2</tspan></text>
<rect x="610.5" y="217.6" width="72.3" height="62.6" fill="none" stroke="#b3d69b" stroke-width="1.25" stroke-dasharray="2.6 1.3"/>
<text x="617.3" y="227.2" font-size="7.6" font-weight="bold" text-anchor="start" fill="#000" >Ser</text>
<path d="M625.6 250.2L635.4 244.7L646.9 251.5L659.5 244.7L668.3 250.2M646.9 251.5V261.5M658.6 244.7V234.1M660.5 244.3V234.1" stroke="#111" stroke-width="0.95" fill="none" stroke-linecap="round" stroke-linejoin="round"/>
<text x="615.2" y="254" font-size="6.3" font-weight="bold" text-anchor="start" fill="#000" >HO</text>
<text x="669" y="254" font-size="6.3" font-weight="bold" text-anchor="start" fill="#000" >OH</text>
<text x="659.6" y="232.8" font-size="6.3" font-weight="bold" text-anchor="middle" fill="#000" >O</text>
<text x="644.6" y="267.9" font-size="6.3" font-weight="bold" text-anchor="start" fill="#000" >NH<tspan dy="1.39" font-size="4.54">2</tspan></text>
<clipPath id="cb1"><rect x="63.4" y="401.2" width="19.5" height="30.9"/></clipPath>
<rect x="63.4" y="401.2" width="19.5" height="30.9" fill="#e4eef9"/>
<path d="M62.9 400.7L83.4 380.2M62.9 403.7L83.4 383.2M62.9 406.7L83.4 386.2M62.9 409.7L83.4 389.2M62.9 412.7L83.4 392.2M62.9 415.7L83.4 395.2M62.9 418.7L83.4 398.2M62.9 421.7L83.4 401.2M62.9 424.7L83.4 404.2M62.9 427.7L83.4 407.2M62.9 430.7L83.4 410.2M62.9 433.7L83.4 413.2M62.9 436.7L83.4 416.2M62.9 439.7L83.4 419.2M62.9 442.7L83.4 422.2M62.9 445.7L83.4 425.2M62.9 448.7L83.4 428.2M62.9 451.7L83.4 431.2" stroke="#6aa3d9" stroke-width="1.45" fill="none" clip-path="url(#cb1)"/>
<clipPath id="cb2"><rect x="111" y="320.2" width="18.9" height="111.9"/></clipPath>
<rect x="111" y="320.2" width="18.9" height="111.9" fill="#e4eef9"/>
<path d="M110.5 319.7L130.4 299.8M110.5 322.7L130.4 302.8M110.5 325.7L130.4 305.8M110.5 328.7L130.4 308.8M110.5 331.7L130.4 311.8M110.5 334.7L130.4 314.8M110.5 337.7L130.4 317.8M110.5 340.7L130.4 320.8M110.5 343.7L130.4 323.8M110.5 346.7L130.4 326.8M110.5 349.7L130.4 329.8M110.5 352.7L130.4 332.8M110.5 355.7L130.4 335.8M110.5 358.7L130.4 338.8M110.5 361.7L130.4 341.8M110.5 364.7L130.4 344.8M110.5 367.7L130.4 347.8M110.5 370.7L130.4 350.8M110.5 373.7L130.4 353.8M110.5 376.7L130.4 356.8M110.5 379.7L130.4 359.8M110.5 382.7L130.4 362.8M110.5 385.7L130.4 365.8M110.5 388.7L130.4 368.8M110.5 391.7L130.4 371.8M110.5 394.7L130.4 374.8M110.5 397.7L130.4 377.8M110.5 400.7L130.4 380.8M110.5 403.7L130.4 383.8M110.5 406.7L130.4 386.8M110.5 409.7L130.4 389.8M110.5 412.7L130.4 392.8M110.5 415.7L130.4 395.8M110.5 418.7L130.4 398.8M110.5 421.7L130.4 401.8M110.5 424.7L130.4 404.8M110.5 427.7L130.4 407.8M110.5 430.7L130.4 410.8M110.5 433.7L130.4 413.8M110.5 436.7L130.4 416.8M110.5 439.7L130.4 419.8M110.5 442.7L130.4 422.8M110.5 445.7L130.4 425.8M110.5 448.7L130.4 428.8M110.5 451.7L130.4 431.8" stroke="#6aa3d9" stroke-width="1.45" fill="none" clip-path="url(#cb2)"/>
<path d="M30 305.4H163.6V432.1" fill="none" stroke="#3a3a3a" stroke-width="0.7"/>
<path d="M30 305.1V432.1" stroke="#666" stroke-width="1.2" fill="none"/>
<path d="M29.4 432.1H163.9" stroke="#222" stroke-width="0.8" fill="none"/>
<line x1="27.7" y1="305.4" x2="30" y2="305.4" stroke="#222" stroke-width="0.7"/>
<text x="26.3" y="308.17" font-size="7.7" font-weight="bold" text-anchor="end" fill="#000" >500</text>
<line x1="27.7" y1="330.74" x2="30" y2="330.74" stroke="#222" stroke-width="0.7"/>
<text x="26.3" y="333.51" font-size="7.7" font-weight="bold" text-anchor="end" fill="#000" >400</text>
<line x1="27.7" y1="356.08" x2="30" y2="356.08" stroke="#222" stroke-width="0.7"/>
<text x="26.3" y="358.85" font-size="7.7" font-weight="bold" text-anchor="end" fill="#000" >300</text>
<line x1="27.7" y1="381.42" x2="30" y2="381.42" stroke="#222" stroke-width="0.7"/>
<text x="26.3" y="384.19" font-size="7.7" font-weight="bold" text-anchor="end" fill="#000" >200</text>
<line x1="27.7" y1="406.76" x2="30" y2="406.76" stroke="#222" stroke-width="0.7"/>
<text x="26.3" y="409.53" font-size="7.7" font-weight="bold" text-anchor="end" fill="#000" >100</text>
<line x1="27.7" y1="432.1" x2="30" y2="432.1" stroke="#222" stroke-width="0.7"/>
<text x="26.3" y="434.87" font-size="7.7" font-weight="bold" text-anchor="end" fill="#000" >0</text>
<line x1="28.73" y1="318.07" x2="30" y2="318.07" stroke="#222" stroke-width="0.7"/>
<line x1="28.73" y1="343.41" x2="30" y2="343.41" stroke="#222" stroke-width="0.7"/>
<line x1="28.73" y1="368.75" x2="30" y2="368.75" stroke="#222" stroke-width="0.7"/>
<line x1="28.73" y1="394.09" x2="30" y2="394.09" stroke="#222" stroke-width="0.7"/>
<line x1="28.73" y1="419.43" x2="30" y2="419.43" stroke="#222" stroke-width="0.7"/>
<path d="M73.1 397.8V404.4" stroke="#000" stroke-width="0.85" fill="none"/>
<path d="M71.5 397.5H74.7L73.1 399.8zM71.5 402.4H74.7L73.1 404.8z" fill="#000"/>
<circle cx="73.1" cy="401.2" r="0.88" fill="#000"/>
<path d="M120.6 314.3V325.8" stroke="#000" stroke-width="0.85" fill="none"/>
<path d="M119 314H122.2L120.6 316.3zM119 323.8H122.2L120.6 326.2z" fill="#000"/>
<circle cx="120.6" cy="320.2" r="0.88" fill="#000"/>
<line x1="73.1" y1="432.1" x2="73.1" y2="433.9" stroke="#222" stroke-width="0.7"/>
<line x1="120.6" y1="432.1" x2="120.6" y2="433.9" stroke="#222" stroke-width="0.7"/>
<text x="73.2" y="445" font-size="8.2" font-weight="bold" text-anchor="middle" fill="#000" >Tris-HCl</text>
<text x="120.9" y="445" font-size="8.2" font-weight="bold" text-anchor="middle" fill="#000" >MOPS</text>
<text transform="translate(11.5,369) rotate(-90)" font-size="7.8" font-weight="bold" text-anchor="middle" fill="#000">Counts per 5 min</text>
<text x="3" y="309.7" font-size="13.5" font-weight="bold" text-anchor="start" fill="#000" >d</text>
<clipPath id="cb3"><rect x="215.2" y="424.8" width="17.6" height="5.5"/></clipPath>
<rect x="215.2" y="424.8" width="17.6" height="5.5" fill="#e4eef9"/>
<path d="M214.7 424.3L233.3 405.7M214.7 427.3L233.3 408.7M214.7 430.3L233.3 411.7M214.7 433.3L233.3 414.7M214.7 436.3L233.3 417.7M214.7 439.3L233.3 420.7M214.7 442.3L233.3 423.7M214.7 445.3L233.3 426.7M214.7 448.3L233.3 429.7" stroke="#6aa3d9" stroke-width="1.45" fill="none" clip-path="url(#cb3)"/>
<clipPath id="cb4"><rect x="259.2" y="363.3" width="17.6" height="67"/></clipPath>
<rect x="259.2" y="363.3" width="17.6" height="67" fill="#e4eef9"/>
<path d="M258.7 362.8L277.3 344.2M258.7 365.8L277.3 347.2M258.7 368.8L277.3 350.2M258.7 371.8L277.3 353.2M258.7 374.8L277.3 356.2M258.7 377.8L277.3 359.2M258.7 380.8L277.3 362.2M258.7 383.8L277.3 365.2M258.7 386.8L277.3 368.2M258.7 389.8L277.3 371.2M258.7 392.8L277.3 374.2M258.7 395.8L277.3 377.2M258.7 398.8L277.3 380.2M258.7 401.8L277.3 383.2M258.7 404.8L277.3 386.2M258.7 407.8L277.3 389.2M258.7 410.8L277.3 392.2M258.7 413.8L277.3 395.2M258.7 416.8L277.3 398.2M258.7 419.8L277.3 401.2M258.7 422.8L277.3 404.2M258.7 425.8L277.3 407.2M258.7 428.8L277.3 410.2M258.7 431.8L277.3 413.2M258.7 434.8L277.3 416.2M258.7 437.8L277.3 419.2M258.7 440.8L277.3 422.2M258.7 443.8L277.3 425.2M258.7 446.8L277.3 428.2M258.7 449.8L277.3 431.2" stroke="#6aa3d9" stroke-width="1.45" fill="none" clip-path="url(#cb4)"/>
<clipPath id="cb5"><rect x="302.7" y="334.4" width="17.5" height="95.9"/></clipPath>
<rect x="302.7" y="334.4" width="17.5" height="95.9" fill="#e4eef9"/>
<path d="M302.2 333.9L320.7 315.4M302.2 336.9L320.7 318.4M302.2 339.9L320.7 321.4M302.2 342.9L320.7 324.4M302.2 345.9L320.7 327.4M302.2 348.9L320.7 330.4M302.2 351.9L320.7 333.4M302.2 354.9L320.7 336.4M302.2 357.9L320.7 339.4M302.2 360.9L320.7 342.4M302.2 363.9L320.7 345.4M302.2 366.9L320.7 348.4M302.2 369.9L320.7 351.4M302.2 372.9L320.7 354.4M302.2 375.9L320.7 357.4M302.2 378.9L320.7 360.4M302.2 381.9L320.7 363.4M302.2 384.9L320.7 366.4M302.2 387.9L320.7 369.4M302.2 390.9L320.7 372.4M302.2 393.9L320.7 375.4M302.2 396.9L320.7 378.4M302.2 399.9L320.7 381.4M302.2 402.9L320.7 384.4M302.2 405.9L320.7 387.4M302.2 408.9L320.7 390.4M302.2 411.9L320.7 393.4M302.2 414.9L320.7 396.4M302.2 417.9L320.7 399.4M302.2 420.9L320.7 402.4M302.2 423.9L320.7 405.4M302.2 426.9L320.7 408.4M302.2 429.9L320.7 411.4M302.2 432.9L320.7 414.4M302.2 435.9L320.7 417.4M302.2 438.9L320.7 420.4M302.2 441.9L320.7 423.4M302.2 444.9L320.7 426.4M302.2 447.9L320.7 429.4" stroke="#6aa3d9" stroke-width="1.45" fill="none" clip-path="url(#cb5)"/>
<path d="M202 306.3H332.8V430.3" fill="none" stroke="#3a3a3a" stroke-width="0.7"/>
<path d="M202 306V430.3" stroke="#666" stroke-width="1.2" fill="none"/>
<path d="M201.4 430.3H333.1" stroke="#222" stroke-width="0.8" fill="none"/>
<line x1="199.7" y1="306.3" x2="202" y2="306.3" stroke="#222" stroke-width="0.7"/>
<text x="197.5" y="309.04" font-size="7.6" font-weight="bold" text-anchor="end" fill="#000" >60</text>
<line x1="199.7" y1="326.97" x2="202" y2="326.97" stroke="#222" stroke-width="0.7"/>
<text x="197.5" y="329.7" font-size="7.6" font-weight="bold" text-anchor="end" fill="#000" >50</text>
<line x1="199.7" y1="347.63" x2="202" y2="347.63" stroke="#222" stroke-width="0.7"/>
<text x="197.5" y="350.37" font-size="7.6" font-weight="bold" text-anchor="end" fill="#000" >40</text>
<line x1="199.7" y1="368.3" x2="202" y2="368.3" stroke="#222" stroke-width="0.7"/>
<text x="197.5" y="371.04" font-size="7.6" font-weight="bold" text-anchor="end" fill="#000" >30</text>
<line x1="199.7" y1="388.97" x2="202" y2="388.97" stroke="#222" stroke-width="0.7"/>
<text x="197.5" y="391.7" font-size="7.6" font-weight="bold" text-anchor="end" fill="#000" >20</text>
<line x1="199.7" y1="409.63" x2="202" y2="409.63" stroke="#222" stroke-width="0.7"/>
<text x="197.5" y="412.37" font-size="7.6" font-weight="bold" text-anchor="end" fill="#000" >10</text>
<line x1="199.7" y1="430.3" x2="202" y2="430.3" stroke="#222" stroke-width="0.7"/>
<text x="197.5" y="433.04" font-size="7.6" font-weight="bold" text-anchor="end" fill="#000" >0</text>
<line x1="200.74" y1="316.63" x2="202" y2="316.63" stroke="#222" stroke-width="0.7"/>
<line x1="200.74" y1="337.3" x2="202" y2="337.3" stroke="#222" stroke-width="0.7"/>
<line x1="200.74" y1="357.97" x2="202" y2="357.97" stroke="#222" stroke-width="0.7"/>
<line x1="200.74" y1="378.63" x2="202" y2="378.63" stroke="#222" stroke-width="0.7"/>
<line x1="200.74" y1="399.3" x2="202" y2="399.3" stroke="#222" stroke-width="0.7"/>
<line x1="200.74" y1="419.97" x2="202" y2="419.97" stroke="#222" stroke-width="0.7"/>
<path d="M224 422.6V426.3" stroke="#000" stroke-width="0.85" fill="none"/>
<path d="M222.4 422.3H225.6L224 424.6zM222.4 424.3H225.6L224 426.7z" fill="#000"/>
<circle cx="224" cy="424.8" r="0.88" fill="#000"/>
<path d="M267.8 354.5V372.8" stroke="#000" stroke-width="0.85" fill="none"/>
<path d="M266.2 354.2H269.4L267.8 356.5zM266.2 370.8H269.4L267.8 373.2z" fill="#000"/>
<circle cx="267.8" cy="363.3" r="0.88" fill="#000"/>
<path d="M311.6 327.5V342.5" stroke="#000" stroke-width="0.85" fill="none"/>
<path d="M310 327.2H313.2L311.6 329.5zM310 340.5H313.2L311.6 342.9z" fill="#000"/>
<circle cx="311.6" cy="334.4" r="0.88" fill="#000"/>
<line x1="224" y1="430.3" x2="224" y2="432.1" stroke="#222" stroke-width="0.7"/>
<line x1="267.8" y1="430.3" x2="267.8" y2="432.1" stroke="#222" stroke-width="0.7"/>
<line x1="311.6" y1="430.3" x2="311.6" y2="432.1" stroke="#222" stroke-width="0.7"/>
<text x="224.1" y="443.7" font-size="8" font-weight="bold" text-anchor="middle" fill="#000" >pH 6</text>
<text x="267.9" y="443.7" font-size="8" font-weight="bold" text-anchor="middle" fill="#000" >pH 7</text>
<text x="311.5" y="443.7" font-size="8" font-weight="bold" text-anchor="middle" fill="#000" >pH 7.4</text>
<text transform="translate(183.6,368) rotate(-90)" font-size="7.7" font-weight="bold" text-anchor="middle" fill="#000">Dwell time (ms)</text>
<text x="176.5" y="309.5" font-size="13.5" font-weight="bold" text-anchor="start" fill="#000" >e</text>
<clipPath id="cb6"><rect x="390" y="364.6" width="12.6" height="64.9"/></clipPath>
<rect x="390" y="364.6" width="12.6" height="64.9" fill="#f1f6fc"/>
<path d="M389.5 364.1L403.1 350.5M389.5 367.1L403.1 353.5M389.5 370.1L403.1 356.5M389.5 373.1L403.1 359.5M389.5 376.1L403.1 362.5M389.5 379.1L403.1 365.5M389.5 382.1L403.1 368.5M389.5 385.1L403.1 371.5M389.5 388.1L403.1 374.5M389.5 391.1L403.1 377.5M389.5 394.1L403.1 380.5M389.5 397.1L403.1 383.5M389.5 400.1L403.1 386.5M389.5 403.1L403.1 389.5M389.5 406.1L403.1 392.5M389.5 409.1L403.1 395.5M389.5 412.1L403.1 398.5M389.5 415.1L403.1 401.5M389.5 418.1L403.1 404.5M389.5 421.1L403.1 407.5M389.5 424.1L403.1 410.5M389.5 427.1L403.1 413.5M389.5 430.1L403.1 416.5M389.5 433.1L403.1 419.5M389.5 436.1L403.1 422.5M389.5 439.1L403.1 425.5M389.5 442.1L403.1 428.5" stroke="#83b3e2" stroke-width="1.05" fill="none" clip-path="url(#cb6)"/>
<clipPath id="cb7"><rect x="415.4" y="330.4" width="13" height="99.1"/></clipPath>
<rect x="415.4" y="330.4" width="13" height="99.1" fill="#c8dcf2"/>
<path d="M414.9 329.9L428.9 315.9M414.9 332.9L428.9 318.9M414.9 335.9L428.9 321.9M414.9 338.9L428.9 324.9M414.9 341.9L428.9 327.9M414.9 344.9L428.9 330.9M414.9 347.9L428.9 333.9M414.9 350.9L428.9 336.9M414.9 353.9L428.9 339.9M414.9 356.9L428.9 342.9M414.9 359.9L428.9 345.9M414.9 362.9L428.9 348.9M414.9 365.9L428.9 351.9M414.9 368.9L428.9 354.9M414.9 371.9L428.9 357.9M414.9 374.9L428.9 360.9M414.9 377.9L428.9 363.9M414.9 380.9L428.9 366.9M414.9 383.9L428.9 369.9M414.9 386.9L428.9 372.9M414.9 389.9L428.9 375.9M414.9 392.9L428.9 378.9M414.9 395.9L428.9 381.9M414.9 398.9L428.9 384.9M414.9 401.9L428.9 387.9M414.9 404.9L428.9 390.9M414.9 407.9L428.9 393.9M414.9 410.9L428.9 396.9M414.9 413.9L428.9 399.9M414.9 416.9L428.9 402.9M414.9 419.9L428.9 405.9M414.9 422.9L428.9 408.9M414.9 425.9L428.9 411.9M414.9 428.9L428.9 414.9M414.9 431.9L428.9 417.9M414.9 434.9L428.9 420.9M414.9 437.9L428.9 423.9M414.9 440.9L428.9 426.9M414.9 443.9L428.9 429.9" stroke="#5b9bd5" stroke-width="1.2" fill="none" clip-path="url(#cb7)"/>
<clipPath id="cb8"><rect x="441" y="375.4" width="12.8" height="54.1"/></clipPath>
<rect x="441" y="375.4" width="12.8" height="54.1" fill="#f1f6fc"/>
<path d="M440.5 374.9L454.3 361.1M440.5 377.9L454.3 364.1M440.5 380.9L454.3 367.1M440.5 383.9L454.3 370.1M440.5 386.9L454.3 373.1M440.5 389.9L454.3 376.1M440.5 392.9L454.3 379.1M440.5 395.9L454.3 382.1M440.5 398.9L454.3 385.1M440.5 401.9L454.3 388.1M440.5 404.9L454.3 391.1M440.5 407.9L454.3 394.1M440.5 410.9L454.3 397.1M440.5 413.9L454.3 400.1M440.5 416.9L454.3 403.1M440.5 419.9L454.3 406.1M440.5 422.9L454.3 409.1M440.5 425.9L454.3 412.1M440.5 428.9L454.3 415.1M440.5 431.9L454.3 418.1M440.5 434.9L454.3 421.1M440.5 437.9L454.3 424.1M440.5 440.9L454.3 427.1M440.5 443.9L454.3 430.1" stroke="#83b3e2" stroke-width="1.05" fill="none" clip-path="url(#cb8)"/>
<clipPath id="cb9"><rect x="466.9" y="421.3" width="13" height="8.2"/></clipPath>
<rect x="466.9" y="421.3" width="13" height="8.2" fill="#f1f6fc"/>
<path d="M466.4 420.8L480.4 406.8M466.4 423.8L480.4 409.8M466.4 426.8L480.4 412.8M466.4 429.8L480.4 415.8M466.4 432.8L480.4 418.8M466.4 435.8L480.4 421.8M466.4 438.8L480.4 424.8M466.4 441.8L480.4 427.8M466.4 444.8L480.4 430.8" stroke="#83b3e2" stroke-width="1.05" fill="none" clip-path="url(#cb9)"/>
<path d="M370 307.2H500V429.5" fill="none" stroke="#3a3a3a" stroke-width="0.7"/>
<path d="M370 306.9V429.5" stroke="#333" stroke-width="0.9" fill="none"/>
<path d="M369.55 429.5H500.3" stroke="#222" stroke-width="0.8" fill="none"/>
<line x1="367.8" y1="307.2" x2="370" y2="307.2" stroke="#222" stroke-width="0.7"/>
<text x="366.4" y="309.47" font-size="6.3" font-weight="bold" text-anchor="end" fill="#000" >500</text>
<line x1="367.8" y1="331.66" x2="370" y2="331.66" stroke="#222" stroke-width="0.7"/>
<text x="366.4" y="333.93" font-size="6.3" font-weight="bold" text-anchor="end" fill="#000" >400</text>
<line x1="367.8" y1="356.12" x2="370" y2="356.12" stroke="#222" stroke-width="0.7"/>
<text x="366.4" y="358.39" font-size="6.3" font-weight="bold" text-anchor="end" fill="#000" >300</text>
<line x1="367.8" y1="380.58" x2="370" y2="380.58" stroke="#222" stroke-width="0.7"/>
<text x="366.4" y="382.85" font-size="6.3" font-weight="bold" text-anchor="end" fill="#000" >200</text>
<line x1="367.8" y1="405.04" x2="370" y2="405.04" stroke="#222" stroke-width="0.7"/>
<text x="366.4" y="407.31" font-size="6.3" font-weight="bold" text-anchor="end" fill="#000" >100</text>
<line x1="367.8" y1="429.5" x2="370" y2="429.5" stroke="#222" stroke-width="0.7"/>
<text x="366.4" y="431.77" font-size="6.3" font-weight="bold" text-anchor="end" fill="#000" >0</text>
<line x1="368.79" y1="319.43" x2="370" y2="319.43" stroke="#222" stroke-width="0.7"/>
<line x1="368.79" y1="343.89" x2="370" y2="343.89" stroke="#222" stroke-width="0.7"/>
<line x1="368.79" y1="368.35" x2="370" y2="368.35" stroke="#222" stroke-width="0.7"/>
<line x1="368.79" y1="392.81" x2="370" y2="392.81" stroke="#222" stroke-width="0.7"/>
<line x1="368.79" y1="417.27" x2="370" y2="417.27" stroke="#222" stroke-width="0.7"/>
<path d="M396.3 359.3V370.5" stroke="#000" stroke-width="0.5" fill="none"/>
<path d="M395.3 359H397.3L396.3 361.3zM395.3 368.5H397.3L396.3 370.9z" fill="#000"/>
<circle cx="396.3" cy="363.6" r="0.55" fill="#000"/>
<path d="M421.9 316.5V341.5" stroke="#000" stroke-width="0.5" fill="none"/>
<path d="M420.9 316.2H422.9L421.9 318.5zM420.9 339.5H422.9L421.9 341.9z" fill="#000"/>
<circle cx="421.9" cy="336.5" r="0.55" fill="#000"/>
<path d="M447.5 361.3V391.6" stroke="#000" stroke-width="0.5" fill="none"/>
<path d="M446.5 361H448.5L447.5 363.3zM446.5 389.6H448.5L447.5 392z" fill="#000"/>
<circle cx="447.5" cy="373.4" r="0.55" fill="#000"/>
<path d="M473.4 416.2V425.7" stroke="#000" stroke-width="0.5" fill="none"/>
<path d="M472.4 415.9H474.4L473.4 418.2zM472.4 423.7H474.4L473.4 426.1z" fill="#000"/>
<circle cx="473.4" cy="421.5" r="0.55" fill="#000"/>
<path d="M396.3 363.2L421.9 330.6L447.5 374.6L473.4 421.3" stroke="#111" stroke-width="0.8" fill="none"/>
<line x1="396.3" y1="429.5" x2="396.3" y2="431.7" stroke="#222" stroke-width="0.7"/>
<line x1="421.9" y1="429.5" x2="421.9" y2="431.7" stroke="#222" stroke-width="0.7"/>
<line x1="447.5" y1="429.5" x2="447.5" y2="431.7" stroke="#222" stroke-width="0.7"/>
<line x1="473.4" y1="429.5" x2="473.4" y2="431.7" stroke="#222" stroke-width="0.7"/>
<line x1="370" y1="429.5" x2="370" y2="431.7" stroke="#222" stroke-width="0.7"/>
<line x1="500" y1="429.5" x2="500" y2="431.7" stroke="#222" stroke-width="0.7"/>
<text x="396.3" y="440" font-size="6.3" font-weight="bold" text-anchor="middle" fill="#000" >1:0.5</text>
<text x="421.9" y="440" font-size="6.3" font-weight="bold" text-anchor="middle" fill="#000" >1:1</text>
<text x="447.5" y="440" font-size="6.3" font-weight="bold" text-anchor="middle" fill="#000" >1:1.5</text>
<text x="473.4" y="440" font-size="6.3" font-weight="bold" text-anchor="middle" fill="#000" >1:2</text>
<text x="434.7" y="450" font-size="7.6" font-weight="bold" text-anchor="middle" fill="#000" >The ratio of Cu<tspan dy="-2.51" font-size="4.94">2+</tspan><tspan dy="2.51"> to L-Cys</tspan></text>
<text transform="translate(350.2,368.4) rotate(-90)" font-size="7.8" font-weight="bold" text-anchor="middle" fill="#000">Counts per 5 min</text>
<text x="346.8" y="306.1" font-size="13.5" font-weight="bold" text-anchor="start" fill="#000" >j</text>
<rect x="523.9" y="306.8" width="155.8" height="60.6" fill="#76a6d9"/>
<rect x="523.9" y="367.4" width="155.8" height="62.4" fill="#d9d9d9"/>
<rect x="523.9" y="306.8" width="155.8" height="123" fill="none" stroke="#4a4a4a" stroke-width="1.1"/>
<text x="511.2" y="306.6" font-size="13.5" font-weight="bold" text-anchor="start" fill="#000" >k</text>
<text x="674.8" y="315.6" font-size="8.6" font-weight="bold" text-anchor="end" fill="#000" >Cys-Cu</text>
<text x="526.3" y="361.6" font-size="8.6" font-weight="bold" text-anchor="start" fill="#000" >Cu:Cys=1:1</text>
<text x="675.4" y="374.7" font-size="8.6" font-weight="bold" text-anchor="end" fill="#000" >Cys-Cu-Cys</text>
<text x="526.3" y="425.7" font-size="8.6" font-weight="bold" text-anchor="start" fill="#000" >Cu:Cys=1:2</text>
<path d="M584.2 321.6L594.6 327.1L604.0 321.8M594.6 327.1V343.2L584.2 348.9M594.6 343.2L604.0 348.6" stroke="#111" stroke-width="1.05" fill="none" stroke-linecap="round" stroke-linejoin="round"/>
<text x="562.8" y="322.9" font-size="6.7" font-weight="bold" text-anchor="start" fill="#000" >HOOC</text>
<text x="604.6" y="315.7" font-size="6.7" font-weight="bold" text-anchor="start" fill="#000" >H<tspan dy="1.47" font-size="4.82">2</tspan></text>
<text x="607.5" y="322.9" font-size="6.7" font-weight="bold" text-anchor="middle" fill="#000" >N</text>
<text x="617.4" y="336.7" font-size="6.7" font-weight="bold" text-anchor="middle" fill="#000" >Cu</text>
<text x="607.6" y="352" font-size="6.7" font-weight="bold" text-anchor="middle" fill="#000" >S</text>
<text x="608" y="359" font-size="6.7" font-weight="bold" text-anchor="middle" fill="#000" >H</text>
<text x="580.6" y="353" font-size="6.7" font-weight="bold" text-anchor="middle" fill="#000" >H</text>
<path d="M609.2 323.6L611.79 327.77" stroke="#111" stroke-width="1.0" fill="none"/>
<path d="M613.8 331L610.38 328.06L612.68 326.64z" fill="#111"/>
<path d="M609.8 346.4L612.18 341.34" stroke="#111" stroke-width="1.0" fill="none"/>
<path d="M613.8 337.9L613.19 342.37L610.75 341.22z" fill="#111"/>
<path d="M566.4 382.5L576.5 388.3L586.8 382.7M576.5 388.3V403.5L567.5 409.2M576.5 403.5L586.8 409.2M612.9 382.6L623.8 387.7L632.8 381.9M623.8 387.7V402.7L613.5 408.7M623.8 402.7L633.5 409.2" stroke="#111" stroke-width="1.05" fill="none" stroke-linecap="round" stroke-linejoin="round"/>
<text x="546.4" y="383.6" font-size="6.7" font-weight="bold" text-anchor="start" fill="#000" >HOOC</text>
<text x="587" y="376.6" font-size="6.7" font-weight="bold" text-anchor="start" fill="#000" >H<tspan dy="1.47" font-size="4.82">2</tspan></text>
<text x="589.7" y="383.5" font-size="6.7" font-weight="bold" text-anchor="middle" fill="#000" >N</text>
<text x="610.1" y="376.6" font-size="6.7" font-weight="bold" text-anchor="middle" fill="#000" >H</text>
<text x="610.1" y="383.2" font-size="6.7" font-weight="bold" text-anchor="middle" fill="#000" >S</text>
<text x="635.1" y="383.2" font-size="6.7" font-weight="bold" text-anchor="middle" fill="#000" >H</text>
<text x="600.2" y="397.7" font-size="6.7" font-weight="bold" text-anchor="middle" fill="#000" >Cu</text>
<text x="589.6" y="412.4" font-size="6.7" font-weight="bold" text-anchor="middle" fill="#000" >S</text>
<text x="589.6" y="419" font-size="6.7" font-weight="bold" text-anchor="middle" fill="#000" >H</text>
<text x="610.2" y="412.4" font-size="6.7" font-weight="bold" text-anchor="middle" fill="#000" >N</text>
<text x="607.9" y="419.4" font-size="6.7" font-weight="bold" text-anchor="start" fill="#000" >H<tspan dy="1.47" font-size="4.82">2</tspan></text>
<text x="564.9" y="412.4" font-size="6.7" font-weight="bold" text-anchor="middle" fill="#000" >H</text>
<text x="633.8" y="412" font-size="6.7" font-weight="bold" text-anchor="start" fill="#000" >COOH</text>
<path d="M592.1 385L595.08 389.44" stroke="#111" stroke-width="1.0" fill="none"/>
<path d="M597.2 392.6L593.68 389.78L595.92 388.28z" fill="#111"/>
<path d="M608.7 384.2L605.43 389.05" stroke="#111" stroke-width="1.0" fill="none"/>
<path d="M603.3 392.2L604.59 387.88L606.82 389.39z" fill="#111"/>
<path d="M592.1 406.8L595.27 402.7" stroke="#111" stroke-width="1.0" fill="none"/>
<path d="M597.6 399.7L596.03 403.93L593.9 402.27z" fill="#111"/>
<path d="M607.9 406.8L605.16 402.83" stroke="#111" stroke-width="1.0" fill="none"/>
<path d="M603 399.7L606.55 402.47L604.33 404.01z" fill="#111"/>
</svg></body></html>
